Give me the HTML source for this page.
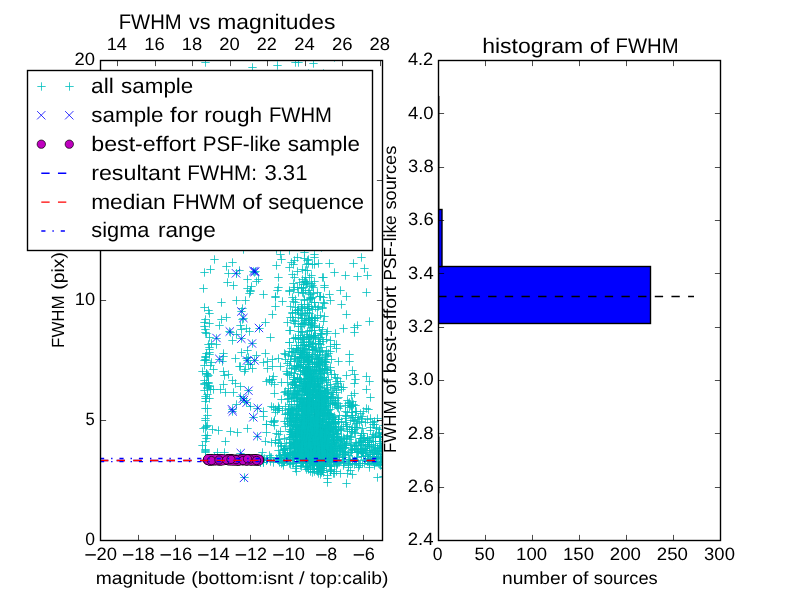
<!DOCTYPE html>
<html><head><meta charset="utf-8"><title>FWHM</title>
<style>
html,body{margin:0;padding:0;background:#fff;}
body{width:800px;height:600px;overflow:hidden;}
svg{display:block;will-change:transform;}
text{font-family:"Liberation Sans",sans-serif;fill:#000;font-kerning:none;text-rendering:geometricPrecision;}
</style></head><body>
<svg width="800" height="600" viewBox="0 0 800 600">
<rect width="800" height="600" fill="#fff"/>
<defs><clipPath id="c1"><rect x="100" y="60" width="282" height="480"/></clipPath><clipPath id="c2"><rect x="438" y="60" width="282" height="480"/></clipPath></defs>
<g clip-path="url(#c1)">
<path d="M327.3 444.5h8.4m-4.2-4.2v8.4M301.3 443.5h8.4m-4.2-4.2v8.4M307.3 382.5h8.4m-4.2-4.2v8.4M312.3 460.5h8.4m-4.2-4.2v8.4M298.3 323.5h8.4m-4.2-4.2v8.4M307.3 383.5h8.4m-4.2-4.2v8.4M307.3 286.5h8.4m-4.2-4.2v8.4M286.3 330.5h8.4m-4.2-4.2v8.4M319.3 406.5h8.4m-4.2-4.2v8.4M314.3 449.5h8.4m-4.2-4.2v8.4M300.3 357.5h8.4m-4.2-4.2v8.4M305.3 418.5h8.4m-4.2-4.2v8.4M313.3 432.5h8.4m-4.2-4.2v8.4M304.3 373.5h8.4m-4.2-4.2v8.4M304.3 430.5h8.4m-4.2-4.2v8.4M313.3 405.5h8.4m-4.2-4.2v8.4M308.3 349.5h8.4m-4.2-4.2v8.4M310.3 350.5h8.4m-4.2-4.2v8.4M289.3 397.5h8.4m-4.2-4.2v8.4M326.3 367.5h8.4m-4.2-4.2v8.4M309.3 423.5h8.4m-4.2-4.2v8.4M302.3 414.5h8.4m-4.2-4.2v8.4M330.3 272.5h8.4m-4.2-4.2v8.4M306.3 389.5h8.4m-4.2-4.2v8.4M290.3 385.5h8.4m-4.2-4.2v8.4M280.3 392.5h8.4m-4.2-4.2v8.4M319.3 463.5h8.4m-4.2-4.2v8.4M302.3 395.5h8.4m-4.2-4.2v8.4M298.3 402.5h8.4m-4.2-4.2v8.4M319.3 412.5h8.4m-4.2-4.2v8.4M313.3 394.5h8.4m-4.2-4.2v8.4M299.3 364.5h8.4m-4.2-4.2v8.4M324.3 437.5h8.4m-4.2-4.2v8.4M327.3 439.5h8.4m-4.2-4.2v8.4M303.3 421.5h8.4m-4.2-4.2v8.4M317.3 360.5h8.4m-4.2-4.2v8.4M305.3 349.5h8.4m-4.2-4.2v8.4M313.3 406.5h8.4m-4.2-4.2v8.4M298.3 425.5h8.4m-4.2-4.2v8.4M287.3 434.5h8.4m-4.2-4.2v8.4M286.3 458.5h8.4m-4.2-4.2v8.4M311.3 430.5h8.4m-4.2-4.2v8.4M333.3 440.5h8.4m-4.2-4.2v8.4M310.3 254.5h8.4m-4.2-4.2v8.4M301.3 413.5h8.4m-4.2-4.2v8.4M329.3 419.5h8.4m-4.2-4.2v8.4M310.3 422.5h8.4m-4.2-4.2v8.4M308.3 451.5h8.4m-4.2-4.2v8.4M310.3 447.5h8.4m-4.2-4.2v8.4M305.3 401.5h8.4m-4.2-4.2v8.4M303.3 373.5h8.4m-4.2-4.2v8.4M313.3 440.5h8.4m-4.2-4.2v8.4M306.3 391.5h8.4m-4.2-4.2v8.4M321.3 391.5h8.4m-4.2-4.2v8.4M303.3 378.5h8.4m-4.2-4.2v8.4M285.3 452.5h8.4m-4.2-4.2v8.4M306.3 342.5h8.4m-4.2-4.2v8.4M327.3 414.5h8.4m-4.2-4.2v8.4M302.3 399.5h8.4m-4.2-4.2v8.4M296.3 456.5h8.4m-4.2-4.2v8.4M293.3 257.5h8.4m-4.2-4.2v8.4M295.3 386.5h8.4m-4.2-4.2v8.4M303.3 444.5h8.4m-4.2-4.2v8.4M293.3 393.5h8.4m-4.2-4.2v8.4M324.3 456.5h8.4m-4.2-4.2v8.4M304.3 459.5h8.4m-4.2-4.2v8.4M308.3 390.5h8.4m-4.2-4.2v8.4M324.3 409.5h8.4m-4.2-4.2v8.4M324.3 413.5h8.4m-4.2-4.2v8.4M304.3 468.5h8.4m-4.2-4.2v8.4M311.3 458.5h8.4m-4.2-4.2v8.4M315.3 465.5h8.4m-4.2-4.2v8.4M305.3 443.5h8.4m-4.2-4.2v8.4M286.3 453.5h8.4m-4.2-4.2v8.4M314.3 413.5h8.4m-4.2-4.2v8.4M317.3 393.5h8.4m-4.2-4.2v8.4M312.3 426.5h8.4m-4.2-4.2v8.4M296.3 385.5h8.4m-4.2-4.2v8.4M305.3 438.5h8.4m-4.2-4.2v8.4M300.3 324.5h8.4m-4.2-4.2v8.4M303.3 394.5h8.4m-4.2-4.2v8.4M322.3 445.5h8.4m-4.2-4.2v8.4M325.3 434.5h8.4m-4.2-4.2v8.4M315.3 428.5h8.4m-4.2-4.2v8.4M313.3 363.5h8.4m-4.2-4.2v8.4M315.3 391.5h8.4m-4.2-4.2v8.4M307.3 452.5h8.4m-4.2-4.2v8.4M306.3 397.5h8.4m-4.2-4.2v8.4M299.3 462.5h8.4m-4.2-4.2v8.4M306.3 418.5h8.4m-4.2-4.2v8.4M333.3 407.5h8.4m-4.2-4.2v8.4M317.3 454.5h8.4m-4.2-4.2v8.4M303.3 394.5h8.4m-4.2-4.2v8.4M301.3 431.5h8.4m-4.2-4.2v8.4M297.3 451.5h8.4m-4.2-4.2v8.4M311.3 349.5h8.4m-4.2-4.2v8.4M311.3 396.5h8.4m-4.2-4.2v8.4M290.3 443.5h8.4m-4.2-4.2v8.4M313.3 446.5h8.4m-4.2-4.2v8.4M300.3 432.5h8.4m-4.2-4.2v8.4M323.3 389.5h8.4m-4.2-4.2v8.4M309.3 337.5h8.4m-4.2-4.2v8.4M327.3 423.5h8.4m-4.2-4.2v8.4M302.3 463.5h8.4m-4.2-4.2v8.4M303.3 461.5h8.4m-4.2-4.2v8.4M310.3 433.5h8.4m-4.2-4.2v8.4M319.3 395.5h8.4m-4.2-4.2v8.4M313.3 445.5h8.4m-4.2-4.2v8.4M292.3 398.5h8.4m-4.2-4.2v8.4M309.3 465.5h8.4m-4.2-4.2v8.4M307.3 441.5h8.4m-4.2-4.2v8.4M302.3 398.5h8.4m-4.2-4.2v8.4M299.3 389.5h8.4m-4.2-4.2v8.4M327.3 441.5h8.4m-4.2-4.2v8.4M302.3 446.5h8.4m-4.2-4.2v8.4M297.3 452.5h8.4m-4.2-4.2v8.4M314.3 431.5h8.4m-4.2-4.2v8.4M308.3 434.5h8.4m-4.2-4.2v8.4M306.3 369.5h8.4m-4.2-4.2v8.4M316.3 442.5h8.4m-4.2-4.2v8.4M313.3 454.5h8.4m-4.2-4.2v8.4M311.3 424.5h8.4m-4.2-4.2v8.4M318.3 395.5h8.4m-4.2-4.2v8.4M310.3 387.5h8.4m-4.2-4.2v8.4M300.3 455.5h8.4m-4.2-4.2v8.4M303.3 414.5h8.4m-4.2-4.2v8.4M301.3 389.5h8.4m-4.2-4.2v8.4M309.3 425.5h8.4m-4.2-4.2v8.4M294.3 326.5h8.4m-4.2-4.2v8.4M286.3 448.5h8.4m-4.2-4.2v8.4M308.3 432.5h8.4m-4.2-4.2v8.4M291.3 369.5h8.4m-4.2-4.2v8.4M311.3 457.5h8.4m-4.2-4.2v8.4M299.3 370.5h8.4m-4.2-4.2v8.4M313.3 438.5h8.4m-4.2-4.2v8.4M301.3 368.5h8.4m-4.2-4.2v8.4M294.3 408.5h8.4m-4.2-4.2v8.4M292.3 348.5h8.4m-4.2-4.2v8.4M301.3 449.5h8.4m-4.2-4.2v8.4M304.3 318.5h8.4m-4.2-4.2v8.4M297.3 425.5h8.4m-4.2-4.2v8.4M304.3 362.5h8.4m-4.2-4.2v8.4M289.3 439.5h8.4m-4.2-4.2v8.4M307.3 446.5h8.4m-4.2-4.2v8.4M286.3 431.5h8.4m-4.2-4.2v8.4M305.3 395.5h8.4m-4.2-4.2v8.4M315.3 364.5h8.4m-4.2-4.2v8.4M320.3 431.5h8.4m-4.2-4.2v8.4M327.3 464.5h8.4m-4.2-4.2v8.4M289.3 264.5h8.4m-4.2-4.2v8.4M316.3 404.5h8.4m-4.2-4.2v8.4M321.3 439.5h8.4m-4.2-4.2v8.4M318.3 415.5h8.4m-4.2-4.2v8.4M296.3 447.5h8.4m-4.2-4.2v8.4M312.3 426.5h8.4m-4.2-4.2v8.4M329.3 454.5h8.4m-4.2-4.2v8.4M289.3 441.5h8.4m-4.2-4.2v8.4M312.3 449.5h8.4m-4.2-4.2v8.4M320.3 438.5h8.4m-4.2-4.2v8.4M299.3 350.5h8.4m-4.2-4.2v8.4M314.3 393.5h8.4m-4.2-4.2v8.4M294.3 425.5h8.4m-4.2-4.2v8.4M297.3 318.5h8.4m-4.2-4.2v8.4M297.3 441.5h8.4m-4.2-4.2v8.4M309.3 397.5h8.4m-4.2-4.2v8.4M306.3 371.5h8.4m-4.2-4.2v8.4M318.3 458.5h8.4m-4.2-4.2v8.4M296.3 338.5h8.4m-4.2-4.2v8.4M305.3 376.5h8.4m-4.2-4.2v8.4M318.3 416.5h8.4m-4.2-4.2v8.4M313.3 422.5h8.4m-4.2-4.2v8.4M291.3 393.5h8.4m-4.2-4.2v8.4M315.3 426.5h8.4m-4.2-4.2v8.4M301.3 467.5h8.4m-4.2-4.2v8.4M311.3 450.5h8.4m-4.2-4.2v8.4M310.3 366.5h8.4m-4.2-4.2v8.4M321.3 432.5h8.4m-4.2-4.2v8.4M308.3 452.5h8.4m-4.2-4.2v8.4M285.3 291.5h8.4m-4.2-4.2v8.4M291.3 417.5h8.4m-4.2-4.2v8.4M315.3 439.5h8.4m-4.2-4.2v8.4M304.3 418.5h8.4m-4.2-4.2v8.4M320.3 462.5h8.4m-4.2-4.2v8.4M310.3 411.5h8.4m-4.2-4.2v8.4M298.3 388.5h8.4m-4.2-4.2v8.4M319.3 472.5h8.4m-4.2-4.2v8.4M297.3 420.5h8.4m-4.2-4.2v8.4M283.3 394.5h8.4m-4.2-4.2v8.4M331.3 448.5h8.4m-4.2-4.2v8.4M285.3 342.5h8.4m-4.2-4.2v8.4M314.3 395.5h8.4m-4.2-4.2v8.4M318.3 462.5h8.4m-4.2-4.2v8.4M309.3 409.5h8.4m-4.2-4.2v8.4M287.3 398.5h8.4m-4.2-4.2v8.4M319.3 439.5h8.4m-4.2-4.2v8.4M290.3 382.5h8.4m-4.2-4.2v8.4M291.3 422.5h8.4m-4.2-4.2v8.4M303.3 424.5h8.4m-4.2-4.2v8.4M316.3 457.5h8.4m-4.2-4.2v8.4M310.3 411.5h8.4m-4.2-4.2v8.4M316.3 462.5h8.4m-4.2-4.2v8.4M302.3 390.5h8.4m-4.2-4.2v8.4M305.3 452.5h8.4m-4.2-4.2v8.4M294.3 453.5h8.4m-4.2-4.2v8.4M303.3 352.5h8.4m-4.2-4.2v8.4M314.3 454.5h8.4m-4.2-4.2v8.4M303.3 411.5h8.4m-4.2-4.2v8.4M312.3 446.5h8.4m-4.2-4.2v8.4M307.3 441.5h8.4m-4.2-4.2v8.4M305.3 320.5h8.4m-4.2-4.2v8.4M314.3 343.5h8.4m-4.2-4.2v8.4M309.3 453.5h8.4m-4.2-4.2v8.4M327.3 448.5h8.4m-4.2-4.2v8.4M304.3 449.5h8.4m-4.2-4.2v8.4M304.3 446.5h8.4m-4.2-4.2v8.4M295.3 404.5h8.4m-4.2-4.2v8.4M307.3 436.5h8.4m-4.2-4.2v8.4M315.3 428.5h8.4m-4.2-4.2v8.4M298.3 444.5h8.4m-4.2-4.2v8.4M306.3 409.5h8.4m-4.2-4.2v8.4M315.3 327.5h8.4m-4.2-4.2v8.4M305.3 438.5h8.4m-4.2-4.2v8.4M301.3 388.5h8.4m-4.2-4.2v8.4M318.3 454.5h8.4m-4.2-4.2v8.4M308.3 390.5h8.4m-4.2-4.2v8.4M311.3 422.5h8.4m-4.2-4.2v8.4M320.3 361.5h8.4m-4.2-4.2v8.4M320.3 466.5h8.4m-4.2-4.2v8.4M303.3 401.5h8.4m-4.2-4.2v8.4M301.3 431.5h8.4m-4.2-4.2v8.4M310.3 442.5h8.4m-4.2-4.2v8.4M305.3 446.5h8.4m-4.2-4.2v8.4M285.3 290.5h8.4m-4.2-4.2v8.4M322.3 446.5h8.4m-4.2-4.2v8.4M307.3 406.5h8.4m-4.2-4.2v8.4M315.3 468.5h8.4m-4.2-4.2v8.4M322.3 396.5h8.4m-4.2-4.2v8.4M300.3 388.5h8.4m-4.2-4.2v8.4M306.3 419.5h8.4m-4.2-4.2v8.4M291.3 429.5h8.4m-4.2-4.2v8.4M305.3 421.5h8.4m-4.2-4.2v8.4M304.3 403.5h8.4m-4.2-4.2v8.4M305.3 424.5h8.4m-4.2-4.2v8.4M312.3 348.5h8.4m-4.2-4.2v8.4M308.3 441.5h8.4m-4.2-4.2v8.4M318.3 368.5h8.4m-4.2-4.2v8.4M301.3 433.5h8.4m-4.2-4.2v8.4M295.3 443.5h8.4m-4.2-4.2v8.4M307.3 446.5h8.4m-4.2-4.2v8.4M314.3 448.5h8.4m-4.2-4.2v8.4M321.3 359.5h8.4m-4.2-4.2v8.4M316.3 390.5h8.4m-4.2-4.2v8.4M286.3 361.5h8.4m-4.2-4.2v8.4M311.3 444.5h8.4m-4.2-4.2v8.4M324.3 459.5h8.4m-4.2-4.2v8.4M308.3 443.5h8.4m-4.2-4.2v8.4M301.3 388.5h8.4m-4.2-4.2v8.4M310.3 458.5h8.4m-4.2-4.2v8.4M301.3 430.5h8.4m-4.2-4.2v8.4M314.3 433.5h8.4m-4.2-4.2v8.4M307.3 380.5h8.4m-4.2-4.2v8.4M323.3 412.5h8.4m-4.2-4.2v8.4M313.3 445.5h8.4m-4.2-4.2v8.4M298.3 434.5h8.4m-4.2-4.2v8.4M314.3 378.5h8.4m-4.2-4.2v8.4M318.3 363.5h8.4m-4.2-4.2v8.4M300.3 420.5h8.4m-4.2-4.2v8.4M302.3 367.5h8.4m-4.2-4.2v8.4M280.3 448.5h8.4m-4.2-4.2v8.4M317.3 434.5h8.4m-4.2-4.2v8.4M300.3 391.5h8.4m-4.2-4.2v8.4M282.3 458.5h8.4m-4.2-4.2v8.4M286.3 409.5h8.4m-4.2-4.2v8.4M304.3 346.5h8.4m-4.2-4.2v8.4M316.3 450.5h8.4m-4.2-4.2v8.4M306.3 460.5h8.4m-4.2-4.2v8.4M312.3 412.5h8.4m-4.2-4.2v8.4M294.3 390.5h8.4m-4.2-4.2v8.4M291.3 444.5h8.4m-4.2-4.2v8.4M317.3 439.5h8.4m-4.2-4.2v8.4M313.3 427.5h8.4m-4.2-4.2v8.4M306.3 444.5h8.4m-4.2-4.2v8.4M322.3 406.5h8.4m-4.2-4.2v8.4M296.3 442.5h8.4m-4.2-4.2v8.4M302.3 372.5h8.4m-4.2-4.2v8.4M319.3 413.5h8.4m-4.2-4.2v8.4M328.3 452.5h8.4m-4.2-4.2v8.4M307.3 379.5h8.4m-4.2-4.2v8.4M326.3 466.5h8.4m-4.2-4.2v8.4M300.3 383.5h8.4m-4.2-4.2v8.4M311.3 457.5h8.4m-4.2-4.2v8.4M305.3 417.5h8.4m-4.2-4.2v8.4M288.3 409.5h8.4m-4.2-4.2v8.4M310.3 428.5h8.4m-4.2-4.2v8.4M318.3 399.5h8.4m-4.2-4.2v8.4M305.3 389.5h8.4m-4.2-4.2v8.4M306.3 450.5h8.4m-4.2-4.2v8.4M323.3 478.5h8.4m-4.2-4.2v8.4M289.3 425.5h8.4m-4.2-4.2v8.4M299.3 342.5h8.4m-4.2-4.2v8.4M293.3 394.5h8.4m-4.2-4.2v8.4M323.3 392.5h8.4m-4.2-4.2v8.4M310.3 462.5h8.4m-4.2-4.2v8.4M297.3 408.5h8.4m-4.2-4.2v8.4M300.3 360.5h8.4m-4.2-4.2v8.4M340.3 442.5h8.4m-4.2-4.2v8.4M300.3 383.5h8.4m-4.2-4.2v8.4M298.3 337.5h8.4m-4.2-4.2v8.4M310.3 384.5h8.4m-4.2-4.2v8.4M314.3 452.5h8.4m-4.2-4.2v8.4M309.3 337.5h8.4m-4.2-4.2v8.4M296.3 401.5h8.4m-4.2-4.2v8.4M293.3 441.5h8.4m-4.2-4.2v8.4M314.3 386.5h8.4m-4.2-4.2v8.4M306.3 451.5h8.4m-4.2-4.2v8.4M288.3 436.5h8.4m-4.2-4.2v8.4M320.3 439.5h8.4m-4.2-4.2v8.4M316.3 424.5h8.4m-4.2-4.2v8.4M304.3 443.5h8.4m-4.2-4.2v8.4M304.3 346.5h8.4m-4.2-4.2v8.4M310.3 381.5h8.4m-4.2-4.2v8.4M299.3 434.5h8.4m-4.2-4.2v8.4M311.3 447.5h8.4m-4.2-4.2v8.4M290.3 452.5h8.4m-4.2-4.2v8.4M311.3 389.5h8.4m-4.2-4.2v8.4M290.3 442.5h8.4m-4.2-4.2v8.4M306.3 441.5h8.4m-4.2-4.2v8.4M305.3 460.5h8.4m-4.2-4.2v8.4M328.3 418.5h8.4m-4.2-4.2v8.4M294.3 449.5h8.4m-4.2-4.2v8.4M290.3 392.5h8.4m-4.2-4.2v8.4M299.3 460.5h8.4m-4.2-4.2v8.4M294.3 415.5h8.4m-4.2-4.2v8.4M300.3 320.5h8.4m-4.2-4.2v8.4M312.3 414.5h8.4m-4.2-4.2v8.4M316.3 440.5h8.4m-4.2-4.2v8.4M326.3 471.5h8.4m-4.2-4.2v8.4M298.3 269.5h8.4m-4.2-4.2v8.4M338.3 451.5h8.4m-4.2-4.2v8.4M330.3 442.5h8.4m-4.2-4.2v8.4M304.3 434.5h8.4m-4.2-4.2v8.4M280.3 353.5h8.4m-4.2-4.2v8.4M306.3 423.5h8.4m-4.2-4.2v8.4M308.3 323.5h8.4m-4.2-4.2v8.4M308.3 394.5h8.4m-4.2-4.2v8.4M305.3 425.5h8.4m-4.2-4.2v8.4M298.3 404.5h8.4m-4.2-4.2v8.4M314.3 343.5h8.4m-4.2-4.2v8.4M319.3 402.5h8.4m-4.2-4.2v8.4M301.3 374.5h8.4m-4.2-4.2v8.4M310.3 326.5h8.4m-4.2-4.2v8.4M299.3 421.5h8.4m-4.2-4.2v8.4M298.3 342.5h8.4m-4.2-4.2v8.4M308.3 389.5h8.4m-4.2-4.2v8.4M313.3 428.5h8.4m-4.2-4.2v8.4M300.3 378.5h8.4m-4.2-4.2v8.4M281.3 454.5h8.4m-4.2-4.2v8.4M314.3 469.5h8.4m-4.2-4.2v8.4M288.3 312.5h8.4m-4.2-4.2v8.4M308.3 264.5h8.4m-4.2-4.2v8.4M328.3 437.5h8.4m-4.2-4.2v8.4M307.3 438.5h8.4m-4.2-4.2v8.4M293.3 441.5h8.4m-4.2-4.2v8.4M290.3 260.5h8.4m-4.2-4.2v8.4M320.3 444.5h8.4m-4.2-4.2v8.4M307.3 401.5h8.4m-4.2-4.2v8.4M313.3 378.5h8.4m-4.2-4.2v8.4M318.3 440.5h8.4m-4.2-4.2v8.4M306.3 298.5h8.4m-4.2-4.2v8.4M303.3 431.5h8.4m-4.2-4.2v8.4M296.3 366.5h8.4m-4.2-4.2v8.4M271.3 442.5h8.4m-4.2-4.2v8.4M289.3 413.5h8.4m-4.2-4.2v8.4M306.3 394.5h8.4m-4.2-4.2v8.4M305.3 444.5h8.4m-4.2-4.2v8.4M312.3 366.5h8.4m-4.2-4.2v8.4M305.3 308.5h8.4m-4.2-4.2v8.4M309.3 440.5h8.4m-4.2-4.2v8.4M316.3 420.5h8.4m-4.2-4.2v8.4M297.3 455.5h8.4m-4.2-4.2v8.4M304.3 423.5h8.4m-4.2-4.2v8.4M288.3 396.5h8.4m-4.2-4.2v8.4M318.3 453.5h8.4m-4.2-4.2v8.4M313.3 447.5h8.4m-4.2-4.2v8.4M325.3 430.5h8.4m-4.2-4.2v8.4M319.3 451.5h8.4m-4.2-4.2v8.4M306.3 446.5h8.4m-4.2-4.2v8.4M316.3 387.5h8.4m-4.2-4.2v8.4M290.3 421.5h8.4m-4.2-4.2v8.4M312.3 364.5h8.4m-4.2-4.2v8.4M308.3 359.5h8.4m-4.2-4.2v8.4M288.3 418.5h8.4m-4.2-4.2v8.4M322.3 445.5h8.4m-4.2-4.2v8.4M299.3 358.5h8.4m-4.2-4.2v8.4M315.3 341.5h8.4m-4.2-4.2v8.4M302.3 444.5h8.4m-4.2-4.2v8.4M318.3 452.5h8.4m-4.2-4.2v8.4M322.3 380.5h8.4m-4.2-4.2v8.4M297.3 398.5h8.4m-4.2-4.2v8.4M289.3 436.5h8.4m-4.2-4.2v8.4M305.3 436.5h8.4m-4.2-4.2v8.4M317.3 429.5h8.4m-4.2-4.2v8.4M303.3 308.5h8.4m-4.2-4.2v8.4M300.3 442.5h8.4m-4.2-4.2v8.4M313.3 386.5h8.4m-4.2-4.2v8.4M275.3 439.5h8.4m-4.2-4.2v8.4M299.3 398.5h8.4m-4.2-4.2v8.4M291.3 426.5h8.4m-4.2-4.2v8.4M310.3 414.5h8.4m-4.2-4.2v8.4M298.3 452.5h8.4m-4.2-4.2v8.4M294.3 310.5h8.4m-4.2-4.2v8.4M290.3 404.5h8.4m-4.2-4.2v8.4M307.3 433.5h8.4m-4.2-4.2v8.4M299.3 362.5h8.4m-4.2-4.2v8.4M302.3 452.5h8.4m-4.2-4.2v8.4M298.3 462.5h8.4m-4.2-4.2v8.4M317.3 409.5h8.4m-4.2-4.2v8.4M306.3 409.5h8.4m-4.2-4.2v8.4M313.3 423.5h8.4m-4.2-4.2v8.4M312.3 458.5h8.4m-4.2-4.2v8.4M297.3 324.5h8.4m-4.2-4.2v8.4M313.3 405.5h8.4m-4.2-4.2v8.4M311.3 450.5h8.4m-4.2-4.2v8.4M311.3 402.5h8.4m-4.2-4.2v8.4M302.3 454.5h8.4m-4.2-4.2v8.4M316.3 315.5h8.4m-4.2-4.2v8.4M332.3 348.5h8.4m-4.2-4.2v8.4M297.3 342.5h8.4m-4.2-4.2v8.4M313.3 430.5h8.4m-4.2-4.2v8.4M303.3 426.5h8.4m-4.2-4.2v8.4M316.3 434.5h8.4m-4.2-4.2v8.4M312.3 392.5h8.4m-4.2-4.2v8.4M319.3 464.5h8.4m-4.2-4.2v8.4M274.3 408.5h8.4m-4.2-4.2v8.4M300.3 406.5h8.4m-4.2-4.2v8.4M295.3 282.5h8.4m-4.2-4.2v8.4M306.3 325.5h8.4m-4.2-4.2v8.4M298.3 424.5h8.4m-4.2-4.2v8.4M299.3 403.5h8.4m-4.2-4.2v8.4M315.3 406.5h8.4m-4.2-4.2v8.4M329.3 439.5h8.4m-4.2-4.2v8.4M274.3 434.5h8.4m-4.2-4.2v8.4M303.3 449.5h8.4m-4.2-4.2v8.4M310.3 425.5h8.4m-4.2-4.2v8.4M307.3 412.5h8.4m-4.2-4.2v8.4M303.3 447.5h8.4m-4.2-4.2v8.4M291.3 435.5h8.4m-4.2-4.2v8.4M296.3 465.5h8.4m-4.2-4.2v8.4M315.3 409.5h8.4m-4.2-4.2v8.4M319.3 455.5h8.4m-4.2-4.2v8.4M308.3 452.5h8.4m-4.2-4.2v8.4M297.3 357.5h8.4m-4.2-4.2v8.4M308.3 453.5h8.4m-4.2-4.2v8.4M304.3 386.5h8.4m-4.2-4.2v8.4M313.3 414.5h8.4m-4.2-4.2v8.4M308.3 443.5h8.4m-4.2-4.2v8.4M300.3 402.5h8.4m-4.2-4.2v8.4M309.3 420.5h8.4m-4.2-4.2v8.4M293.3 287.5h8.4m-4.2-4.2v8.4M316.3 296.5h8.4m-4.2-4.2v8.4M321.3 428.5h8.4m-4.2-4.2v8.4M293.3 426.5h8.4m-4.2-4.2v8.4M312.3 430.5h8.4m-4.2-4.2v8.4M295.3 456.5h8.4m-4.2-4.2v8.4M319.3 434.5h8.4m-4.2-4.2v8.4M317.3 455.5h8.4m-4.2-4.2v8.4M304.3 439.5h8.4m-4.2-4.2v8.4M318.3 396.5h8.4m-4.2-4.2v8.4M302.3 372.5h8.4m-4.2-4.2v8.4M299.3 417.5h8.4m-4.2-4.2v8.4M300.3 252.5h8.4m-4.2-4.2v8.4M305.3 445.5h8.4m-4.2-4.2v8.4M303.3 449.5h8.4m-4.2-4.2v8.4M309.3 405.5h8.4m-4.2-4.2v8.4M300.3 412.5h8.4m-4.2-4.2v8.4M316.3 402.5h8.4m-4.2-4.2v8.4M319.3 460.5h8.4m-4.2-4.2v8.4M301.3 387.5h8.4m-4.2-4.2v8.4M290.3 448.5h8.4m-4.2-4.2v8.4M315.3 434.5h8.4m-4.2-4.2v8.4M320.3 449.5h8.4m-4.2-4.2v8.4M305.3 400.5h8.4m-4.2-4.2v8.4M292.3 471.5h8.4m-4.2-4.2v8.4M310.3 264.5h8.4m-4.2-4.2v8.4M325.3 419.5h8.4m-4.2-4.2v8.4M285.3 446.5h8.4m-4.2-4.2v8.4M312.3 445.5h8.4m-4.2-4.2v8.4M303.3 420.5h8.4m-4.2-4.2v8.4M297.3 441.5h8.4m-4.2-4.2v8.4M313.3 383.5h8.4m-4.2-4.2v8.4M292.3 366.5h8.4m-4.2-4.2v8.4M310.3 409.5h8.4m-4.2-4.2v8.4M322.3 370.5h8.4m-4.2-4.2v8.4M309.3 387.5h8.4m-4.2-4.2v8.4M297.3 447.5h8.4m-4.2-4.2v8.4M286.3 434.5h8.4m-4.2-4.2v8.4M292.3 419.5h8.4m-4.2-4.2v8.4M285.3 437.5h8.4m-4.2-4.2v8.4M325.3 448.5h8.4m-4.2-4.2v8.4M304.3 426.5h8.4m-4.2-4.2v8.4M295.3 358.5h8.4m-4.2-4.2v8.4M292.3 409.5h8.4m-4.2-4.2v8.4M294.3 337.5h8.4m-4.2-4.2v8.4M303.3 415.5h8.4m-4.2-4.2v8.4M292.3 456.5h8.4m-4.2-4.2v8.4M326.3 300.5h8.4m-4.2-4.2v8.4M298.3 457.5h8.4m-4.2-4.2v8.4M298.3 427.5h8.4m-4.2-4.2v8.4M310.3 471.5h8.4m-4.2-4.2v8.4M324.3 427.5h8.4m-4.2-4.2v8.4M322.3 418.5h8.4m-4.2-4.2v8.4M301.3 430.5h8.4m-4.2-4.2v8.4M310.3 320.5h8.4m-4.2-4.2v8.4M309.3 457.5h8.4m-4.2-4.2v8.4M313.3 309.5h8.4m-4.2-4.2v8.4M310.3 380.5h8.4m-4.2-4.2v8.4M296.3 446.5h8.4m-4.2-4.2v8.4M292.3 466.5h8.4m-4.2-4.2v8.4M309.3 460.5h8.4m-4.2-4.2v8.4M293.3 401.5h8.4m-4.2-4.2v8.4M323.3 437.5h8.4m-4.2-4.2v8.4M307.3 275.5h8.4m-4.2-4.2v8.4M295.3 450.5h8.4m-4.2-4.2v8.4M303.3 364.5h8.4m-4.2-4.2v8.4M301.3 440.5h8.4m-4.2-4.2v8.4M305.3 463.5h8.4m-4.2-4.2v8.4M318.3 397.5h8.4m-4.2-4.2v8.4M290.3 397.5h8.4m-4.2-4.2v8.4M285.3 442.5h8.4m-4.2-4.2v8.4M311.3 439.5h8.4m-4.2-4.2v8.4M305.3 451.5h8.4m-4.2-4.2v8.4M309.3 451.5h8.4m-4.2-4.2v8.4M312.3 419.5h8.4m-4.2-4.2v8.4M305.3 426.5h8.4m-4.2-4.2v8.4M316.3 452.5h8.4m-4.2-4.2v8.4M296.3 436.5h8.4m-4.2-4.2v8.4M297.3 437.5h8.4m-4.2-4.2v8.4M294.3 406.5h8.4m-4.2-4.2v8.4M314.3 457.5h8.4m-4.2-4.2v8.4M313.3 447.5h8.4m-4.2-4.2v8.4M284.3 398.5h8.4m-4.2-4.2v8.4M294.3 442.5h8.4m-4.2-4.2v8.4M310.3 408.5h8.4m-4.2-4.2v8.4M319.3 462.5h8.4m-4.2-4.2v8.4M299.3 434.5h8.4m-4.2-4.2v8.4M305.3 398.5h8.4m-4.2-4.2v8.4M290.3 379.5h8.4m-4.2-4.2v8.4M336.3 445.5h8.4m-4.2-4.2v8.4M312.3 403.5h8.4m-4.2-4.2v8.4M317.3 410.5h8.4m-4.2-4.2v8.4M315.3 386.5h8.4m-4.2-4.2v8.4M318.3 381.5h8.4m-4.2-4.2v8.4M314.3 364.5h8.4m-4.2-4.2v8.4M303.3 448.5h8.4m-4.2-4.2v8.4M316.3 452.5h8.4m-4.2-4.2v8.4M308.3 464.5h8.4m-4.2-4.2v8.4M322.3 431.5h8.4m-4.2-4.2v8.4M298.3 424.5h8.4m-4.2-4.2v8.4M301.3 431.5h8.4m-4.2-4.2v8.4M315.3 454.5h8.4m-4.2-4.2v8.4M322.3 441.5h8.4m-4.2-4.2v8.4M309.3 447.5h8.4m-4.2-4.2v8.4M299.3 458.5h8.4m-4.2-4.2v8.4M305.3 356.5h8.4m-4.2-4.2v8.4M301.3 415.5h8.4m-4.2-4.2v8.4M329.3 451.5h8.4m-4.2-4.2v8.4M317.3 436.5h8.4m-4.2-4.2v8.4M322.3 426.5h8.4m-4.2-4.2v8.4M310.3 460.5h8.4m-4.2-4.2v8.4M300.3 421.5h8.4m-4.2-4.2v8.4M321.3 410.5h8.4m-4.2-4.2v8.4M326.3 457.5h8.4m-4.2-4.2v8.4M314.3 418.5h8.4m-4.2-4.2v8.4M307.3 330.5h8.4m-4.2-4.2v8.4M319.3 415.5h8.4m-4.2-4.2v8.4M303.3 422.5h8.4m-4.2-4.2v8.4M316.3 467.5h8.4m-4.2-4.2v8.4M299.3 284.5h8.4m-4.2-4.2v8.4M313.3 379.5h8.4m-4.2-4.2v8.4M311.3 449.5h8.4m-4.2-4.2v8.4M329.3 427.5h8.4m-4.2-4.2v8.4M304.3 366.5h8.4m-4.2-4.2v8.4M307.3 426.5h8.4m-4.2-4.2v8.4M285.3 395.5h8.4m-4.2-4.2v8.4M286.3 457.5h8.4m-4.2-4.2v8.4M312.3 438.5h8.4m-4.2-4.2v8.4M320.3 287.5h8.4m-4.2-4.2v8.4M323.3 369.5h8.4m-4.2-4.2v8.4M304.3 442.5h8.4m-4.2-4.2v8.4M326.3 461.5h8.4m-4.2-4.2v8.4M309.3 417.5h8.4m-4.2-4.2v8.4M320.3 458.5h8.4m-4.2-4.2v8.4M304.3 338.5h8.4m-4.2-4.2v8.4M318.3 434.5h8.4m-4.2-4.2v8.4M296.3 367.5h8.4m-4.2-4.2v8.4M314.3 420.5h8.4m-4.2-4.2v8.4M302.3 439.5h8.4m-4.2-4.2v8.4M305.3 337.5h8.4m-4.2-4.2v8.4M314.3 425.5h8.4m-4.2-4.2v8.4M309.3 426.5h8.4m-4.2-4.2v8.4M306.3 430.5h8.4m-4.2-4.2v8.4M315.3 401.5h8.4m-4.2-4.2v8.4M316.3 395.5h8.4m-4.2-4.2v8.4M291.3 420.5h8.4m-4.2-4.2v8.4M313.3 448.5h8.4m-4.2-4.2v8.4M315.3 453.5h8.4m-4.2-4.2v8.4M298.3 461.5h8.4m-4.2-4.2v8.4M311.3 442.5h8.4m-4.2-4.2v8.4M291.3 468.5h8.4m-4.2-4.2v8.4M324.3 443.5h8.4m-4.2-4.2v8.4M304.3 263.5h8.4m-4.2-4.2v8.4M306.3 392.5h8.4m-4.2-4.2v8.4M321.3 443.5h8.4m-4.2-4.2v8.4M305.3 299.5h8.4m-4.2-4.2v8.4M295.3 365.5h8.4m-4.2-4.2v8.4M300.3 433.5h8.4m-4.2-4.2v8.4M291.3 307.5h8.4m-4.2-4.2v8.4M304.3 378.5h8.4m-4.2-4.2v8.4M319.3 412.5h8.4m-4.2-4.2v8.4M309.3 427.5h8.4m-4.2-4.2v8.4M317.3 456.5h8.4m-4.2-4.2v8.4M295.3 435.5h8.4m-4.2-4.2v8.4M297.3 404.5h8.4m-4.2-4.2v8.4M301.3 413.5h8.4m-4.2-4.2v8.4M314.3 430.5h8.4m-4.2-4.2v8.4M311.3 384.5h8.4m-4.2-4.2v8.4M307.3 445.5h8.4m-4.2-4.2v8.4M314.3 450.5h8.4m-4.2-4.2v8.4M305.3 451.5h8.4m-4.2-4.2v8.4M307.3 404.5h8.4m-4.2-4.2v8.4M322.3 450.5h8.4m-4.2-4.2v8.4M300.3 445.5h8.4m-4.2-4.2v8.4M309.3 449.5h8.4m-4.2-4.2v8.4M326.3 454.5h8.4m-4.2-4.2v8.4M308.3 309.5h8.4m-4.2-4.2v8.4M315.3 444.5h8.4m-4.2-4.2v8.4M300.3 307.5h8.4m-4.2-4.2v8.4M330.3 438.5h8.4m-4.2-4.2v8.4M294.3 452.5h8.4m-4.2-4.2v8.4M295.3 430.5h8.4m-4.2-4.2v8.4M326.3 453.5h8.4m-4.2-4.2v8.4M311.3 391.5h8.4m-4.2-4.2v8.4M304.3 454.5h8.4m-4.2-4.2v8.4M292.3 408.5h8.4m-4.2-4.2v8.4M311.3 455.5h8.4m-4.2-4.2v8.4M308.3 459.5h8.4m-4.2-4.2v8.4M299.3 323.5h8.4m-4.2-4.2v8.4M289.3 351.5h8.4m-4.2-4.2v8.4M294.3 350.5h8.4m-4.2-4.2v8.4M310.3 362.5h8.4m-4.2-4.2v8.4M308.3 472.5h8.4m-4.2-4.2v8.4M305.3 439.5h8.4m-4.2-4.2v8.4M286.3 417.5h8.4m-4.2-4.2v8.4M307.3 298.5h8.4m-4.2-4.2v8.4M295.3 459.5h8.4m-4.2-4.2v8.4M307.3 395.5h8.4m-4.2-4.2v8.4M312.3 455.5h8.4m-4.2-4.2v8.4M299.3 454.5h8.4m-4.2-4.2v8.4M295.3 449.5h8.4m-4.2-4.2v8.4M318.3 433.5h8.4m-4.2-4.2v8.4M311.3 335.5h8.4m-4.2-4.2v8.4M299.3 339.5h8.4m-4.2-4.2v8.4M272.3 433.5h8.4m-4.2-4.2v8.4M314.3 445.5h8.4m-4.2-4.2v8.4M320.3 455.5h8.4m-4.2-4.2v8.4M299.3 420.5h8.4m-4.2-4.2v8.4M299.3 436.5h8.4m-4.2-4.2v8.4M302.3 336.5h8.4m-4.2-4.2v8.4M317.3 450.5h8.4m-4.2-4.2v8.4M293.3 310.5h8.4m-4.2-4.2v8.4M306.3 448.5h8.4m-4.2-4.2v8.4M296.3 354.5h8.4m-4.2-4.2v8.4M310.3 461.5h8.4m-4.2-4.2v8.4M289.3 289.5h8.4m-4.2-4.2v8.4M311.3 373.5h8.4m-4.2-4.2v8.4M301.3 409.5h8.4m-4.2-4.2v8.4M304.3 360.5h8.4m-4.2-4.2v8.4M313.3 381.5h8.4m-4.2-4.2v8.4M320.3 377.5h8.4m-4.2-4.2v8.4M287.3 372.5h8.4m-4.2-4.2v8.4M319.3 302.5h8.4m-4.2-4.2v8.4M313.3 412.5h8.4m-4.2-4.2v8.4M303.3 393.5h8.4m-4.2-4.2v8.4M323.3 435.5h8.4m-4.2-4.2v8.4M322.3 466.5h8.4m-4.2-4.2v8.4M300.3 372.5h8.4m-4.2-4.2v8.4M297.3 431.5h8.4m-4.2-4.2v8.4M321.3 408.5h8.4m-4.2-4.2v8.4M332.3 450.5h8.4m-4.2-4.2v8.4M314.3 436.5h8.4m-4.2-4.2v8.4M317.3 402.5h8.4m-4.2-4.2v8.4M301.3 429.5h8.4m-4.2-4.2v8.4M291.3 382.5h8.4m-4.2-4.2v8.4M304.3 397.5h8.4m-4.2-4.2v8.4M324.3 440.5h8.4m-4.2-4.2v8.4M285.3 375.5h8.4m-4.2-4.2v8.4M301.3 450.5h8.4m-4.2-4.2v8.4M285.3 418.5h8.4m-4.2-4.2v8.4M308.3 421.5h8.4m-4.2-4.2v8.4M317.3 446.5h8.4m-4.2-4.2v8.4M292.3 442.5h8.4m-4.2-4.2v8.4M302.3 469.5h8.4m-4.2-4.2v8.4M322.3 428.5h8.4m-4.2-4.2v8.4M306.3 383.5h8.4m-4.2-4.2v8.4M292.3 443.5h8.4m-4.2-4.2v8.4M292.3 394.5h8.4m-4.2-4.2v8.4M283.3 453.5h8.4m-4.2-4.2v8.4M316.3 416.5h8.4m-4.2-4.2v8.4M298.3 437.5h8.4m-4.2-4.2v8.4M319.3 436.5h8.4m-4.2-4.2v8.4M317.3 408.5h8.4m-4.2-4.2v8.4M299.3 416.5h8.4m-4.2-4.2v8.4M301.3 435.5h8.4m-4.2-4.2v8.4M316.3 442.5h8.4m-4.2-4.2v8.4M309.3 370.5h8.4m-4.2-4.2v8.4M310.3 449.5h8.4m-4.2-4.2v8.4M288.3 384.5h8.4m-4.2-4.2v8.4M317.3 462.5h8.4m-4.2-4.2v8.4M297.3 306.5h8.4m-4.2-4.2v8.4M300.3 445.5h8.4m-4.2-4.2v8.4M312.3 427.5h8.4m-4.2-4.2v8.4M331.3 446.5h8.4m-4.2-4.2v8.4M303.3 424.5h8.4m-4.2-4.2v8.4M291.3 312.5h8.4m-4.2-4.2v8.4M332.3 440.5h8.4m-4.2-4.2v8.4M309.3 454.5h8.4m-4.2-4.2v8.4M304.3 259.5h8.4m-4.2-4.2v8.4M294.3 394.5h8.4m-4.2-4.2v8.4M295.3 459.5h8.4m-4.2-4.2v8.4M324.3 455.5h8.4m-4.2-4.2v8.4M304.3 457.5h8.4m-4.2-4.2v8.4M301.3 322.5h8.4m-4.2-4.2v8.4M301.3 434.5h8.4m-4.2-4.2v8.4M325.3 427.5h8.4m-4.2-4.2v8.4M300.3 349.5h8.4m-4.2-4.2v8.4M314.3 412.5h8.4m-4.2-4.2v8.4M310.3 469.5h8.4m-4.2-4.2v8.4M310.3 460.5h8.4m-4.2-4.2v8.4M297.3 445.5h8.4m-4.2-4.2v8.4M315.3 409.5h8.4m-4.2-4.2v8.4M326.3 432.5h8.4m-4.2-4.2v8.4M306.3 426.5h8.4m-4.2-4.2v8.4M296.3 442.5h8.4m-4.2-4.2v8.4M292.3 458.5h8.4m-4.2-4.2v8.4M309.3 449.5h8.4m-4.2-4.2v8.4M304.3 391.5h8.4m-4.2-4.2v8.4M306.3 371.5h8.4m-4.2-4.2v8.4M307.3 431.5h8.4m-4.2-4.2v8.4M290.3 381.5h8.4m-4.2-4.2v8.4M316.3 440.5h8.4m-4.2-4.2v8.4M310.3 458.5h8.4m-4.2-4.2v8.4M306.3 451.5h8.4m-4.2-4.2v8.4M310.3 370.5h8.4m-4.2-4.2v8.4M318.3 362.5h8.4m-4.2-4.2v8.4M297.3 432.5h8.4m-4.2-4.2v8.4M320.3 397.5h8.4m-4.2-4.2v8.4M302.3 374.5h8.4m-4.2-4.2v8.4M298.3 390.5h8.4m-4.2-4.2v8.4M289.3 338.5h8.4m-4.2-4.2v8.4M307.3 283.5h8.4m-4.2-4.2v8.4M295.3 437.5h8.4m-4.2-4.2v8.4M301.3 381.5h8.4m-4.2-4.2v8.4M312.3 431.5h8.4m-4.2-4.2v8.4M307.3 357.5h8.4m-4.2-4.2v8.4M319.3 341.5h8.4m-4.2-4.2v8.4M310.3 302.5h8.4m-4.2-4.2v8.4M302.3 375.5h8.4m-4.2-4.2v8.4M303.3 304.5h8.4m-4.2-4.2v8.4M301.3 459.5h8.4m-4.2-4.2v8.4M314.3 473.5h8.4m-4.2-4.2v8.4M307.3 434.5h8.4m-4.2-4.2v8.4M302.3 382.5h8.4m-4.2-4.2v8.4M317.3 398.5h8.4m-4.2-4.2v8.4M308.3 364.5h8.4m-4.2-4.2v8.4M301.3 451.5h8.4m-4.2-4.2v8.4M289.3 377.5h8.4m-4.2-4.2v8.4M312.3 418.5h8.4m-4.2-4.2v8.4M310.3 443.5h8.4m-4.2-4.2v8.4M307.3 427.5h8.4m-4.2-4.2v8.4M302.3 373.5h8.4m-4.2-4.2v8.4M297.3 446.5h8.4m-4.2-4.2v8.4M304.3 324.5h8.4m-4.2-4.2v8.4M310.3 454.5h8.4m-4.2-4.2v8.4M305.3 447.5h8.4m-4.2-4.2v8.4M305.3 430.5h8.4m-4.2-4.2v8.4M301.3 371.5h8.4m-4.2-4.2v8.4M311.3 385.5h8.4m-4.2-4.2v8.4M310.3 362.5h8.4m-4.2-4.2v8.4M298.3 444.5h8.4m-4.2-4.2v8.4M316.3 448.5h8.4m-4.2-4.2v8.4M316.3 433.5h8.4m-4.2-4.2v8.4M316.3 471.5h8.4m-4.2-4.2v8.4M305.3 437.5h8.4m-4.2-4.2v8.4M293.3 378.5h8.4m-4.2-4.2v8.4M316.3 444.5h8.4m-4.2-4.2v8.4M302.3 408.5h8.4m-4.2-4.2v8.4M303.3 461.5h8.4m-4.2-4.2v8.4M317.3 455.5h8.4m-4.2-4.2v8.4M307.3 410.5h8.4m-4.2-4.2v8.4M296.3 441.5h8.4m-4.2-4.2v8.4M290.3 444.5h8.4m-4.2-4.2v8.4M298.3 434.5h8.4m-4.2-4.2v8.4M308.3 409.5h8.4m-4.2-4.2v8.4M307.3 317.5h8.4m-4.2-4.2v8.4M305.3 460.5h8.4m-4.2-4.2v8.4M299.3 293.5h8.4m-4.2-4.2v8.4M304.3 427.5h8.4m-4.2-4.2v8.4M318.3 440.5h8.4m-4.2-4.2v8.4M294.3 432.5h8.4m-4.2-4.2v8.4M307.3 439.5h8.4m-4.2-4.2v8.4M326.3 429.5h8.4m-4.2-4.2v8.4M313.3 434.5h8.4m-4.2-4.2v8.4M302.3 345.5h8.4m-4.2-4.2v8.4M315.3 433.5h8.4m-4.2-4.2v8.4M298.3 451.5h8.4m-4.2-4.2v8.4M307.3 324.5h8.4m-4.2-4.2v8.4M325.3 413.5h8.4m-4.2-4.2v8.4M329.3 451.5h8.4m-4.2-4.2v8.4M287.3 401.5h8.4m-4.2-4.2v8.4M315.3 418.5h8.4m-4.2-4.2v8.4M330.3 465.5h8.4m-4.2-4.2v8.4M300.3 445.5h8.4m-4.2-4.2v8.4M310.3 448.5h8.4m-4.2-4.2v8.4M324.3 457.5h8.4m-4.2-4.2v8.4M301.3 414.5h8.4m-4.2-4.2v8.4M312.3 450.5h8.4m-4.2-4.2v8.4M306.3 424.5h8.4m-4.2-4.2v8.4M284.3 409.5h8.4m-4.2-4.2v8.4M311.3 417.5h8.4m-4.2-4.2v8.4M305.3 341.5h8.4m-4.2-4.2v8.4M318.3 455.5h8.4m-4.2-4.2v8.4M331.3 459.5h8.4m-4.2-4.2v8.4M315.3 407.5h8.4m-4.2-4.2v8.4M303.3 414.5h8.4m-4.2-4.2v8.4M312.3 460.5h8.4m-4.2-4.2v8.4M309.3 453.5h8.4m-4.2-4.2v8.4M319.3 455.5h8.4m-4.2-4.2v8.4M290.3 277.5h8.4m-4.2-4.2v8.4M293.3 426.5h8.4m-4.2-4.2v8.4M283.3 393.5h8.4m-4.2-4.2v8.4M314.3 421.5h8.4m-4.2-4.2v8.4M307.3 379.5h8.4m-4.2-4.2v8.4M299.3 421.5h8.4m-4.2-4.2v8.4M298.3 435.5h8.4m-4.2-4.2v8.4M300.3 383.5h8.4m-4.2-4.2v8.4M296.3 435.5h8.4m-4.2-4.2v8.4M303.3 450.5h8.4m-4.2-4.2v8.4M323.3 356.5h8.4m-4.2-4.2v8.4M311.3 421.5h8.4m-4.2-4.2v8.4M297.3 381.5h8.4m-4.2-4.2v8.4M300.3 345.5h8.4m-4.2-4.2v8.4M321.3 453.5h8.4m-4.2-4.2v8.4M312.3 454.5h8.4m-4.2-4.2v8.4M310.3 450.5h8.4m-4.2-4.2v8.4M315.3 365.5h8.4m-4.2-4.2v8.4M325.3 294.5h8.4m-4.2-4.2v8.4M293.3 414.5h8.4m-4.2-4.2v8.4M287.3 411.5h8.4m-4.2-4.2v8.4M313.3 442.5h8.4m-4.2-4.2v8.4M302.3 436.5h8.4m-4.2-4.2v8.4M299.3 403.5h8.4m-4.2-4.2v8.4M298.3 426.5h8.4m-4.2-4.2v8.4M315.3 357.5h8.4m-4.2-4.2v8.4M305.3 290.5h8.4m-4.2-4.2v8.4M301.3 384.5h8.4m-4.2-4.2v8.4M321.3 426.5h8.4m-4.2-4.2v8.4M295.3 434.5h8.4m-4.2-4.2v8.4M337.3 428.5h8.4m-4.2-4.2v8.4M303.3 403.5h8.4m-4.2-4.2v8.4M301.3 462.5h8.4m-4.2-4.2v8.4M305.3 437.5h8.4m-4.2-4.2v8.4M316.3 426.5h8.4m-4.2-4.2v8.4M316.3 442.5h8.4m-4.2-4.2v8.4M313.3 292.5h8.4m-4.2-4.2v8.4M304.3 339.5h8.4m-4.2-4.2v8.4M289.3 425.5h8.4m-4.2-4.2v8.4M310.3 385.5h8.4m-4.2-4.2v8.4M319.3 377.5h8.4m-4.2-4.2v8.4M305.3 448.5h8.4m-4.2-4.2v8.4M316.3 454.5h8.4m-4.2-4.2v8.4M302.3 432.5h8.4m-4.2-4.2v8.4M306.3 426.5h8.4m-4.2-4.2v8.4M292.3 442.5h8.4m-4.2-4.2v8.4M303.3 447.5h8.4m-4.2-4.2v8.4M308.3 452.5h8.4m-4.2-4.2v8.4M305.3 277.5h8.4m-4.2-4.2v8.4M316.3 377.5h8.4m-4.2-4.2v8.4M329.3 460.5h8.4m-4.2-4.2v8.4M322.3 438.5h8.4m-4.2-4.2v8.4M303.3 357.5h8.4m-4.2-4.2v8.4M298.3 431.5h8.4m-4.2-4.2v8.4M299.3 411.5h8.4m-4.2-4.2v8.4M295.3 432.5h8.4m-4.2-4.2v8.4M307.3 318.5h8.4m-4.2-4.2v8.4M312.3 431.5h8.4m-4.2-4.2v8.4M309.3 442.5h8.4m-4.2-4.2v8.4M309.3 381.5h8.4m-4.2-4.2v8.4M309.3 435.5h8.4m-4.2-4.2v8.4M305.3 439.5h8.4m-4.2-4.2v8.4M298.3 292.5h8.4m-4.2-4.2v8.4M327.3 374.5h8.4m-4.2-4.2v8.4M319.3 443.5h8.4m-4.2-4.2v8.4M296.3 458.5h8.4m-4.2-4.2v8.4M296.3 314.5h8.4m-4.2-4.2v8.4M300.3 429.5h8.4m-4.2-4.2v8.4M307.3 379.5h8.4m-4.2-4.2v8.4M322.3 436.5h8.4m-4.2-4.2v8.4M319.3 455.5h8.4m-4.2-4.2v8.4M319.3 454.5h8.4m-4.2-4.2v8.4M320.3 422.5h8.4m-4.2-4.2v8.4M320.3 405.5h8.4m-4.2-4.2v8.4M315.3 350.5h8.4m-4.2-4.2v8.4M312.3 449.5h8.4m-4.2-4.2v8.4M305.3 428.5h8.4m-4.2-4.2v8.4M287.3 368.5h8.4m-4.2-4.2v8.4M305.3 395.5h8.4m-4.2-4.2v8.4M328.3 423.5h8.4m-4.2-4.2v8.4M301.3 373.5h8.4m-4.2-4.2v8.4M300.3 410.5h8.4m-4.2-4.2v8.4M319.3 406.5h8.4m-4.2-4.2v8.4M308.3 430.5h8.4m-4.2-4.2v8.4M301.3 368.5h8.4m-4.2-4.2v8.4M325.3 444.5h8.4m-4.2-4.2v8.4M314.3 453.5h8.4m-4.2-4.2v8.4M316.3 383.5h8.4m-4.2-4.2v8.4M300.3 456.5h8.4m-4.2-4.2v8.4M313.3 442.5h8.4m-4.2-4.2v8.4M311.3 400.5h8.4m-4.2-4.2v8.4M316.3 403.5h8.4m-4.2-4.2v8.4M320.3 415.5h8.4m-4.2-4.2v8.4M320.3 303.5h8.4m-4.2-4.2v8.4M309.3 451.5h8.4m-4.2-4.2v8.4M315.3 416.5h8.4m-4.2-4.2v8.4M294.3 361.5h8.4m-4.2-4.2v8.4M314.3 263.5h8.4m-4.2-4.2v8.4M315.3 433.5h8.4m-4.2-4.2v8.4M302.3 456.5h8.4m-4.2-4.2v8.4M298.3 352.5h8.4m-4.2-4.2v8.4M306.3 408.5h8.4m-4.2-4.2v8.4M293.3 417.5h8.4m-4.2-4.2v8.4M311.3 343.5h8.4m-4.2-4.2v8.4M310.3 257.5h8.4m-4.2-4.2v8.4M296.3 430.5h8.4m-4.2-4.2v8.4M307.3 420.5h8.4m-4.2-4.2v8.4M319.3 428.5h8.4m-4.2-4.2v8.4M319.3 435.5h8.4m-4.2-4.2v8.4M319.3 441.5h8.4m-4.2-4.2v8.4M305.3 440.5h8.4m-4.2-4.2v8.4M303.3 359.5h8.4m-4.2-4.2v8.4M302.3 417.5h8.4m-4.2-4.2v8.4M314.3 343.5h8.4m-4.2-4.2v8.4M334.3 422.5h8.4m-4.2-4.2v8.4M323.3 446.5h8.4m-4.2-4.2v8.4M325.3 449.5h8.4m-4.2-4.2v8.4M323.3 460.5h8.4m-4.2-4.2v8.4M288.3 430.5h8.4m-4.2-4.2v8.4M305.3 370.5h8.4m-4.2-4.2v8.4M302.3 413.5h8.4m-4.2-4.2v8.4M321.3 399.5h8.4m-4.2-4.2v8.4M327.3 454.5h8.4m-4.2-4.2v8.4M299.3 362.5h8.4m-4.2-4.2v8.4M313.3 471.5h8.4m-4.2-4.2v8.4M301.3 443.5h8.4m-4.2-4.2v8.4M300.3 337.5h8.4m-4.2-4.2v8.4M299.3 438.5h8.4m-4.2-4.2v8.4M317.3 448.5h8.4m-4.2-4.2v8.4M296.3 335.5h8.4m-4.2-4.2v8.4M320.3 369.5h8.4m-4.2-4.2v8.4M316.3 449.5h8.4m-4.2-4.2v8.4M325.3 432.5h8.4m-4.2-4.2v8.4M299.3 459.5h8.4m-4.2-4.2v8.4M297.3 415.5h8.4m-4.2-4.2v8.4M312.3 369.5h8.4m-4.2-4.2v8.4M295.3 430.5h8.4m-4.2-4.2v8.4M298.3 425.5h8.4m-4.2-4.2v8.4M306.3 404.5h8.4m-4.2-4.2v8.4M309.3 453.5h8.4m-4.2-4.2v8.4M292.3 429.5h8.4m-4.2-4.2v8.4M302.3 428.5h8.4m-4.2-4.2v8.4M314.3 359.5h8.4m-4.2-4.2v8.4M322.3 430.5h8.4m-4.2-4.2v8.4M284.3 388.5h8.4m-4.2-4.2v8.4M322.3 449.5h8.4m-4.2-4.2v8.4M317.3 373.5h8.4m-4.2-4.2v8.4M294.3 433.5h8.4m-4.2-4.2v8.4M290.3 359.5h8.4m-4.2-4.2v8.4M312.3 435.5h8.4m-4.2-4.2v8.4M302.3 282.5h8.4m-4.2-4.2v8.4M308.3 461.5h8.4m-4.2-4.2v8.4M317.3 472.5h8.4m-4.2-4.2v8.4M303.3 334.5h8.4m-4.2-4.2v8.4M309.3 440.5h8.4m-4.2-4.2v8.4M312.3 416.5h8.4m-4.2-4.2v8.4M317.3 434.5h8.4m-4.2-4.2v8.4M327.3 423.5h8.4m-4.2-4.2v8.4M327.3 426.5h8.4m-4.2-4.2v8.4M310.3 421.5h8.4m-4.2-4.2v8.4M304.3 419.5h8.4m-4.2-4.2v8.4M334.3 419.5h8.4m-4.2-4.2v8.4M314.3 453.5h8.4m-4.2-4.2v8.4M312.3 406.5h8.4m-4.2-4.2v8.4M294.3 457.5h8.4m-4.2-4.2v8.4M316.3 390.5h8.4m-4.2-4.2v8.4M298.3 421.5h8.4m-4.2-4.2v8.4M302.3 392.5h8.4m-4.2-4.2v8.4M291.3 452.5h8.4m-4.2-4.2v8.4M301.3 270.5h8.4m-4.2-4.2v8.4M308.3 317.5h8.4m-4.2-4.2v8.4M289.3 301.5h8.4m-4.2-4.2v8.4M296.3 347.5h8.4m-4.2-4.2v8.4M306.3 397.5h8.4m-4.2-4.2v8.4M292.3 455.5h8.4m-4.2-4.2v8.4M292.3 418.5h8.4m-4.2-4.2v8.4M297.3 441.5h8.4m-4.2-4.2v8.4M291.3 453.5h8.4m-4.2-4.2v8.4M314.3 398.5h8.4m-4.2-4.2v8.4M316.3 296.5h8.4m-4.2-4.2v8.4M318.3 429.5h8.4m-4.2-4.2v8.4M293.3 443.5h8.4m-4.2-4.2v8.4M307.3 402.5h8.4m-4.2-4.2v8.4M301.3 455.5h8.4m-4.2-4.2v8.4M294.3 339.5h8.4m-4.2-4.2v8.4M303.3 331.5h8.4m-4.2-4.2v8.4M304.3 400.5h8.4m-4.2-4.2v8.4M315.3 365.5h8.4m-4.2-4.2v8.4M319.3 457.5h8.4m-4.2-4.2v8.4M294.3 309.5h8.4m-4.2-4.2v8.4M302.3 435.5h8.4m-4.2-4.2v8.4M313.3 426.5h8.4m-4.2-4.2v8.4M321.3 361.5h8.4m-4.2-4.2v8.4M278.3 410.5h8.4m-4.2-4.2v8.4M322.3 390.5h8.4m-4.2-4.2v8.4M305.3 442.5h8.4m-4.2-4.2v8.4M325.3 465.5h8.4m-4.2-4.2v8.4M302.3 284.5h8.4m-4.2-4.2v8.4M297.3 304.5h8.4m-4.2-4.2v8.4M307.3 377.5h8.4m-4.2-4.2v8.4M320.3 439.5h8.4m-4.2-4.2v8.4M307.3 441.5h8.4m-4.2-4.2v8.4M279.3 458.5h8.4m-4.2-4.2v8.4M315.3 351.5h8.4m-4.2-4.2v8.4M288.3 297.5h8.4m-4.2-4.2v8.4M295.3 440.5h8.4m-4.2-4.2v8.4M293.3 395.5h8.4m-4.2-4.2v8.4M285.3 414.5h8.4m-4.2-4.2v8.4M292.3 407.5h8.4m-4.2-4.2v8.4M295.3 419.5h8.4m-4.2-4.2v8.4M300.3 409.5h8.4m-4.2-4.2v8.4M306.3 461.5h8.4m-4.2-4.2v8.4M303.3 442.5h8.4m-4.2-4.2v8.4M290.3 444.5h8.4m-4.2-4.2v8.4M305.3 428.5h8.4m-4.2-4.2v8.4M318.3 433.5h8.4m-4.2-4.2v8.4M318.3 277.5h8.4m-4.2-4.2v8.4M308.3 327.5h8.4m-4.2-4.2v8.4M314.3 413.5h8.4m-4.2-4.2v8.4M317.3 435.5h8.4m-4.2-4.2v8.4M323.3 425.5h8.4m-4.2-4.2v8.4M327.3 429.5h8.4m-4.2-4.2v8.4M303.3 441.5h8.4m-4.2-4.2v8.4M304.3 344.5h8.4m-4.2-4.2v8.4M324.3 403.5h8.4m-4.2-4.2v8.4M325.3 422.5h8.4m-4.2-4.2v8.4M325.3 447.5h8.4m-4.2-4.2v8.4M280.3 421.5h8.4m-4.2-4.2v8.4M304.3 434.5h8.4m-4.2-4.2v8.4M269.3 376.5h8.4m-4.2-4.2v8.4M315.3 398.5h8.4m-4.2-4.2v8.4M307.3 374.5h8.4m-4.2-4.2v8.4M307.3 407.5h8.4m-4.2-4.2v8.4M305.3 440.5h8.4m-4.2-4.2v8.4M322.3 407.5h8.4m-4.2-4.2v8.4M303.3 412.5h8.4m-4.2-4.2v8.4M319.3 321.5h8.4m-4.2-4.2v8.4M313.3 441.5h8.4m-4.2-4.2v8.4M311.3 446.5h8.4m-4.2-4.2v8.4M312.3 390.5h8.4m-4.2-4.2v8.4M308.3 455.5h8.4m-4.2-4.2v8.4M294.3 443.5h8.4m-4.2-4.2v8.4M315.3 420.5h8.4m-4.2-4.2v8.4M315.3 395.5h8.4m-4.2-4.2v8.4M305.3 448.5h8.4m-4.2-4.2v8.4M315.3 460.5h8.4m-4.2-4.2v8.4M317.3 428.5h8.4m-4.2-4.2v8.4M292.3 345.5h8.4m-4.2-4.2v8.4M302.3 431.5h8.4m-4.2-4.2v8.4M296.3 441.5h8.4m-4.2-4.2v8.4M311.3 397.5h8.4m-4.2-4.2v8.4M297.3 364.5h8.4m-4.2-4.2v8.4M302.3 439.5h8.4m-4.2-4.2v8.4M310.3 450.5h8.4m-4.2-4.2v8.4M311.3 436.5h8.4m-4.2-4.2v8.4M311.3 447.5h8.4m-4.2-4.2v8.4M333.3 434.5h8.4m-4.2-4.2v8.4M301.3 448.5h8.4m-4.2-4.2v8.4M310.3 464.5h8.4m-4.2-4.2v8.4M312.3 411.5h8.4m-4.2-4.2v8.4M320.3 447.5h8.4m-4.2-4.2v8.4M321.3 400.5h8.4m-4.2-4.2v8.4M299.3 455.5h8.4m-4.2-4.2v8.4M304.3 435.5h8.4m-4.2-4.2v8.4M322.3 421.5h8.4m-4.2-4.2v8.4M306.3 381.5h8.4m-4.2-4.2v8.4M318.3 308.5h8.4m-4.2-4.2v8.4M296.3 441.5h8.4m-4.2-4.2v8.4M323.3 451.5h8.4m-4.2-4.2v8.4M319.3 459.5h8.4m-4.2-4.2v8.4M312.3 442.5h8.4m-4.2-4.2v8.4M298.3 450.5h8.4m-4.2-4.2v8.4M305.3 423.5h8.4m-4.2-4.2v8.4M309.3 428.5h8.4m-4.2-4.2v8.4M310.3 302.5h8.4m-4.2-4.2v8.4M306.3 294.5h8.4m-4.2-4.2v8.4M304.3 443.5h8.4m-4.2-4.2v8.4M309.3 442.5h8.4m-4.2-4.2v8.4M323.3 372.5h8.4m-4.2-4.2v8.4M283.3 373.5h8.4m-4.2-4.2v8.4M291.3 299.5h8.4m-4.2-4.2v8.4M289.3 416.5h8.4m-4.2-4.2v8.4M299.3 462.5h8.4m-4.2-4.2v8.4M287.3 432.5h8.4m-4.2-4.2v8.4M313.3 463.5h8.4m-4.2-4.2v8.4M308.3 404.5h8.4m-4.2-4.2v8.4M304.3 422.5h8.4m-4.2-4.2v8.4M299.3 450.5h8.4m-4.2-4.2v8.4M309.3 391.5h8.4m-4.2-4.2v8.4M309.3 397.5h8.4m-4.2-4.2v8.4M311.3 421.5h8.4m-4.2-4.2v8.4M298.3 424.5h8.4m-4.2-4.2v8.4M314.3 425.5h8.4m-4.2-4.2v8.4M290.3 373.5h8.4m-4.2-4.2v8.4M321.3 457.5h8.4m-4.2-4.2v8.4M271.3 297.5h8.4m-4.2-4.2v8.4M300.3 398.5h8.4m-4.2-4.2v8.4M293.3 433.5h8.4m-4.2-4.2v8.4M316.3 395.5h8.4m-4.2-4.2v8.4M290.3 387.5h8.4m-4.2-4.2v8.4M328.3 434.5h8.4m-4.2-4.2v8.4M289.3 379.5h8.4m-4.2-4.2v8.4M330.3 388.5h8.4m-4.2-4.2v8.4M312.3 425.5h8.4m-4.2-4.2v8.4M307.3 411.5h8.4m-4.2-4.2v8.4M312.3 458.5h8.4m-4.2-4.2v8.4M332.3 441.5h8.4m-4.2-4.2v8.4M317.3 463.5h8.4m-4.2-4.2v8.4M321.3 459.5h8.4m-4.2-4.2v8.4M310.3 431.5h8.4m-4.2-4.2v8.4M288.3 383.5h8.4m-4.2-4.2v8.4M316.3 362.5h8.4m-4.2-4.2v8.4M309.3 404.5h8.4m-4.2-4.2v8.4M310.3 455.5h8.4m-4.2-4.2v8.4M299.3 407.5h8.4m-4.2-4.2v8.4M314.3 339.5h8.4m-4.2-4.2v8.4M295.3 435.5h8.4m-4.2-4.2v8.4M309.3 469.5h8.4m-4.2-4.2v8.4M300.3 300.5h8.4m-4.2-4.2v8.4M305.3 330.5h8.4m-4.2-4.2v8.4M329.3 431.5h8.4m-4.2-4.2v8.4M308.3 450.5h8.4m-4.2-4.2v8.4M294.3 366.5h8.4m-4.2-4.2v8.4M305.3 456.5h8.4m-4.2-4.2v8.4M298.3 450.5h8.4m-4.2-4.2v8.4M307.3 453.5h8.4m-4.2-4.2v8.4M309.3 436.5h8.4m-4.2-4.2v8.4M308.3 344.5h8.4m-4.2-4.2v8.4M308.3 385.5h8.4m-4.2-4.2v8.4M301.3 383.5h8.4m-4.2-4.2v8.4M312.3 410.5h8.4m-4.2-4.2v8.4M319.3 455.5h8.4m-4.2-4.2v8.4M300.3 456.5h8.4m-4.2-4.2v8.4M306.3 444.5h8.4m-4.2-4.2v8.4M308.3 354.5h8.4m-4.2-4.2v8.4M321.3 419.5h8.4m-4.2-4.2v8.4M319.3 466.5h8.4m-4.2-4.2v8.4M298.3 436.5h8.4m-4.2-4.2v8.4M308.3 429.5h8.4m-4.2-4.2v8.4M289.3 454.5h8.4m-4.2-4.2v8.4M296.3 449.5h8.4m-4.2-4.2v8.4M307.3 422.5h8.4m-4.2-4.2v8.4M314.3 371.5h8.4m-4.2-4.2v8.4M318.3 464.5h8.4m-4.2-4.2v8.4M303.3 421.5h8.4m-4.2-4.2v8.4M291.3 338.5h8.4m-4.2-4.2v8.4M311.3 417.5h8.4m-4.2-4.2v8.4M305.3 405.5h8.4m-4.2-4.2v8.4M312.3 392.5h8.4m-4.2-4.2v8.4M309.3 376.5h8.4m-4.2-4.2v8.4M315.3 462.5h8.4m-4.2-4.2v8.4M314.3 412.5h8.4m-4.2-4.2v8.4M317.3 466.5h8.4m-4.2-4.2v8.4M302.3 443.5h8.4m-4.2-4.2v8.4M318.3 455.5h8.4m-4.2-4.2v8.4M301.3 440.5h8.4m-4.2-4.2v8.4M308.3 362.5h8.4m-4.2-4.2v8.4M329.3 440.5h8.4m-4.2-4.2v8.4M311.3 460.5h8.4m-4.2-4.2v8.4M293.3 436.5h8.4m-4.2-4.2v8.4M324.3 410.5h8.4m-4.2-4.2v8.4M318.3 436.5h8.4m-4.2-4.2v8.4M320.3 416.5h8.4m-4.2-4.2v8.4M309.3 400.5h8.4m-4.2-4.2v8.4M311.3 437.5h8.4m-4.2-4.2v8.4M304.3 366.5h8.4m-4.2-4.2v8.4M299.3 413.5h8.4m-4.2-4.2v8.4M325.3 461.5h8.4m-4.2-4.2v8.4M303.3 444.5h8.4m-4.2-4.2v8.4M302.3 354.5h8.4m-4.2-4.2v8.4M329.3 417.5h8.4m-4.2-4.2v8.4M317.3 435.5h8.4m-4.2-4.2v8.4M303.3 414.5h8.4m-4.2-4.2v8.4M306.3 454.5h8.4m-4.2-4.2v8.4M313.3 451.5h8.4m-4.2-4.2v8.4M317.3 401.5h8.4m-4.2-4.2v8.4M288.3 384.5h8.4m-4.2-4.2v8.4M317.3 347.5h8.4m-4.2-4.2v8.4M304.3 404.5h8.4m-4.2-4.2v8.4M299.3 366.5h8.4m-4.2-4.2v8.4M302.3 408.5h8.4m-4.2-4.2v8.4M316.3 440.5h8.4m-4.2-4.2v8.4M327.3 445.5h8.4m-4.2-4.2v8.4M309.3 287.5h8.4m-4.2-4.2v8.4M313.3 355.5h8.4m-4.2-4.2v8.4M297.3 313.5h8.4m-4.2-4.2v8.4M313.3 413.5h8.4m-4.2-4.2v8.4M316.3 455.5h8.4m-4.2-4.2v8.4M290.3 451.5h8.4m-4.2-4.2v8.4M301.3 313.5h8.4m-4.2-4.2v8.4M316.3 466.5h8.4m-4.2-4.2v8.4M286.3 429.5h8.4m-4.2-4.2v8.4M302.3 356.5h8.4m-4.2-4.2v8.4M314.3 448.5h8.4m-4.2-4.2v8.4M287.3 348.5h8.4m-4.2-4.2v8.4M302.3 440.5h8.4m-4.2-4.2v8.4M307.3 372.5h8.4m-4.2-4.2v8.4M317.3 393.5h8.4m-4.2-4.2v8.4M292.3 435.5h8.4m-4.2-4.2v8.4M320.3 429.5h8.4m-4.2-4.2v8.4M310.3 442.5h8.4m-4.2-4.2v8.4M321.3 428.5h8.4m-4.2-4.2v8.4M320.3 373.5h8.4m-4.2-4.2v8.4M311.3 420.5h8.4m-4.2-4.2v8.4M313.3 433.5h8.4m-4.2-4.2v8.4M287.3 425.5h8.4m-4.2-4.2v8.4M291.3 452.5h8.4m-4.2-4.2v8.4M295.3 379.5h8.4m-4.2-4.2v8.4M303.3 430.5h8.4m-4.2-4.2v8.4M318.3 368.5h8.4m-4.2-4.2v8.4M286.3 418.5h8.4m-4.2-4.2v8.4M303.3 270.5h8.4m-4.2-4.2v8.4M291.3 415.5h8.4m-4.2-4.2v8.4M289.3 409.5h8.4m-4.2-4.2v8.4M324.3 449.5h8.4m-4.2-4.2v8.4M308.3 386.5h8.4m-4.2-4.2v8.4M326.3 470.5h8.4m-4.2-4.2v8.4M321.3 461.5h8.4m-4.2-4.2v8.4M296.3 433.5h8.4m-4.2-4.2v8.4M285.3 330.5h8.4m-4.2-4.2v8.4M331.3 426.5h8.4m-4.2-4.2v8.4M302.3 445.5h8.4m-4.2-4.2v8.4M294.3 292.5h8.4m-4.2-4.2v8.4M315.3 373.5h8.4m-4.2-4.2v8.4M308.3 457.5h8.4m-4.2-4.2v8.4M299.3 440.5h8.4m-4.2-4.2v8.4M303.3 394.5h8.4m-4.2-4.2v8.4M309.3 350.5h8.4m-4.2-4.2v8.4M308.3 398.5h8.4m-4.2-4.2v8.4M316.3 370.5h8.4m-4.2-4.2v8.4M303.3 450.5h8.4m-4.2-4.2v8.4M303.3 466.5h8.4m-4.2-4.2v8.4M314.3 442.5h8.4m-4.2-4.2v8.4M310.3 464.5h8.4m-4.2-4.2v8.4M320.3 398.5h8.4m-4.2-4.2v8.4M304.3 320.5h8.4m-4.2-4.2v8.4M306.3 428.5h8.4m-4.2-4.2v8.4M293.3 400.5h8.4m-4.2-4.2v8.4M324.3 417.5h8.4m-4.2-4.2v8.4M291.3 448.5h8.4m-4.2-4.2v8.4M309.3 446.5h8.4m-4.2-4.2v8.4M296.3 371.5h8.4m-4.2-4.2v8.4M311.3 338.5h8.4m-4.2-4.2v8.4M316.3 439.5h8.4m-4.2-4.2v8.4M288.3 455.5h8.4m-4.2-4.2v8.4M304.3 355.5h8.4m-4.2-4.2v8.4M286.3 431.5h8.4m-4.2-4.2v8.4M323.3 396.5h8.4m-4.2-4.2v8.4M302.3 384.5h8.4m-4.2-4.2v8.4M288.3 431.5h8.4m-4.2-4.2v8.4M299.3 409.5h8.4m-4.2-4.2v8.4M322.3 445.5h8.4m-4.2-4.2v8.4M324.3 456.5h8.4m-4.2-4.2v8.4M322.3 445.5h8.4m-4.2-4.2v8.4M298.3 399.5h8.4m-4.2-4.2v8.4M305.3 381.5h8.4m-4.2-4.2v8.4M326.3 471.5h8.4m-4.2-4.2v8.4M298.3 446.5h8.4m-4.2-4.2v8.4M303.3 460.5h8.4m-4.2-4.2v8.4M293.3 444.5h8.4m-4.2-4.2v8.4M321.3 445.5h8.4m-4.2-4.2v8.4M314.3 442.5h8.4m-4.2-4.2v8.4M312.3 421.5h8.4m-4.2-4.2v8.4M314.3 412.5h8.4m-4.2-4.2v8.4M319.3 443.5h8.4m-4.2-4.2v8.4M324.3 401.5h8.4m-4.2-4.2v8.4M307.3 434.5h8.4m-4.2-4.2v8.4M303.3 312.5h8.4m-4.2-4.2v8.4M295.3 357.5h8.4m-4.2-4.2v8.4M319.3 455.5h8.4m-4.2-4.2v8.4M301.3 434.5h8.4m-4.2-4.2v8.4M289.3 462.5h8.4m-4.2-4.2v8.4M304.3 367.5h8.4m-4.2-4.2v8.4M307.3 346.5h8.4m-4.2-4.2v8.4M317.3 434.5h8.4m-4.2-4.2v8.4M319.3 446.5h8.4m-4.2-4.2v8.4M298.3 354.5h8.4m-4.2-4.2v8.4M298.3 424.5h8.4m-4.2-4.2v8.4M303.3 459.5h8.4m-4.2-4.2v8.4M293.3 378.5h8.4m-4.2-4.2v8.4M306.3 433.5h8.4m-4.2-4.2v8.4M307.3 419.5h8.4m-4.2-4.2v8.4M288.3 454.5h8.4m-4.2-4.2v8.4M293.3 350.5h8.4m-4.2-4.2v8.4M322.3 333.5h8.4m-4.2-4.2v8.4M295.3 456.5h8.4m-4.2-4.2v8.4M315.3 448.5h8.4m-4.2-4.2v8.4M314.3 416.5h8.4m-4.2-4.2v8.4M303.3 386.5h8.4m-4.2-4.2v8.4M295.3 379.5h8.4m-4.2-4.2v8.4M309.3 408.5h8.4m-4.2-4.2v8.4M297.3 331.5h8.4m-4.2-4.2v8.4M305.3 387.5h8.4m-4.2-4.2v8.4M308.3 462.5h8.4m-4.2-4.2v8.4M304.3 360.5h8.4m-4.2-4.2v8.4M303.3 392.5h8.4m-4.2-4.2v8.4M292.3 349.5h8.4m-4.2-4.2v8.4M305.3 362.5h8.4m-4.2-4.2v8.4M299.3 451.5h8.4m-4.2-4.2v8.4M286.3 390.5h8.4m-4.2-4.2v8.4M303.3 444.5h8.4m-4.2-4.2v8.4M304.3 437.5h8.4m-4.2-4.2v8.4M300.3 352.5h8.4m-4.2-4.2v8.4M283.3 399.5h8.4m-4.2-4.2v8.4M316.3 451.5h8.4m-4.2-4.2v8.4M315.3 448.5h8.4m-4.2-4.2v8.4M314.3 431.5h8.4m-4.2-4.2v8.4M311.3 460.5h8.4m-4.2-4.2v8.4M292.3 427.5h8.4m-4.2-4.2v8.4M308.3 354.5h8.4m-4.2-4.2v8.4M296.3 427.5h8.4m-4.2-4.2v8.4M332.3 429.5h8.4m-4.2-4.2v8.4M301.3 281.5h8.4m-4.2-4.2v8.4M315.3 440.5h8.4m-4.2-4.2v8.4M289.3 437.5h8.4m-4.2-4.2v8.4M293.3 425.5h8.4m-4.2-4.2v8.4M301.3 430.5h8.4m-4.2-4.2v8.4M315.3 327.5h8.4m-4.2-4.2v8.4M313.3 469.5h8.4m-4.2-4.2v8.4M310.3 456.5h8.4m-4.2-4.2v8.4M285.3 351.5h8.4m-4.2-4.2v8.4M320.3 454.5h8.4m-4.2-4.2v8.4M296.3 424.5h8.4m-4.2-4.2v8.4M326.3 398.5h8.4m-4.2-4.2v8.4M329.3 473.5h8.4m-4.2-4.2v8.4M316.3 427.5h8.4m-4.2-4.2v8.4M318.3 454.5h8.4m-4.2-4.2v8.4M292.3 414.5h8.4m-4.2-4.2v8.4M337.3 438.5h8.4m-4.2-4.2v8.4M309.3 390.5h8.4m-4.2-4.2v8.4M318.3 459.5h8.4m-4.2-4.2v8.4M297.3 444.5h8.4m-4.2-4.2v8.4M306.3 378.5h8.4m-4.2-4.2v8.4M293.3 310.5h8.4m-4.2-4.2v8.4M304.3 445.5h8.4m-4.2-4.2v8.4M307.3 449.5h8.4m-4.2-4.2v8.4M310.3 451.5h8.4m-4.2-4.2v8.4M323.3 398.5h8.4m-4.2-4.2v8.4M312.3 447.5h8.4m-4.2-4.2v8.4M310.3 449.5h8.4m-4.2-4.2v8.4M307.3 439.5h8.4m-4.2-4.2v8.4M330.3 454.5h8.4m-4.2-4.2v8.4M300.3 390.5h8.4m-4.2-4.2v8.4M321.3 459.5h8.4m-4.2-4.2v8.4M284.3 412.5h8.4m-4.2-4.2v8.4M297.3 287.5h8.4m-4.2-4.2v8.4M312.3 414.5h8.4m-4.2-4.2v8.4M305.3 420.5h8.4m-4.2-4.2v8.4M342.3 416.5h8.4m-4.2-4.2v8.4M337.3 446.5h8.4m-4.2-4.2v8.4M289.3 424.5h8.4m-4.2-4.2v8.4M294.3 331.5h8.4m-4.2-4.2v8.4M305.3 442.5h8.4m-4.2-4.2v8.4M327.3 450.5h8.4m-4.2-4.2v8.4M320.3 285.5h8.4m-4.2-4.2v8.4M311.3 432.5h8.4m-4.2-4.2v8.4M290.3 457.5h8.4m-4.2-4.2v8.4M297.3 445.5h8.4m-4.2-4.2v8.4M276.3 254.5h8.4m-4.2-4.2v8.4M289.3 448.5h8.4m-4.2-4.2v8.4M312.3 420.5h8.4m-4.2-4.2v8.4M316.3 422.5h8.4m-4.2-4.2v8.4M292.3 463.5h8.4m-4.2-4.2v8.4M308.3 446.5h8.4m-4.2-4.2v8.4M326.3 414.5h8.4m-4.2-4.2v8.4M309.3 455.5h8.4m-4.2-4.2v8.4M303.3 428.5h8.4m-4.2-4.2v8.4M314.3 423.5h8.4m-4.2-4.2v8.4M313.3 383.5h8.4m-4.2-4.2v8.4M308.3 454.5h8.4m-4.2-4.2v8.4M301.3 450.5h8.4m-4.2-4.2v8.4M302.3 455.5h8.4m-4.2-4.2v8.4M308.3 438.5h8.4m-4.2-4.2v8.4M301.3 389.5h8.4m-4.2-4.2v8.4M322.3 362.5h8.4m-4.2-4.2v8.4M317.3 432.5h8.4m-4.2-4.2v8.4M320.3 453.5h8.4m-4.2-4.2v8.4M331.3 421.5h8.4m-4.2-4.2v8.4M325.3 459.5h8.4m-4.2-4.2v8.4M323.3 458.5h8.4m-4.2-4.2v8.4M311.3 450.5h8.4m-4.2-4.2v8.4M305.3 313.5h8.4m-4.2-4.2v8.4M334.3 427.5h8.4m-4.2-4.2v8.4M299.3 460.5h8.4m-4.2-4.2v8.4M300.3 299.5h8.4m-4.2-4.2v8.4M297.3 420.5h8.4m-4.2-4.2v8.4M309.3 447.5h8.4m-4.2-4.2v8.4M312.3 411.5h8.4m-4.2-4.2v8.4M319.3 438.5h8.4m-4.2-4.2v8.4M304.3 407.5h8.4m-4.2-4.2v8.4M287.3 421.5h8.4m-4.2-4.2v8.4M311.3 456.5h8.4m-4.2-4.2v8.4M318.3 459.5h8.4m-4.2-4.2v8.4M307.3 404.5h8.4m-4.2-4.2v8.4M305.3 430.5h8.4m-4.2-4.2v8.4M313.3 422.5h8.4m-4.2-4.2v8.4M324.3 426.5h8.4m-4.2-4.2v8.4M306.3 420.5h8.4m-4.2-4.2v8.4M290.3 287.5h8.4m-4.2-4.2v8.4M300.3 386.5h8.4m-4.2-4.2v8.4M305.3 318.5h8.4m-4.2-4.2v8.4M286.3 439.5h8.4m-4.2-4.2v8.4M316.3 410.5h8.4m-4.2-4.2v8.4M298.3 308.5h8.4m-4.2-4.2v8.4M313.3 392.5h8.4m-4.2-4.2v8.4M309.3 433.5h8.4m-4.2-4.2v8.4M303.3 387.5h8.4m-4.2-4.2v8.4M326.3 430.5h8.4m-4.2-4.2v8.4M300.3 434.5h8.4m-4.2-4.2v8.4M299.3 381.5h8.4m-4.2-4.2v8.4M310.3 451.5h8.4m-4.2-4.2v8.4M317.3 457.5h8.4m-4.2-4.2v8.4M307.3 448.5h8.4m-4.2-4.2v8.4M295.3 450.5h8.4m-4.2-4.2v8.4M315.3 358.5h8.4m-4.2-4.2v8.4M314.3 442.5h8.4m-4.2-4.2v8.4M331.3 333.5h8.4m-4.2-4.2v8.4M304.3 469.5h8.4m-4.2-4.2v8.4M309.3 456.5h8.4m-4.2-4.2v8.4M300.3 420.5h8.4m-4.2-4.2v8.4M290.3 394.5h8.4m-4.2-4.2v8.4M308.3 418.5h8.4m-4.2-4.2v8.4M317.3 458.5h8.4m-4.2-4.2v8.4M295.3 405.5h8.4m-4.2-4.2v8.4M299.3 455.5h8.4m-4.2-4.2v8.4M293.3 440.5h8.4m-4.2-4.2v8.4M322.3 453.5h8.4m-4.2-4.2v8.4M299.3 441.5h8.4m-4.2-4.2v8.4M314.3 361.5h8.4m-4.2-4.2v8.4M297.3 354.5h8.4m-4.2-4.2v8.4M308.3 456.5h8.4m-4.2-4.2v8.4M300.3 387.5h8.4m-4.2-4.2v8.4M280.3 438.5h8.4m-4.2-4.2v8.4M308.3 456.5h8.4m-4.2-4.2v8.4M313.3 453.5h8.4m-4.2-4.2v8.4M283.3 363.5h8.4m-4.2-4.2v8.4M305.3 400.5h8.4m-4.2-4.2v8.4M302.3 423.5h8.4m-4.2-4.2v8.4M294.3 447.5h8.4m-4.2-4.2v8.4M304.3 361.5h8.4m-4.2-4.2v8.4M284.3 408.5h8.4m-4.2-4.2v8.4M310.3 411.5h8.4m-4.2-4.2v8.4M321.3 393.5h8.4m-4.2-4.2v8.4M292.3 436.5h8.4m-4.2-4.2v8.4M306.3 432.5h8.4m-4.2-4.2v8.4M323.3 461.5h8.4m-4.2-4.2v8.4M308.3 432.5h8.4m-4.2-4.2v8.4M301.3 348.5h8.4m-4.2-4.2v8.4M296.3 401.5h8.4m-4.2-4.2v8.4M309.3 451.5h8.4m-4.2-4.2v8.4M305.3 432.5h8.4m-4.2-4.2v8.4M314.3 403.5h8.4m-4.2-4.2v8.4M289.3 320.5h8.4m-4.2-4.2v8.4M319.3 424.5h8.4m-4.2-4.2v8.4M302.3 463.5h8.4m-4.2-4.2v8.4M314.3 306.5h8.4m-4.2-4.2v8.4M298.3 315.5h8.4m-4.2-4.2v8.4M292.3 385.5h8.4m-4.2-4.2v8.4M300.3 456.5h8.4m-4.2-4.2v8.4M296.3 422.5h8.4m-4.2-4.2v8.4M302.3 445.5h8.4m-4.2-4.2v8.4M314.3 468.5h8.4m-4.2-4.2v8.4M319.3 446.5h8.4m-4.2-4.2v8.4M309.3 429.5h8.4m-4.2-4.2v8.4M301.3 416.5h8.4m-4.2-4.2v8.4M302.3 445.5h8.4m-4.2-4.2v8.4M314.3 461.5h8.4m-4.2-4.2v8.4M320.3 388.5h8.4m-4.2-4.2v8.4M303.3 466.5h8.4m-4.2-4.2v8.4M305.3 421.5h8.4m-4.2-4.2v8.4M298.3 404.5h8.4m-4.2-4.2v8.4M309.3 462.5h8.4m-4.2-4.2v8.4M318.3 470.5h8.4m-4.2-4.2v8.4M273.3 410.5h8.4m-4.2-4.2v8.4M310.3 411.5h8.4m-4.2-4.2v8.4M300.3 451.5h8.4m-4.2-4.2v8.4M280.3 461.5h8.4m-4.2-4.2v8.4M311.3 421.5h8.4m-4.2-4.2v8.4M306.3 471.5h8.4m-4.2-4.2v8.4M311.3 445.5h8.4m-4.2-4.2v8.4M291.3 352.5h8.4m-4.2-4.2v8.4M332.3 390.5h8.4m-4.2-4.2v8.4M308.3 410.5h8.4m-4.2-4.2v8.4M303.3 405.5h8.4m-4.2-4.2v8.4M325.3 451.5h8.4m-4.2-4.2v8.4M314.3 442.5h8.4m-4.2-4.2v8.4M317.3 458.5h8.4m-4.2-4.2v8.4M320.3 391.5h8.4m-4.2-4.2v8.4M283.3 423.5h8.4m-4.2-4.2v8.4M326.3 422.5h8.4m-4.2-4.2v8.4M303.3 376.5h8.4m-4.2-4.2v8.4M310.3 439.5h8.4m-4.2-4.2v8.4M318.3 339.5h8.4m-4.2-4.2v8.4M299.3 410.5h8.4m-4.2-4.2v8.4M311.3 440.5h8.4m-4.2-4.2v8.4M316.3 372.5h8.4m-4.2-4.2v8.4M306.3 386.5h8.4m-4.2-4.2v8.4M313.3 469.5h8.4m-4.2-4.2v8.4M288.3 436.5h8.4m-4.2-4.2v8.4M293.3 365.5h8.4m-4.2-4.2v8.4M293.3 390.5h8.4m-4.2-4.2v8.4M311.3 423.5h8.4m-4.2-4.2v8.4M350.3 393.5h8.4m-4.2-4.2v8.4M310.3 445.5h8.4m-4.2-4.2v8.4M305.3 392.5h8.4m-4.2-4.2v8.4M306.3 420.5h8.4m-4.2-4.2v8.4M318.3 452.5h8.4m-4.2-4.2v8.4M315.3 452.5h8.4m-4.2-4.2v8.4M293.3 448.5h8.4m-4.2-4.2v8.4M319.3 460.5h8.4m-4.2-4.2v8.4M307.3 434.5h8.4m-4.2-4.2v8.4M316.3 455.5h8.4m-4.2-4.2v8.4M289.3 444.5h8.4m-4.2-4.2v8.4M314.3 434.5h8.4m-4.2-4.2v8.4M286.3 447.5h8.4m-4.2-4.2v8.4M311.3 443.5h8.4m-4.2-4.2v8.4M311.3 460.5h8.4m-4.2-4.2v8.4M309.3 438.5h8.4m-4.2-4.2v8.4M311.3 448.5h8.4m-4.2-4.2v8.4M310.3 428.5h8.4m-4.2-4.2v8.4M312.3 450.5h8.4m-4.2-4.2v8.4M302.3 415.5h8.4m-4.2-4.2v8.4M307.3 452.5h8.4m-4.2-4.2v8.4M341.3 405.5h8.4m-4.2-4.2v8.4M320.3 445.5h8.4m-4.2-4.2v8.4M314.3 382.5h8.4m-4.2-4.2v8.4M311.3 370.5h8.4m-4.2-4.2v8.4M298.3 438.5h8.4m-4.2-4.2v8.4M309.3 377.5h8.4m-4.2-4.2v8.4M304.3 412.5h8.4m-4.2-4.2v8.4M318.3 378.5h8.4m-4.2-4.2v8.4M296.3 352.5h8.4m-4.2-4.2v8.4M279.3 449.5h8.4m-4.2-4.2v8.4M300.3 401.5h8.4m-4.2-4.2v8.4M315.3 438.5h8.4m-4.2-4.2v8.4M335.3 462.5h8.4m-4.2-4.2v8.4M319.3 446.5h8.4m-4.2-4.2v8.4M295.3 444.5h8.4m-4.2-4.2v8.4M304.3 418.5h8.4m-4.2-4.2v8.4M296.3 431.5h8.4m-4.2-4.2v8.4M305.3 445.5h8.4m-4.2-4.2v8.4M296.3 357.5h8.4m-4.2-4.2v8.4M288.3 448.5h8.4m-4.2-4.2v8.4M312.3 395.5h8.4m-4.2-4.2v8.4M309.3 398.5h8.4m-4.2-4.2v8.4M305.3 448.5h8.4m-4.2-4.2v8.4M311.3 396.5h8.4m-4.2-4.2v8.4M331.3 423.5h8.4m-4.2-4.2v8.4M308.3 402.5h8.4m-4.2-4.2v8.4M302.3 264.5h8.4m-4.2-4.2v8.4M317.3 334.5h8.4m-4.2-4.2v8.4M288.3 413.5h8.4m-4.2-4.2v8.4M316.3 454.5h8.4m-4.2-4.2v8.4M298.3 448.5h8.4m-4.2-4.2v8.4M297.3 437.5h8.4m-4.2-4.2v8.4M308.3 400.5h8.4m-4.2-4.2v8.4M326.3 384.5h8.4m-4.2-4.2v8.4M298.3 441.5h8.4m-4.2-4.2v8.4M318.3 432.5h8.4m-4.2-4.2v8.4M311.3 444.5h8.4m-4.2-4.2v8.4M291.3 321.5h8.4m-4.2-4.2v8.4M318.3 351.5h8.4m-4.2-4.2v8.4M297.3 466.5h8.4m-4.2-4.2v8.4M290.3 457.5h8.4m-4.2-4.2v8.4M298.3 348.5h8.4m-4.2-4.2v8.4M298.3 431.5h8.4m-4.2-4.2v8.4M314.3 439.5h8.4m-4.2-4.2v8.4M324.3 379.5h8.4m-4.2-4.2v8.4M309.3 452.5h8.4m-4.2-4.2v8.4M298.3 444.5h8.4m-4.2-4.2v8.4M297.3 288.5h8.4m-4.2-4.2v8.4M310.3 325.5h8.4m-4.2-4.2v8.4M283.3 421.5h8.4m-4.2-4.2v8.4M281.3 426.5h8.4m-4.2-4.2v8.4M297.3 356.5h8.4m-4.2-4.2v8.4M314.3 452.5h8.4m-4.2-4.2v8.4M309.3 437.5h8.4m-4.2-4.2v8.4M307.3 461.5h8.4m-4.2-4.2v8.4M304.3 443.5h8.4m-4.2-4.2v8.4M281.3 448.5h8.4m-4.2-4.2v8.4M303.3 423.5h8.4m-4.2-4.2v8.4M286.3 361.5h8.4m-4.2-4.2v8.4M317.3 333.5h8.4m-4.2-4.2v8.4M307.3 438.5h8.4m-4.2-4.2v8.4M306.3 451.5h8.4m-4.2-4.2v8.4M311.3 421.5h8.4m-4.2-4.2v8.4M311.3 408.5h8.4m-4.2-4.2v8.4M310.3 385.5h8.4m-4.2-4.2v8.4M311.3 415.5h8.4m-4.2-4.2v8.4M300.3 318.5h8.4m-4.2-4.2v8.4M291.3 452.5h8.4m-4.2-4.2v8.4M311.3 411.5h8.4m-4.2-4.2v8.4M324.3 462.5h8.4m-4.2-4.2v8.4M319.3 277.5h8.4m-4.2-4.2v8.4M314.3 408.5h8.4m-4.2-4.2v8.4M302.3 357.5h8.4m-4.2-4.2v8.4M311.3 412.5h8.4m-4.2-4.2v8.4M300.3 258.5h8.4m-4.2-4.2v8.4M308.3 370.5h8.4m-4.2-4.2v8.4M330.3 442.5h8.4m-4.2-4.2v8.4M316.3 442.5h8.4m-4.2-4.2v8.4M324.3 429.5h8.4m-4.2-4.2v8.4M298.3 461.5h8.4m-4.2-4.2v8.4M299.3 423.5h8.4m-4.2-4.2v8.4M306.3 467.5h8.4m-4.2-4.2v8.4M313.3 448.5h8.4m-4.2-4.2v8.4M304.3 319.5h8.4m-4.2-4.2v8.4M319.3 432.5h8.4m-4.2-4.2v8.4M300.3 379.5h8.4m-4.2-4.2v8.4M323.3 482.5h8.4m-4.2-4.2v8.4M318.3 470.5h8.4m-4.2-4.2v8.4M294.3 451.5h8.4m-4.2-4.2v8.4M314.3 384.5h8.4m-4.2-4.2v8.4M304.3 447.5h8.4m-4.2-4.2v8.4M319.3 450.5h8.4m-4.2-4.2v8.4M301.3 372.5h8.4m-4.2-4.2v8.4M310.3 392.5h8.4m-4.2-4.2v8.4M313.3 456.5h8.4m-4.2-4.2v8.4M275.3 408.5h8.4m-4.2-4.2v8.4M285.3 439.5h8.4m-4.2-4.2v8.4M308.3 436.5h8.4m-4.2-4.2v8.4M305.3 425.5h8.4m-4.2-4.2v8.4M319.3 297.5h8.4m-4.2-4.2v8.4M309.3 429.5h8.4m-4.2-4.2v8.4M292.3 446.5h8.4m-4.2-4.2v8.4M311.3 410.5h8.4m-4.2-4.2v8.4M298.3 351.5h8.4m-4.2-4.2v8.4M304.3 368.5h8.4m-4.2-4.2v8.4M301.3 436.5h8.4m-4.2-4.2v8.4M311.3 335.5h8.4m-4.2-4.2v8.4M290.3 454.5h8.4m-4.2-4.2v8.4M294.3 449.5h8.4m-4.2-4.2v8.4M281.3 354.5h8.4m-4.2-4.2v8.4M332.3 405.5h8.4m-4.2-4.2v8.4M295.3 415.5h8.4m-4.2-4.2v8.4M297.3 382.5h8.4m-4.2-4.2v8.4M293.3 437.5h8.4m-4.2-4.2v8.4M299.3 287.5h8.4m-4.2-4.2v8.4M302.3 419.5h8.4m-4.2-4.2v8.4M314.3 404.5h8.4m-4.2-4.2v8.4M309.3 343.5h8.4m-4.2-4.2v8.4M311.3 417.5h8.4m-4.2-4.2v8.4M300.3 458.5h8.4m-4.2-4.2v8.4M306.3 373.5h8.4m-4.2-4.2v8.4M321.3 354.5h8.4m-4.2-4.2v8.4M307.3 446.5h8.4m-4.2-4.2v8.4M310.3 246.5h8.4m-4.2-4.2v8.4M283.3 455.5h8.4m-4.2-4.2v8.4M313.3 407.5h8.4m-4.2-4.2v8.4M310.3 335.5h8.4m-4.2-4.2v8.4M322.3 339.5h8.4m-4.2-4.2v8.4M275.3 455.5h8.4m-4.2-4.2v8.4M307.3 322.5h8.4m-4.2-4.2v8.4M305.3 385.5h8.4m-4.2-4.2v8.4M308.3 358.5h8.4m-4.2-4.2v8.4M299.3 406.5h8.4m-4.2-4.2v8.4M309.3 435.5h8.4m-4.2-4.2v8.4M315.3 399.5h8.4m-4.2-4.2v8.4M307.3 387.5h8.4m-4.2-4.2v8.4M303.3 443.5h8.4m-4.2-4.2v8.4M304.3 420.5h8.4m-4.2-4.2v8.4M302.3 372.5h8.4m-4.2-4.2v8.4M307.3 378.5h8.4m-4.2-4.2v8.4M298.3 429.5h8.4m-4.2-4.2v8.4M283.3 374.5h8.4m-4.2-4.2v8.4M322.3 382.5h8.4m-4.2-4.2v8.4M286.3 317.5h8.4m-4.2-4.2v8.4M305.3 451.5h8.4m-4.2-4.2v8.4M291.3 433.5h8.4m-4.2-4.2v8.4M303.3 433.5h8.4m-4.2-4.2v8.4M295.3 417.5h8.4m-4.2-4.2v8.4M306.3 436.5h8.4m-4.2-4.2v8.4M297.3 449.5h8.4m-4.2-4.2v8.4M291.3 358.5h8.4m-4.2-4.2v8.4M310.3 435.5h8.4m-4.2-4.2v8.4M322.3 440.5h8.4m-4.2-4.2v8.4M311.3 456.5h8.4m-4.2-4.2v8.4M308.3 435.5h8.4m-4.2-4.2v8.4M294.3 345.5h8.4m-4.2-4.2v8.4M305.3 411.5h8.4m-4.2-4.2v8.4M312.3 358.5h8.4m-4.2-4.2v8.4M299.3 353.5h8.4m-4.2-4.2v8.4M317.3 247.5h8.4m-4.2-4.2v8.4M306.3 453.5h8.4m-4.2-4.2v8.4M311.3 395.5h8.4m-4.2-4.2v8.4M301.3 449.5h8.4m-4.2-4.2v8.4M301.3 433.5h8.4m-4.2-4.2v8.4M309.3 450.5h8.4m-4.2-4.2v8.4M311.3 384.5h8.4m-4.2-4.2v8.4M310.3 454.5h8.4m-4.2-4.2v8.4M295.3 399.5h8.4m-4.2-4.2v8.4M298.3 443.5h8.4m-4.2-4.2v8.4M306.3 378.5h8.4m-4.2-4.2v8.4M285.3 431.5h8.4m-4.2-4.2v8.4M318.3 456.5h8.4m-4.2-4.2v8.4M310.3 330.5h8.4m-4.2-4.2v8.4M307.3 447.5h8.4m-4.2-4.2v8.4M298.3 419.5h8.4m-4.2-4.2v8.4M316.3 438.5h8.4m-4.2-4.2v8.4M303.3 445.5h8.4m-4.2-4.2v8.4M328.3 446.5h8.4m-4.2-4.2v8.4M311.3 450.5h8.4m-4.2-4.2v8.4M289.3 463.5h8.4m-4.2-4.2v8.4M315.3 426.5h8.4m-4.2-4.2v8.4M300.3 439.5h8.4m-4.2-4.2v8.4M300.3 281.5h8.4m-4.2-4.2v8.4M303.3 260.5h8.4m-4.2-4.2v8.4M305.3 459.5h8.4m-4.2-4.2v8.4M309.3 431.5h8.4m-4.2-4.2v8.4M315.3 453.5h8.4m-4.2-4.2v8.4M312.3 469.5h8.4m-4.2-4.2v8.4M298.3 370.5h8.4m-4.2-4.2v8.4M290.3 426.5h8.4m-4.2-4.2v8.4M297.3 443.5h8.4m-4.2-4.2v8.4M310.3 423.5h8.4m-4.2-4.2v8.4M316.3 439.5h8.4m-4.2-4.2v8.4M327.3 428.5h8.4m-4.2-4.2v8.4M291.3 431.5h8.4m-4.2-4.2v8.4M307.3 306.5h8.4m-4.2-4.2v8.4M304.3 399.5h8.4m-4.2-4.2v8.4M301.3 359.5h8.4m-4.2-4.2v8.4M308.3 297.5h8.4m-4.2-4.2v8.4M303.3 460.5h8.4m-4.2-4.2v8.4M303.3 360.5h8.4m-4.2-4.2v8.4M299.3 427.5h8.4m-4.2-4.2v8.4M311.3 418.5h8.4m-4.2-4.2v8.4M318.3 412.5h8.4m-4.2-4.2v8.4M325.3 435.5h8.4m-4.2-4.2v8.4M300.3 344.5h8.4m-4.2-4.2v8.4M294.3 444.5h8.4m-4.2-4.2v8.4M303.3 412.5h8.4m-4.2-4.2v8.4M296.3 380.5h8.4m-4.2-4.2v8.4M318.3 438.5h8.4m-4.2-4.2v8.4M297.3 460.5h8.4m-4.2-4.2v8.4M307.3 335.5h8.4m-4.2-4.2v8.4M291.3 455.5h8.4m-4.2-4.2v8.4M302.3 405.5h8.4m-4.2-4.2v8.4M308.3 417.5h8.4m-4.2-4.2v8.4M324.3 434.5h8.4m-4.2-4.2v8.4M298.3 279.5h8.4m-4.2-4.2v8.4M310.3 281.5h8.4m-4.2-4.2v8.4M282.3 443.5h8.4m-4.2-4.2v8.4M292.3 366.5h8.4m-4.2-4.2v8.4M297.3 354.5h8.4m-4.2-4.2v8.4M300.3 420.5h8.4m-4.2-4.2v8.4M311.3 387.5h8.4m-4.2-4.2v8.4M313.3 454.5h8.4m-4.2-4.2v8.4M287.3 415.5h8.4m-4.2-4.2v8.4M312.3 424.5h8.4m-4.2-4.2v8.4M293.3 360.5h8.4m-4.2-4.2v8.4M328.3 458.5h8.4m-4.2-4.2v8.4M310.3 318.5h8.4m-4.2-4.2v8.4M308.3 408.5h8.4m-4.2-4.2v8.4M304.3 387.5h8.4m-4.2-4.2v8.4M306.3 297.5h8.4m-4.2-4.2v8.4M306.3 425.5h8.4m-4.2-4.2v8.4M298.3 411.5h8.4m-4.2-4.2v8.4M315.3 466.5h8.4m-4.2-4.2v8.4M309.3 439.5h8.4m-4.2-4.2v8.4M315.3 387.5h8.4m-4.2-4.2v8.4M305.3 403.5h8.4m-4.2-4.2v8.4M314.3 405.5h8.4m-4.2-4.2v8.4M297.3 419.5h8.4m-4.2-4.2v8.4M348.3 449.5h8.4m-4.2-4.2v8.4M298.3 455.5h8.4m-4.2-4.2v8.4M301.3 290.5h8.4m-4.2-4.2v8.4M317.3 402.5h8.4m-4.2-4.2v8.4M320.3 450.5h8.4m-4.2-4.2v8.4M297.3 440.5h8.4m-4.2-4.2v8.4M287.3 448.5h8.4m-4.2-4.2v8.4M290.3 437.5h8.4m-4.2-4.2v8.4M295.3 391.5h8.4m-4.2-4.2v8.4M297.3 425.5h8.4m-4.2-4.2v8.4M304.3 361.5h8.4m-4.2-4.2v8.4M318.3 443.5h8.4m-4.2-4.2v8.4M319.3 459.5h8.4m-4.2-4.2v8.4M299.3 362.5h8.4m-4.2-4.2v8.4M312.3 376.5h8.4m-4.2-4.2v8.4M316.3 404.5h8.4m-4.2-4.2v8.4M322.3 448.5h8.4m-4.2-4.2v8.4M304.3 413.5h8.4m-4.2-4.2v8.4M297.3 456.5h8.4m-4.2-4.2v8.4M315.3 421.5h8.4m-4.2-4.2v8.4M324.3 436.5h8.4m-4.2-4.2v8.4M300.3 449.5h8.4m-4.2-4.2v8.4M329.3 400.5h8.4m-4.2-4.2v8.4M326.3 340.5h8.4m-4.2-4.2v8.4M303.3 456.5h8.4m-4.2-4.2v8.4M288.3 313.5h8.4m-4.2-4.2v8.4M299.3 457.5h8.4m-4.2-4.2v8.4M302.3 385.5h8.4m-4.2-4.2v8.4M312.3 370.5h8.4m-4.2-4.2v8.4M287.3 410.5h8.4m-4.2-4.2v8.4M334.3 397.5h8.4m-4.2-4.2v8.4M333.3 383.5h8.4m-4.2-4.2v8.4M298.3 408.5h8.4m-4.2-4.2v8.4M284.3 393.5h8.4m-4.2-4.2v8.4M304.3 306.5h8.4m-4.2-4.2v8.4M311.3 443.5h8.4m-4.2-4.2v8.4M322.3 405.5h8.4m-4.2-4.2v8.4M314.3 401.5h8.4m-4.2-4.2v8.4M304.3 393.5h8.4m-4.2-4.2v8.4M283.3 382.5h8.4m-4.2-4.2v8.4M312.3 441.5h8.4m-4.2-4.2v8.4M316.3 344.5h8.4m-4.2-4.2v8.4M302.3 390.5h8.4m-4.2-4.2v8.4M309.3 442.5h8.4m-4.2-4.2v8.4M308.3 443.5h8.4m-4.2-4.2v8.4M303.3 382.5h8.4m-4.2-4.2v8.4M293.3 457.5h8.4m-4.2-4.2v8.4M310.3 424.5h8.4m-4.2-4.2v8.4M290.3 443.5h8.4m-4.2-4.2v8.4M322.3 355.5h8.4m-4.2-4.2v8.4M296.3 374.5h8.4m-4.2-4.2v8.4M312.3 434.5h8.4m-4.2-4.2v8.4M298.3 392.5h8.4m-4.2-4.2v8.4M310.3 425.5h8.4m-4.2-4.2v8.4M304.3 457.5h8.4m-4.2-4.2v8.4M312.3 433.5h8.4m-4.2-4.2v8.4M297.3 397.5h8.4m-4.2-4.2v8.4M287.3 412.5h8.4m-4.2-4.2v8.4M303.3 283.5h8.4m-4.2-4.2v8.4M302.3 434.5h8.4m-4.2-4.2v8.4M288.3 410.5h8.4m-4.2-4.2v8.4M298.3 424.5h8.4m-4.2-4.2v8.4M286.3 306.5h8.4m-4.2-4.2v8.4M307.3 336.5h8.4m-4.2-4.2v8.4M302.3 422.5h8.4m-4.2-4.2v8.4M306.3 453.5h8.4m-4.2-4.2v8.4M336.3 440.5h8.4m-4.2-4.2v8.4M308.3 380.5h8.4m-4.2-4.2v8.4M310.3 440.5h8.4m-4.2-4.2v8.4M313.3 354.5h8.4m-4.2-4.2v8.4M304.3 375.5h8.4m-4.2-4.2v8.4M299.3 451.5h8.4m-4.2-4.2v8.4M316.3 430.5h8.4m-4.2-4.2v8.4M318.3 357.5h8.4m-4.2-4.2v8.4M272.3 265.5h8.4m-4.2-4.2v8.4M304.3 452.5h8.4m-4.2-4.2v8.4M302.3 461.5h8.4m-4.2-4.2v8.4M299.3 409.5h8.4m-4.2-4.2v8.4M320.3 429.5h8.4m-4.2-4.2v8.4M300.3 450.5h8.4m-4.2-4.2v8.4M316.3 352.5h8.4m-4.2-4.2v8.4M300.3 447.5h8.4m-4.2-4.2v8.4M301.3 374.5h8.4m-4.2-4.2v8.4M314.3 385.5h8.4m-4.2-4.2v8.4M297.3 462.5h8.4m-4.2-4.2v8.4M304.3 453.5h8.4m-4.2-4.2v8.4M293.3 391.5h8.4m-4.2-4.2v8.4M296.3 454.5h8.4m-4.2-4.2v8.4M314.3 454.5h8.4m-4.2-4.2v8.4M313.3 367.5h8.4m-4.2-4.2v8.4M293.3 420.5h8.4m-4.2-4.2v8.4M292.3 424.5h8.4m-4.2-4.2v8.4M336.3 381.5h8.4m-4.2-4.2v8.4M298.3 423.5h8.4m-4.2-4.2v8.4M296.3 446.5h8.4m-4.2-4.2v8.4M312.3 437.5h8.4m-4.2-4.2v8.4M297.3 406.5h8.4m-4.2-4.2v8.4M302.3 356.5h8.4m-4.2-4.2v8.4M316.3 374.5h8.4m-4.2-4.2v8.4M318.3 427.5h8.4m-4.2-4.2v8.4M304.3 427.5h8.4m-4.2-4.2v8.4M322.3 350.5h8.4m-4.2-4.2v8.4M304.3 458.5h8.4m-4.2-4.2v8.4M303.3 456.5h8.4m-4.2-4.2v8.4M306.3 426.5h8.4m-4.2-4.2v8.4M302.3 318.5h8.4m-4.2-4.2v8.4M312.3 457.5h8.4m-4.2-4.2v8.4M309.3 419.5h8.4m-4.2-4.2v8.4M297.3 444.5h8.4m-4.2-4.2v8.4M308.3 440.5h8.4m-4.2-4.2v8.4M300.3 443.5h8.4m-4.2-4.2v8.4M299.3 416.5h8.4m-4.2-4.2v8.4M304.3 395.5h8.4m-4.2-4.2v8.4M318.3 425.5h8.4m-4.2-4.2v8.4M309.3 376.5h8.4m-4.2-4.2v8.4M321.3 362.5h8.4m-4.2-4.2v8.4M324.3 445.5h8.4m-4.2-4.2v8.4M306.3 391.5h8.4m-4.2-4.2v8.4M299.3 438.5h8.4m-4.2-4.2v8.4M297.3 429.5h8.4m-4.2-4.2v8.4M309.3 447.5h8.4m-4.2-4.2v8.4M316.3 413.5h8.4m-4.2-4.2v8.4M324.3 393.5h8.4m-4.2-4.2v8.4M291.3 436.5h8.4m-4.2-4.2v8.4M317.3 412.5h8.4m-4.2-4.2v8.4M318.3 380.5h8.4m-4.2-4.2v8.4M334.3 436.5h8.4m-4.2-4.2v8.4M308.3 440.5h8.4m-4.2-4.2v8.4M306.3 454.5h8.4m-4.2-4.2v8.4M288.3 274.5h8.4m-4.2-4.2v8.4M297.3 433.5h8.4m-4.2-4.2v8.4M293.3 377.5h8.4m-4.2-4.2v8.4M294.3 411.5h8.4m-4.2-4.2v8.4M296.3 326.5h8.4m-4.2-4.2v8.4M288.3 425.5h8.4m-4.2-4.2v8.4M305.3 356.5h8.4m-4.2-4.2v8.4M311.3 318.5h8.4m-4.2-4.2v8.4M315.3 362.5h8.4m-4.2-4.2v8.4M305.3 436.5h8.4m-4.2-4.2v8.4M318.3 441.5h8.4m-4.2-4.2v8.4M318.3 431.5h8.4m-4.2-4.2v8.4M288.3 352.5h8.4m-4.2-4.2v8.4M303.3 402.5h8.4m-4.2-4.2v8.4M292.3 439.5h8.4m-4.2-4.2v8.4M295.3 418.5h8.4m-4.2-4.2v8.4M308.3 465.5h8.4m-4.2-4.2v8.4M305.3 361.5h8.4m-4.2-4.2v8.4M323.3 397.5h8.4m-4.2-4.2v8.4M330.3 442.5h8.4m-4.2-4.2v8.4M311.3 307.5h8.4m-4.2-4.2v8.4M304.3 423.5h8.4m-4.2-4.2v8.4M304.3 426.5h8.4m-4.2-4.2v8.4M306.3 463.5h8.4m-4.2-4.2v8.4M313.3 448.5h8.4m-4.2-4.2v8.4M298.3 332.5h8.4m-4.2-4.2v8.4M313.3 397.5h8.4m-4.2-4.2v8.4M303.3 310.5h8.4m-4.2-4.2v8.4M318.3 465.5h8.4m-4.2-4.2v8.4M322.3 403.5h8.4m-4.2-4.2v8.4M326.3 428.5h8.4m-4.2-4.2v8.4M304.3 292.5h8.4m-4.2-4.2v8.4M290.3 356.5h8.4m-4.2-4.2v8.4M287.3 408.5h8.4m-4.2-4.2v8.4M303.3 403.5h8.4m-4.2-4.2v8.4M287.3 445.5h8.4m-4.2-4.2v8.4M302.3 437.5h8.4m-4.2-4.2v8.4M295.3 428.5h8.4m-4.2-4.2v8.4M314.3 437.5h8.4m-4.2-4.2v8.4M329.3 432.5h8.4m-4.2-4.2v8.4M304.3 407.5h8.4m-4.2-4.2v8.4M310.3 404.5h8.4m-4.2-4.2v8.4M288.3 463.5h8.4m-4.2-4.2v8.4M308.3 363.5h8.4m-4.2-4.2v8.4M298.3 444.5h8.4m-4.2-4.2v8.4M293.3 458.5h8.4m-4.2-4.2v8.4M285.3 342.5h8.4m-4.2-4.2v8.4M325.3 454.5h8.4m-4.2-4.2v8.4M287.3 437.5h8.4m-4.2-4.2v8.4M292.3 435.5h8.4m-4.2-4.2v8.4M306.3 447.5h8.4m-4.2-4.2v8.4M310.3 403.5h8.4m-4.2-4.2v8.4M310.3 448.5h8.4m-4.2-4.2v8.4M308.3 347.5h8.4m-4.2-4.2v8.4M296.3 399.5h8.4m-4.2-4.2v8.4M315.3 387.5h8.4m-4.2-4.2v8.4M309.3 336.5h8.4m-4.2-4.2v8.4M289.3 283.5h8.4m-4.2-4.2v8.4M325.3 415.5h8.4m-4.2-4.2v8.4M302.3 390.5h8.4m-4.2-4.2v8.4M317.3 452.5h8.4m-4.2-4.2v8.4M289.3 439.5h8.4m-4.2-4.2v8.4M293.3 404.5h8.4m-4.2-4.2v8.4M300.3 433.5h8.4m-4.2-4.2v8.4M298.3 410.5h8.4m-4.2-4.2v8.4M318.3 447.5h8.4m-4.2-4.2v8.4M287.3 422.5h8.4m-4.2-4.2v8.4M308.3 430.5h8.4m-4.2-4.2v8.4M295.3 448.5h8.4m-4.2-4.2v8.4M312.3 398.5h8.4m-4.2-4.2v8.4M309.3 452.5h8.4m-4.2-4.2v8.4M300.3 444.5h8.4m-4.2-4.2v8.4M332.3 455.5h8.4m-4.2-4.2v8.4M306.3 418.5h8.4m-4.2-4.2v8.4M319.3 455.5h8.4m-4.2-4.2v8.4M291.3 384.5h8.4m-4.2-4.2v8.4M305.3 442.5h8.4m-4.2-4.2v8.4M307.3 433.5h8.4m-4.2-4.2v8.4M308.3 403.5h8.4m-4.2-4.2v8.4M302.3 369.5h8.4m-4.2-4.2v8.4M297.3 448.5h8.4m-4.2-4.2v8.4M270.3 384.5h8.4m-4.2-4.2v8.4M300.3 456.5h8.4m-4.2-4.2v8.4M304.3 440.5h8.4m-4.2-4.2v8.4M316.3 447.5h8.4m-4.2-4.2v8.4M332.3 462.5h8.4m-4.2-4.2v8.4M313.3 449.5h8.4m-4.2-4.2v8.4M318.3 398.5h8.4m-4.2-4.2v8.4M315.3 460.5h8.4m-4.2-4.2v8.4M313.3 462.5h8.4m-4.2-4.2v8.4M304.3 443.5h8.4m-4.2-4.2v8.4M303.3 430.5h8.4m-4.2-4.2v8.4M310.3 444.5h8.4m-4.2-4.2v8.4M328.3 450.5h8.4m-4.2-4.2v8.4M316.3 426.5h8.4m-4.2-4.2v8.4M325.3 450.5h8.4m-4.2-4.2v8.4M292.3 432.5h8.4m-4.2-4.2v8.4M310.3 433.5h8.4m-4.2-4.2v8.4M311.3 437.5h8.4m-4.2-4.2v8.4M313.3 440.5h8.4m-4.2-4.2v8.4M291.3 447.5h8.4m-4.2-4.2v8.4M285.3 404.5h8.4m-4.2-4.2v8.4M282.3 371.5h8.4m-4.2-4.2v8.4M334.3 419.5h8.4m-4.2-4.2v8.4M309.3 293.5h8.4m-4.2-4.2v8.4M293.3 414.5h8.4m-4.2-4.2v8.4M311.3 356.5h8.4m-4.2-4.2v8.4M303.3 382.5h8.4m-4.2-4.2v8.4M309.3 439.5h8.4m-4.2-4.2v8.4M301.3 451.5h8.4m-4.2-4.2v8.4M292.3 437.5h8.4m-4.2-4.2v8.4M301.3 455.5h8.4m-4.2-4.2v8.4M315.3 444.5h8.4m-4.2-4.2v8.4M310.3 375.5h8.4m-4.2-4.2v8.4M321.3 426.5h8.4m-4.2-4.2v8.4M294.3 410.5h8.4m-4.2-4.2v8.4M319.3 395.5h8.4m-4.2-4.2v8.4M308.3 378.5h8.4m-4.2-4.2v8.4M309.3 376.5h8.4m-4.2-4.2v8.4M318.3 390.5h8.4m-4.2-4.2v8.4M367.3 450.5h8.4m-4.2-4.2v8.4M340.3 447.5h8.4m-4.2-4.2v8.4M370.3 463.5h8.4m-4.2-4.2v8.4M358.3 440.5h8.4m-4.2-4.2v8.4M376.3 437.5h8.4m-4.2-4.2v8.4M355.3 442.5h8.4m-4.2-4.2v8.4M364.3 409.5h8.4m-4.2-4.2v8.4M317.3 404.5h8.4m-4.2-4.2v8.4M366.3 430.5h8.4m-4.2-4.2v8.4M361.3 460.5h8.4m-4.2-4.2v8.4M380.3 443.5h8.4m-4.2-4.2v8.4M363.3 438.5h8.4m-4.2-4.2v8.4M352.3 445.5h8.4m-4.2-4.2v8.4M365.3 464.5h8.4m-4.2-4.2v8.4M350.3 383.5h8.4m-4.2-4.2v8.4M341.3 452.5h8.4m-4.2-4.2v8.4M342.3 443.5h8.4m-4.2-4.2v8.4M318.3 307.5h8.4m-4.2-4.2v8.4M316.3 463.5h8.4m-4.2-4.2v8.4M333.3 398.5h8.4m-4.2-4.2v8.4M339.3 387.5h8.4m-4.2-4.2v8.4M347.3 415.5h8.4m-4.2-4.2v8.4M317.3 456.5h8.4m-4.2-4.2v8.4M346.3 444.5h8.4m-4.2-4.2v8.4M381.3 460.5h8.4m-4.2-4.2v8.4M363.3 444.5h8.4m-4.2-4.2v8.4M359.3 456.5h8.4m-4.2-4.2v8.4M344.3 463.5h8.4m-4.2-4.2v8.4M374.3 454.5h8.4m-4.2-4.2v8.4M318.3 329.5h8.4m-4.2-4.2v8.4M365.3 442.5h8.4m-4.2-4.2v8.4M359.3 453.5h8.4m-4.2-4.2v8.4M334.3 462.5h8.4m-4.2-4.2v8.4M342.3 375.5h8.4m-4.2-4.2v8.4M321.3 366.5h8.4m-4.2-4.2v8.4M315.3 457.5h8.4m-4.2-4.2v8.4M331.3 386.5h8.4m-4.2-4.2v8.4M331.3 422.5h8.4m-4.2-4.2v8.4M344.3 464.5h8.4m-4.2-4.2v8.4M332.3 433.5h8.4m-4.2-4.2v8.4M375.3 464.5h8.4m-4.2-4.2v8.4M320.3 434.5h8.4m-4.2-4.2v8.4M369.3 441.5h8.4m-4.2-4.2v8.4M346.3 420.5h8.4m-4.2-4.2v8.4M324.3 440.5h8.4m-4.2-4.2v8.4M373.3 462.5h8.4m-4.2-4.2v8.4M347.3 406.5h8.4m-4.2-4.2v8.4M318.3 459.5h8.4m-4.2-4.2v8.4M373.3 477.5h8.4m-4.2-4.2v8.4M327.3 396.5h8.4m-4.2-4.2v8.4M348.3 427.5h8.4m-4.2-4.2v8.4M357.3 433.5h8.4m-4.2-4.2v8.4M362.3 376.5h8.4m-4.2-4.2v8.4M360.3 463.5h8.4m-4.2-4.2v8.4M369.3 434.5h8.4m-4.2-4.2v8.4M364.3 459.5h8.4m-4.2-4.2v8.4M323.3 441.5h8.4m-4.2-4.2v8.4M347.3 445.5h8.4m-4.2-4.2v8.4M342.3 445.5h8.4m-4.2-4.2v8.4M320.3 404.5h8.4m-4.2-4.2v8.4M338.3 457.5h8.4m-4.2-4.2v8.4M365.3 446.5h8.4m-4.2-4.2v8.4M339.3 447.5h8.4m-4.2-4.2v8.4M335.3 448.5h8.4m-4.2-4.2v8.4M341.3 454.5h8.4m-4.2-4.2v8.4M347.3 406.5h8.4m-4.2-4.2v8.4M364.3 456.5h8.4m-4.2-4.2v8.4M371.3 445.5h8.4m-4.2-4.2v8.4M328.3 451.5h8.4m-4.2-4.2v8.4M327.3 428.5h8.4m-4.2-4.2v8.4M330.3 473.5h8.4m-4.2-4.2v8.4M372.3 457.5h8.4m-4.2-4.2v8.4M376.3 464.5h8.4m-4.2-4.2v8.4M332.3 440.5h8.4m-4.2-4.2v8.4M370.3 465.5h8.4m-4.2-4.2v8.4M346.3 436.5h8.4m-4.2-4.2v8.4M381.3 456.5h8.4m-4.2-4.2v8.4M348.3 463.5h8.4m-4.2-4.2v8.4M376.3 441.5h8.4m-4.2-4.2v8.4M347.3 429.5h8.4m-4.2-4.2v8.4M332.3 443.5h8.4m-4.2-4.2v8.4M371.3 437.5h8.4m-4.2-4.2v8.4M331.3 431.5h8.4m-4.2-4.2v8.4M366.3 460.5h8.4m-4.2-4.2v8.4M345.3 460.5h8.4m-4.2-4.2v8.4M330.3 444.5h8.4m-4.2-4.2v8.4M341.3 411.5h8.4m-4.2-4.2v8.4M376.3 459.5h8.4m-4.2-4.2v8.4M329.3 448.5h8.4m-4.2-4.2v8.4M318.3 380.5h8.4m-4.2-4.2v8.4M376.3 447.5h8.4m-4.2-4.2v8.4M319.3 442.5h8.4m-4.2-4.2v8.4M325.3 460.5h8.4m-4.2-4.2v8.4M341.3 415.5h8.4m-4.2-4.2v8.4M365.3 446.5h8.4m-4.2-4.2v8.4M323.3 415.5h8.4m-4.2-4.2v8.4M325.3 447.5h8.4m-4.2-4.2v8.4M347.3 452.5h8.4m-4.2-4.2v8.4M372.3 457.5h8.4m-4.2-4.2v8.4M333.3 378.5h8.4m-4.2-4.2v8.4M328.3 404.5h8.4m-4.2-4.2v8.4M373.3 448.5h8.4m-4.2-4.2v8.4M324.3 353.5h8.4m-4.2-4.2v8.4M327.3 434.5h8.4m-4.2-4.2v8.4M333.3 450.5h8.4m-4.2-4.2v8.4M331.3 400.5h8.4m-4.2-4.2v8.4M321.3 393.5h8.4m-4.2-4.2v8.4M328.3 453.5h8.4m-4.2-4.2v8.4M322.3 448.5h8.4m-4.2-4.2v8.4M345.3 407.5h8.4m-4.2-4.2v8.4M358.3 452.5h8.4m-4.2-4.2v8.4M344.3 465.5h8.4m-4.2-4.2v8.4M317.3 437.5h8.4m-4.2-4.2v8.4M349.3 420.5h8.4m-4.2-4.2v8.4M359.3 449.5h8.4m-4.2-4.2v8.4M322.3 453.5h8.4m-4.2-4.2v8.4M341.3 445.5h8.4m-4.2-4.2v8.4M369.3 447.5h8.4m-4.2-4.2v8.4M339.3 463.5h8.4m-4.2-4.2v8.4M327.3 443.5h8.4m-4.2-4.2v8.4M321.3 397.5h8.4m-4.2-4.2v8.4M316.3 425.5h8.4m-4.2-4.2v8.4M325.3 444.5h8.4m-4.2-4.2v8.4M342.3 426.5h8.4m-4.2-4.2v8.4M342.3 424.5h8.4m-4.2-4.2v8.4M322.3 405.5h8.4m-4.2-4.2v8.4M339.3 426.5h8.4m-4.2-4.2v8.4M338.3 454.5h8.4m-4.2-4.2v8.4M368.3 436.5h8.4m-4.2-4.2v8.4M378.3 461.5h8.4m-4.2-4.2v8.4M381.3 456.5h8.4m-4.2-4.2v8.4M342.3 483.5h8.4m-4.2-4.2v8.4M371.3 441.5h8.4m-4.2-4.2v8.4M352.3 423.5h8.4m-4.2-4.2v8.4M318.3 422.5h8.4m-4.2-4.2v8.4M317.3 419.5h8.4m-4.2-4.2v8.4M351.3 379.5h8.4m-4.2-4.2v8.4M357.3 418.5h8.4m-4.2-4.2v8.4M354.3 442.5h8.4m-4.2-4.2v8.4M341.3 422.5h8.4m-4.2-4.2v8.4M350.3 429.5h8.4m-4.2-4.2v8.4M355.3 422.5h8.4m-4.2-4.2v8.4M359.3 433.5h8.4m-4.2-4.2v8.4M320.3 316.5h8.4m-4.2-4.2v8.4M341.3 418.5h8.4m-4.2-4.2v8.4M331.3 377.5h8.4m-4.2-4.2v8.4M341.3 448.5h8.4m-4.2-4.2v8.4M335.3 415.5h8.4m-4.2-4.2v8.4M317.3 466.5h8.4m-4.2-4.2v8.4M366.3 427.5h8.4m-4.2-4.2v8.4M344.3 467.5h8.4m-4.2-4.2v8.4M373.3 448.5h8.4m-4.2-4.2v8.4M316.3 419.5h8.4m-4.2-4.2v8.4M318.3 425.5h8.4m-4.2-4.2v8.4M320.3 412.5h8.4m-4.2-4.2v8.4M373.3 454.5h8.4m-4.2-4.2v8.4M343.3 412.5h8.4m-4.2-4.2v8.4M362.3 450.5h8.4m-4.2-4.2v8.4M317.3 407.5h8.4m-4.2-4.2v8.4M362.3 389.5h8.4m-4.2-4.2v8.4M318.3 459.5h8.4m-4.2-4.2v8.4M377.3 448.5h8.4m-4.2-4.2v8.4M343.3 400.5h8.4m-4.2-4.2v8.4M381.3 452.5h8.4m-4.2-4.2v8.4M353.3 449.5h8.4m-4.2-4.2v8.4M350.3 446.5h8.4m-4.2-4.2v8.4M321.3 455.5h8.4m-4.2-4.2v8.4M353.3 452.5h8.4m-4.2-4.2v8.4M363.3 458.5h8.4m-4.2-4.2v8.4M351.3 417.5h8.4m-4.2-4.2v8.4M357.3 435.5h8.4m-4.2-4.2v8.4M374.3 463.5h8.4m-4.2-4.2v8.4M358.3 416.5h8.4m-4.2-4.2v8.4M354.3 451.5h8.4m-4.2-4.2v8.4M345.3 459.5h8.4m-4.2-4.2v8.4M339.3 457.5h8.4m-4.2-4.2v8.4M359.3 411.5h8.4m-4.2-4.2v8.4M369.3 456.5h8.4m-4.2-4.2v8.4M361.3 448.5h8.4m-4.2-4.2v8.4M318.3 468.5h8.4m-4.2-4.2v8.4M326.3 351.5h8.4m-4.2-4.2v8.4M351.3 461.5h8.4m-4.2-4.2v8.4M348.3 417.5h8.4m-4.2-4.2v8.4M377.3 458.5h8.4m-4.2-4.2v8.4M375.3 451.5h8.4m-4.2-4.2v8.4M351.3 427.5h8.4m-4.2-4.2v8.4M360.3 438.5h8.4m-4.2-4.2v8.4M371.3 450.5h8.4m-4.2-4.2v8.4M320.3 429.5h8.4m-4.2-4.2v8.4M330.3 437.5h8.4m-4.2-4.2v8.4M316.3 463.5h8.4m-4.2-4.2v8.4M352.3 463.5h8.4m-4.2-4.2v8.4M377.3 446.5h8.4m-4.2-4.2v8.4M315.3 359.5h8.4m-4.2-4.2v8.4M320.3 369.5h8.4m-4.2-4.2v8.4M323.3 409.5h8.4m-4.2-4.2v8.4M365.3 381.5h8.4m-4.2-4.2v8.4M333.3 436.5h8.4m-4.2-4.2v8.4M323.3 425.5h8.4m-4.2-4.2v8.4M334.3 386.5h8.4m-4.2-4.2v8.4M326.3 415.5h8.4m-4.2-4.2v8.4M326.3 458.5h8.4m-4.2-4.2v8.4M348.3 401.5h8.4m-4.2-4.2v8.4M356.3 448.5h8.4m-4.2-4.2v8.4M326.3 409.5h8.4m-4.2-4.2v8.4M346.3 452.5h8.4m-4.2-4.2v8.4M316.3 337.5h8.4m-4.2-4.2v8.4M319.3 420.5h8.4m-4.2-4.2v8.4M347.3 450.5h8.4m-4.2-4.2v8.4M330.3 448.5h8.4m-4.2-4.2v8.4M328.3 397.5h8.4m-4.2-4.2v8.4M361.3 422.5h8.4m-4.2-4.2v8.4M340.3 459.5h8.4m-4.2-4.2v8.4M327.3 469.5h8.4m-4.2-4.2v8.4M348.3 474.5h8.4m-4.2-4.2v8.4M369.3 461.5h8.4m-4.2-4.2v8.4M356.3 450.5h8.4m-4.2-4.2v8.4M325.3 454.5h8.4m-4.2-4.2v8.4M356.3 413.5h8.4m-4.2-4.2v8.4M378.3 451.5h8.4m-4.2-4.2v8.4M323.3 454.5h8.4m-4.2-4.2v8.4M354.3 467.5h8.4m-4.2-4.2v8.4M343.3 426.5h8.4m-4.2-4.2v8.4M355.3 465.5h8.4m-4.2-4.2v8.4M320.3 430.5h8.4m-4.2-4.2v8.4M325.3 439.5h8.4m-4.2-4.2v8.4M332.3 463.5h8.4m-4.2-4.2v8.4M370.3 450.5h8.4m-4.2-4.2v8.4M334.3 403.5h8.4m-4.2-4.2v8.4M331.3 421.5h8.4m-4.2-4.2v8.4M362.3 408.5h8.4m-4.2-4.2v8.4M320.3 460.5h8.4m-4.2-4.2v8.4M330.3 442.5h8.4m-4.2-4.2v8.4M346.3 461.5h8.4m-4.2-4.2v8.4M332.3 392.5h8.4m-4.2-4.2v8.4M350.3 421.5h8.4m-4.2-4.2v8.4M350.3 448.5h8.4m-4.2-4.2v8.4M320.3 433.5h8.4m-4.2-4.2v8.4M320.3 444.5h8.4m-4.2-4.2v8.4M365.3 467.5h8.4m-4.2-4.2v8.4M337.3 421.5h8.4m-4.2-4.2v8.4M321.3 440.5h8.4m-4.2-4.2v8.4M317.3 399.5h8.4m-4.2-4.2v8.4M337.3 430.5h8.4m-4.2-4.2v8.4M370.3 424.5h8.4m-4.2-4.2v8.4M323.3 331.5h8.4m-4.2-4.2v8.4M316.3 434.5h8.4m-4.2-4.2v8.4M350.3 374.5h8.4m-4.2-4.2v8.4M358.3 463.5h8.4m-4.2-4.2v8.4M345.3 439.5h8.4m-4.2-4.2v8.4M327.3 466.5h8.4m-4.2-4.2v8.4M330.3 374.5h8.4m-4.2-4.2v8.4M347.3 431.5h8.4m-4.2-4.2v8.4M375.3 436.5h8.4m-4.2-4.2v8.4M337.3 439.5h8.4m-4.2-4.2v8.4M332.3 453.5h8.4m-4.2-4.2v8.4M336.3 450.5h8.4m-4.2-4.2v8.4M327.3 394.5h8.4m-4.2-4.2v8.4M322.3 427.5h8.4m-4.2-4.2v8.4M375.3 429.5h8.4m-4.2-4.2v8.4M320.3 393.5h8.4m-4.2-4.2v8.4M370.3 421.5h8.4m-4.2-4.2v8.4M352.3 427.5h8.4m-4.2-4.2v8.4M381.3 448.5h8.4m-4.2-4.2v8.4M330.3 456.5h8.4m-4.2-4.2v8.4M372.3 453.5h8.4m-4.2-4.2v8.4M318.3 450.5h8.4m-4.2-4.2v8.4M365.3 454.5h8.4m-4.2-4.2v8.4M331.3 446.5h8.4m-4.2-4.2v8.4M340.3 462.5h8.4m-4.2-4.2v8.4M366.3 454.5h8.4m-4.2-4.2v8.4M353.3 419.5h8.4m-4.2-4.2v8.4M340.3 454.5h8.4m-4.2-4.2v8.4M329.3 392.5h8.4m-4.2-4.2v8.4M363.3 419.5h8.4m-4.2-4.2v8.4M340.3 438.5h8.4m-4.2-4.2v8.4M326.3 403.5h8.4m-4.2-4.2v8.4M335.3 456.5h8.4m-4.2-4.2v8.4M366.3 418.5h8.4m-4.2-4.2v8.4M317.3 447.5h8.4m-4.2-4.2v8.4M330.3 454.5h8.4m-4.2-4.2v8.4M361.3 442.5h8.4m-4.2-4.2v8.4M351.3 405.5h8.4m-4.2-4.2v8.4M338.3 452.5h8.4m-4.2-4.2v8.4M321.3 432.5h8.4m-4.2-4.2v8.4M316.3 371.5h8.4m-4.2-4.2v8.4M336.3 449.5h8.4m-4.2-4.2v8.4M357.3 453.5h8.4m-4.2-4.2v8.4M327.3 359.5h8.4m-4.2-4.2v8.4M376.3 437.5h8.4m-4.2-4.2v8.4M352.3 460.5h8.4m-4.2-4.2v8.4M339.3 454.5h8.4m-4.2-4.2v8.4M363.3 445.5h8.4m-4.2-4.2v8.4M329.3 426.5h8.4m-4.2-4.2v8.4M375.3 432.5h8.4m-4.2-4.2v8.4M333.3 464.5h8.4m-4.2-4.2v8.4M315.3 432.5h8.4m-4.2-4.2v8.4M342.3 296.5h8.4m-4.2-4.2v8.4M376.3 445.5h8.4m-4.2-4.2v8.4M319.3 422.5h8.4m-4.2-4.2v8.4M323.3 450.5h8.4m-4.2-4.2v8.4M341.3 453.5h8.4m-4.2-4.2v8.4M375.3 436.5h8.4m-4.2-4.2v8.4M318.3 450.5h8.4m-4.2-4.2v8.4M345.3 354.5h8.4m-4.2-4.2v8.4M363.3 440.5h8.4m-4.2-4.2v8.4M335.3 448.5h8.4m-4.2-4.2v8.4M339.3 461.5h8.4m-4.2-4.2v8.4M379.3 476.5h8.4m-4.2-4.2v8.4M345.3 402.5h8.4m-4.2-4.2v8.4M357.3 456.5h8.4m-4.2-4.2v8.4M356.3 438.5h8.4m-4.2-4.2v8.4M375.3 450.5h8.4m-4.2-4.2v8.4M332.3 344.5h8.4m-4.2-4.2v8.4M346.3 470.5h8.4m-4.2-4.2v8.4M324.3 424.5h8.4m-4.2-4.2v8.4M331.3 419.5h8.4m-4.2-4.2v8.4M369.3 424.5h8.4m-4.2-4.2v8.4M381.3 467.5h8.4m-4.2-4.2v8.4M331.3 446.5h8.4m-4.2-4.2v8.4M363.3 439.5h8.4m-4.2-4.2v8.4M358.3 451.5h8.4m-4.2-4.2v8.4M333.3 433.5h8.4m-4.2-4.2v8.4M332.3 430.5h8.4m-4.2-4.2v8.4M324.3 421.5h8.4m-4.2-4.2v8.4M343.3 436.5h8.4m-4.2-4.2v8.4M317.3 379.5h8.4m-4.2-4.2v8.4M372.3 456.5h8.4m-4.2-4.2v8.4M326.3 402.5h8.4m-4.2-4.2v8.4M353.3 457.5h8.4m-4.2-4.2v8.4M343.3 473.5h8.4m-4.2-4.2v8.4M332.3 437.5h8.4m-4.2-4.2v8.4M380.3 445.5h8.4m-4.2-4.2v8.4M371.3 462.5h8.4m-4.2-4.2v8.4M361.3 455.5h8.4m-4.2-4.2v8.4M319.3 401.5h8.4m-4.2-4.2v8.4M340.3 441.5h8.4m-4.2-4.2v8.4M354.3 417.5h8.4m-4.2-4.2v8.4M318.3 448.5h8.4m-4.2-4.2v8.4M358.3 449.5h8.4m-4.2-4.2v8.4M368.3 459.5h8.4m-4.2-4.2v8.4M380.3 468.5h8.4m-4.2-4.2v8.4M343.3 431.5h8.4m-4.2-4.2v8.4M316.3 426.5h8.4m-4.2-4.2v8.4M324.3 415.5h8.4m-4.2-4.2v8.4M367.3 460.5h8.4m-4.2-4.2v8.4M321.3 368.5h8.4m-4.2-4.2v8.4M352.3 443.5h8.4m-4.2-4.2v8.4M354.3 451.5h8.4m-4.2-4.2v8.4M339.3 465.5h8.4m-4.2-4.2v8.4M365.3 463.5h8.4m-4.2-4.2v8.4M319.3 448.5h8.4m-4.2-4.2v8.4M352.3 411.5h8.4m-4.2-4.2v8.4M334.3 445.5h8.4m-4.2-4.2v8.4M372.3 428.5h8.4m-4.2-4.2v8.4M335.3 439.5h8.4m-4.2-4.2v8.4M323.3 443.5h8.4m-4.2-4.2v8.4M332.3 462.5h8.4m-4.2-4.2v8.4M344.3 455.5h8.4m-4.2-4.2v8.4M318.3 451.5h8.4m-4.2-4.2v8.4M372.3 458.5h8.4m-4.2-4.2v8.4M354.3 463.5h8.4m-4.2-4.2v8.4M330.3 344.5h8.4m-4.2-4.2v8.4M351.3 448.5h8.4m-4.2-4.2v8.4M350.3 432.5h8.4m-4.2-4.2v8.4M336.3 406.5h8.4m-4.2-4.2v8.4M357.3 441.5h8.4m-4.2-4.2v8.4M363.3 438.5h8.4m-4.2-4.2v8.4M357.3 421.5h8.4m-4.2-4.2v8.4M324.3 414.5h8.4m-4.2-4.2v8.4M316.3 333.5h8.4m-4.2-4.2v8.4M330.3 436.5h8.4m-4.2-4.2v8.4M338.3 445.5h8.4m-4.2-4.2v8.4M369.3 461.5h8.4m-4.2-4.2v8.4M318.3 450.5h8.4m-4.2-4.2v8.4M371.3 435.5h8.4m-4.2-4.2v8.4M317.3 396.5h8.4m-4.2-4.2v8.4M330.3 403.5h8.4m-4.2-4.2v8.4M336.3 473.5h8.4m-4.2-4.2v8.4M378.3 447.5h8.4m-4.2-4.2v8.4M380.3 468.5h8.4m-4.2-4.2v8.4M316.3 431.5h8.4m-4.2-4.2v8.4M323.3 453.5h8.4m-4.2-4.2v8.4M339.3 437.5h8.4m-4.2-4.2v8.4M327.3 427.5h8.4m-4.2-4.2v8.4M380.3 425.5h8.4m-4.2-4.2v8.4M351.3 411.5h8.4m-4.2-4.2v8.4M331.3 402.5h8.4m-4.2-4.2v8.4M350.3 460.5h8.4m-4.2-4.2v8.4M356.3 438.5h8.4m-4.2-4.2v8.4M372.3 462.5h8.4m-4.2-4.2v8.4M374.3 453.5h8.4m-4.2-4.2v8.4M337.3 389.5h8.4m-4.2-4.2v8.4M363.3 450.5h8.4m-4.2-4.2v8.4M345.3 429.5h8.4m-4.2-4.2v8.4M361.3 450.5h8.4m-4.2-4.2v8.4M342.3 443.5h8.4m-4.2-4.2v8.4M334.3 429.5h8.4m-4.2-4.2v8.4M323.3 453.5h8.4m-4.2-4.2v8.4M318.3 441.5h8.4m-4.2-4.2v8.4M331.3 423.5h8.4m-4.2-4.2v8.4M332.3 429.5h8.4m-4.2-4.2v8.4M348.3 431.5h8.4m-4.2-4.2v8.4M356.3 463.5h8.4m-4.2-4.2v8.4M359.3 442.5h8.4m-4.2-4.2v8.4M364.3 444.5h8.4m-4.2-4.2v8.4M348.3 370.5h8.4m-4.2-4.2v8.4M343.3 435.5h8.4m-4.2-4.2v8.4M351.3 442.5h8.4m-4.2-4.2v8.4M358.3 452.5h8.4m-4.2-4.2v8.4M371.3 449.5h8.4m-4.2-4.2v8.4M326.3 370.5h8.4m-4.2-4.2v8.4M372.3 427.5h8.4m-4.2-4.2v8.4M323.3 446.5h8.4m-4.2-4.2v8.4M316.3 443.5h8.4m-4.2-4.2v8.4M366.3 452.5h8.4m-4.2-4.2v8.4M325.3 426.5h8.4m-4.2-4.2v8.4M370.3 452.5h8.4m-4.2-4.2v8.4M333.3 455.5h8.4m-4.2-4.2v8.4M332.3 381.5h8.4m-4.2-4.2v8.4M373.3 418.5h8.4m-4.2-4.2v8.4M363.3 442.5h8.4m-4.2-4.2v8.4M317.3 451.5h8.4m-4.2-4.2v8.4M380.3 457.5h8.4m-4.2-4.2v8.4M324.3 437.5h8.4m-4.2-4.2v8.4M356.3 442.5h8.4m-4.2-4.2v8.4M379.3 436.5h8.4m-4.2-4.2v8.4M370.3 450.5h8.4m-4.2-4.2v8.4M342.3 438.5h8.4m-4.2-4.2v8.4M380.3 434.5h8.4m-4.2-4.2v8.4M357.3 444.5h8.4m-4.2-4.2v8.4M326.3 447.5h8.4m-4.2-4.2v8.4M381.3 439.5h8.4m-4.2-4.2v8.4M348.3 412.5h8.4m-4.2-4.2v8.4M330.3 454.5h8.4m-4.2-4.2v8.4M338.3 444.5h8.4m-4.2-4.2v8.4M323.3 385.5h8.4m-4.2-4.2v8.4M348.3 459.5h8.4m-4.2-4.2v8.4M348.3 405.5h8.4m-4.2-4.2v8.4M321.3 411.5h8.4m-4.2-4.2v8.4M336.3 447.5h8.4m-4.2-4.2v8.4M327.3 449.5h8.4m-4.2-4.2v8.4M375.3 443.5h8.4m-4.2-4.2v8.4M323.3 475.5h8.4m-4.2-4.2v8.4M351.3 433.5h8.4m-4.2-4.2v8.4M353.3 427.5h8.4m-4.2-4.2v8.4M350.3 464.5h8.4m-4.2-4.2v8.4M334.3 408.5h8.4m-4.2-4.2v8.4M326.3 449.5h8.4m-4.2-4.2v8.4M315.3 296.5h8.4m-4.2-4.2v8.4M323.3 445.5h8.4m-4.2-4.2v8.4M368.3 454.5h8.4m-4.2-4.2v8.4M328.3 392.5h8.4m-4.2-4.2v8.4M345.3 361.5h8.4m-4.2-4.2v8.4M329.3 459.5h8.4m-4.2-4.2v8.4M317.3 448.5h8.4m-4.2-4.2v8.4M337.3 387.5h8.4m-4.2-4.2v8.4M336.3 429.5h8.4m-4.2-4.2v8.4M331.3 404.5h8.4m-4.2-4.2v8.4M348.3 415.5h8.4m-4.2-4.2v8.4M333.3 451.5h8.4m-4.2-4.2v8.4M325.3 263.5h8.4m-4.2-4.2v8.4M334.3 361.5h8.4m-4.2-4.2v8.4M376.3 454.5h8.4m-4.2-4.2v8.4M320.3 364.5h8.4m-4.2-4.2v8.4M320.3 436.5h8.4m-4.2-4.2v8.4M363.3 461.5h8.4m-4.2-4.2v8.4M323.3 454.5h8.4m-4.2-4.2v8.4M320.3 446.5h8.4m-4.2-4.2v8.4M326.3 387.5h8.4m-4.2-4.2v8.4M374.3 433.5h8.4m-4.2-4.2v8.4M379.3 445.5h8.4m-4.2-4.2v8.4M379.3 462.5h8.4m-4.2-4.2v8.4M330.3 456.5h8.4m-4.2-4.2v8.4M376.3 458.5h8.4m-4.2-4.2v8.4M317.3 445.5h8.4m-4.2-4.2v8.4M341.3 451.5h8.4m-4.2-4.2v8.4M346.3 405.5h8.4m-4.2-4.2v8.4M339.3 328.5h8.4m-4.2-4.2v8.4M363.3 461.5h8.4m-4.2-4.2v8.4M341.3 447.5h8.4m-4.2-4.2v8.4M361.3 448.5h8.4m-4.2-4.2v8.4M364.3 461.5h8.4m-4.2-4.2v8.4M319.3 414.5h8.4m-4.2-4.2v8.4M330.3 423.5h8.4m-4.2-4.2v8.4M331.3 457.5h8.4m-4.2-4.2v8.4M380.3 468.5h8.4m-4.2-4.2v8.4M371.3 437.5h8.4m-4.2-4.2v8.4M329.3 450.5h8.4m-4.2-4.2v8.4M317.3 401.5h8.4m-4.2-4.2v8.4M331.3 424.5h8.4m-4.2-4.2v8.4M323.3 441.5h8.4m-4.2-4.2v8.4M344.3 403.5h8.4m-4.2-4.2v8.4M376.3 465.5h8.4m-4.2-4.2v8.4M366.3 397.5h8.4m-4.2-4.2v8.4M316.3 422.5h8.4m-4.2-4.2v8.4M326.3 456.5h8.4m-4.2-4.2v8.4M365.3 440.5h8.4m-4.2-4.2v8.4M328.3 417.5h8.4m-4.2-4.2v8.4M368.3 422.5h8.4m-4.2-4.2v8.4M352.3 452.5h8.4m-4.2-4.2v8.4M358.3 428.5h8.4m-4.2-4.2v8.4M359.3 437.5h8.4m-4.2-4.2v8.4M348.3 449.5h8.4m-4.2-4.2v8.4M322.3 445.5h8.4m-4.2-4.2v8.4M368.3 451.5h8.4m-4.2-4.2v8.4M347.3 437.5h8.4m-4.2-4.2v8.4M360.3 448.5h8.4m-4.2-4.2v8.4M316.3 474.5h8.4m-4.2-4.2v8.4M322.3 432.5h8.4m-4.2-4.2v8.4M347.3 395.5h8.4m-4.2-4.2v8.4M367.3 444.5h8.4m-4.2-4.2v8.4M333.3 463.5h8.4m-4.2-4.2v8.4M363.3 437.5h8.4m-4.2-4.2v8.4M315.3 387.5h8.4m-4.2-4.2v8.4M316.3 370.5h8.4m-4.2-4.2v8.4M357.3 445.5h8.4m-4.2-4.2v8.4M330.3 416.5h8.4m-4.2-4.2v8.4M331.3 460.5h8.4m-4.2-4.2v8.4M332.3 471.5h8.4m-4.2-4.2v8.4M349.3 404.5h8.4m-4.2-4.2v8.4M263.3 368.5h8.4m-4.2-4.2v8.4M290.3 367.5h8.4m-4.2-4.2v8.4M281.3 406.5h8.4m-4.2-4.2v8.4M284.3 355.5h8.4m-4.2-4.2v8.4M270.3 393.5h8.4m-4.2-4.2v8.4M262.3 432.5h8.4m-4.2-4.2v8.4M268.3 366.5h8.4m-4.2-4.2v8.4M268.3 314.5h8.4m-4.2-4.2v8.4M261.3 322.5h8.4m-4.2-4.2v8.4M281.3 391.5h8.4m-4.2-4.2v8.4M270.3 425.5h8.4m-4.2-4.2v8.4M280.3 450.5h8.4m-4.2-4.2v8.4M271.3 409.5h8.4m-4.2-4.2v8.4M261.3 353.5h8.4m-4.2-4.2v8.4M290.3 443.5h8.4m-4.2-4.2v8.4M280.3 449.5h8.4m-4.2-4.2v8.4M273.3 290.5h8.4m-4.2-4.2v8.4M285.3 365.5h8.4m-4.2-4.2v8.4M287.3 356.5h8.4m-4.2-4.2v8.4M274.3 450.5h8.4m-4.2-4.2v8.4M276.3 431.5h8.4m-4.2-4.2v8.4M277.3 399.5h8.4m-4.2-4.2v8.4M277.3 445.5h8.4m-4.2-4.2v8.4M274.3 358.5h8.4m-4.2-4.2v8.4M281.3 455.5h8.4m-4.2-4.2v8.4M289.3 455.5h8.4m-4.2-4.2v8.4M289.3 391.5h8.4m-4.2-4.2v8.4M283.3 322.5h8.4m-4.2-4.2v8.4M283.3 414.5h8.4m-4.2-4.2v8.4M274.3 443.5h8.4m-4.2-4.2v8.4M285.3 419.5h8.4m-4.2-4.2v8.4M291.3 302.5h8.4m-4.2-4.2v8.4M272.3 249.5h8.4m-4.2-4.2v8.4M291.3 385.5h8.4m-4.2-4.2v8.4M259.3 362.5h8.4m-4.2-4.2v8.4M276.3 443.5h8.4m-4.2-4.2v8.4M283.3 413.5h8.4m-4.2-4.2v8.4M287.3 262.5h8.4m-4.2-4.2v8.4M263.3 361.5h8.4m-4.2-4.2v8.4M262.3 381.5h8.4m-4.2-4.2v8.4M281.3 414.5h8.4m-4.2-4.2v8.4M262.3 424.5h8.4m-4.2-4.2v8.4M266.3 457.5h8.4m-4.2-4.2v8.4M265.3 379.5h8.4m-4.2-4.2v8.4M277.3 446.5h8.4m-4.2-4.2v8.4M285.3 424.5h8.4m-4.2-4.2v8.4M276.3 366.5h8.4m-4.2-4.2v8.4M267.3 421.5h8.4m-4.2-4.2v8.4M291.3 337.5h8.4m-4.2-4.2v8.4M267.3 406.5h8.4m-4.2-4.2v8.4M268.3 379.5h8.4m-4.2-4.2v8.4M290.3 368.5h8.4m-4.2-4.2v8.4M291.3 445.5h8.4m-4.2-4.2v8.4M271.3 440.5h8.4m-4.2-4.2v8.4M271.3 306.5h8.4m-4.2-4.2v8.4M259.3 411.5h8.4m-4.2-4.2v8.4M261.3 441.5h8.4m-4.2-4.2v8.4M262.3 424.5h8.4m-4.2-4.2v8.4M276.3 457.5h8.4m-4.2-4.2v8.4M265.3 380.5h8.4m-4.2-4.2v8.4M281.3 359.5h8.4m-4.2-4.2v8.4M270.3 420.5h8.4m-4.2-4.2v8.4M277.3 259.5h8.4m-4.2-4.2v8.4M286.3 420.5h8.4m-4.2-4.2v8.4M279.3 450.5h8.4m-4.2-4.2v8.4M267.3 382.5h8.4m-4.2-4.2v8.4M285.3 250.5h8.4m-4.2-4.2v8.4M269.3 422.5h8.4m-4.2-4.2v8.4M270.3 421.5h8.4m-4.2-4.2v8.4M271.3 296.5h8.4m-4.2-4.2v8.4M274.3 406.5h8.4m-4.2-4.2v8.4M267.3 442.5h8.4m-4.2-4.2v8.4M288.3 317.5h8.4m-4.2-4.2v8.4M269.3 407.5h8.4m-4.2-4.2v8.4M252.3 355.5h8.4m-4.2-4.2v8.4M247.3 286.5h8.4m-4.2-4.2v8.4M294.3 317.5h8.4m-4.2-4.2v8.4M254.3 279.5h8.4m-4.2-4.2v8.4M240.3 371.5h8.4m-4.2-4.2v8.4M243.3 279.5h8.4m-4.2-4.2v8.4M278.3 301.5h8.4m-4.2-4.2v8.4M271.3 412.5h8.4m-4.2-4.2v8.4M224.3 374.5h8.4m-4.2-4.2v8.4M259.3 416.5h8.4m-4.2-4.2v8.4M350.3 327.5h8.4m-4.2-4.2v8.4M210.3 456.5h8.4m-4.2-4.2v8.4M290.3 323.5h8.4m-4.2-4.2v8.4M274.3 287.5h8.4m-4.2-4.2v8.4M274.3 277.5h8.4m-4.2-4.2v8.4M259.3 294.5h8.4m-4.2-4.2v8.4M266.3 337.5h8.4m-4.2-4.2v8.4M326.3 346.5h8.4m-4.2-4.2v8.4M293.3 271.5h8.4m-4.2-4.2v8.4M228.3 380.5h8.4m-4.2-4.2v8.4M246.3 290.5h8.4m-4.2-4.2v8.4M213.3 452.5h8.4m-4.2-4.2v8.4M350.3 332.5h8.4m-4.2-4.2v8.4M268.3 359.5h8.4m-4.2-4.2v8.4M313.3 317.5h8.4m-4.2-4.2v8.4M357.3 257.5h8.4m-4.2-4.2v8.4M285.3 267.5h8.4m-4.2-4.2v8.4M232.3 300.5h8.4m-4.2-4.2v8.4M277.3 382.5h8.4m-4.2-4.2v8.4M303.3 409.5h8.4m-4.2-4.2v8.4M308.3 285.5h8.4m-4.2-4.2v8.4M236.3 386.5h8.4m-4.2-4.2v8.4M252.3 281.5h8.4m-4.2-4.2v8.4M237.3 352.5h8.4m-4.2-4.2v8.4M236.3 396.5h8.4m-4.2-4.2v8.4M220.3 452.5h8.4m-4.2-4.2v8.4M200.3 272.5h8.4m-4.2-4.2v8.4M281.3 452.5h8.4m-4.2-4.2v8.4M301.3 277.5h8.4m-4.2-4.2v8.4M349.3 263.5h8.4m-4.2-4.2v8.4M336.3 290.5h8.4m-4.2-4.2v8.4M353.3 325.5h8.4m-4.2-4.2v8.4M362.3 292.5h8.4m-4.2-4.2v8.4M365.3 321.5h8.4m-4.2-4.2v8.4M337.3 304.5h8.4m-4.2-4.2v8.4M341.3 275.5h8.4m-4.2-4.2v8.4M353.3 276.5h8.4m-4.2-4.2v8.4M342.3 314.5h8.4m-4.2-4.2v8.4M360.3 268.5h8.4m-4.2-4.2v8.4M363.3 275.5h8.4m-4.2-4.2v8.4M220.3 375.5h8.4m-4.2-4.2v8.4M216.3 389.5h8.4m-4.2-4.2v8.4M219.3 371.5h8.4m-4.2-4.2v8.4M231.3 358.5h8.4m-4.2-4.2v8.4M246.3 364.5h8.4m-4.2-4.2v8.4M245.3 331.5h8.4m-4.2-4.2v8.4M241.3 300.5h8.4m-4.2-4.2v8.4M226.3 332.5h8.4m-4.2-4.2v8.4M201.3 332.5h8.4m-4.2-4.2v8.4M204.3 385.5h8.4m-4.2-4.2v8.4M237.3 329.5h8.4m-4.2-4.2v8.4M224.3 273.5h8.4m-4.2-4.2v8.4M219.3 353.5h8.4m-4.2-4.2v8.4M232.3 273.5h8.4m-4.2-4.2v8.4M212.3 344.5h8.4m-4.2-4.2v8.4M215.3 325.5h8.4m-4.2-4.2v8.4M232.3 404.5h8.4m-4.2-4.2v8.4M238.3 308.5h8.4m-4.2-4.2v8.4M246.3 291.5h8.4m-4.2-4.2v8.4M245.3 293.5h8.4m-4.2-4.2v8.4M235.3 270.5h8.4m-4.2-4.2v8.4M243.3 350.5h8.4m-4.2-4.2v8.4M244.3 364.5h8.4m-4.2-4.2v8.4M199.3 288.5h8.4m-4.2-4.2v8.4M236.3 325.5h8.4m-4.2-4.2v8.4M228.3 340.5h8.4m-4.2-4.2v8.4M232.3 334.5h8.4m-4.2-4.2v8.4M236.3 366.5h8.4m-4.2-4.2v8.4M205.3 354.5h8.4m-4.2-4.2v8.4M217.3 302.5h8.4m-4.2-4.2v8.4M238.3 319.5h8.4m-4.2-4.2v8.4M222.3 317.5h8.4m-4.2-4.2v8.4M219.3 384.5h8.4m-4.2-4.2v8.4M201.3 396.5h8.4m-4.2-4.2v8.4M246.3 406.5h8.4m-4.2-4.2v8.4M210.3 259.5h8.4m-4.2-4.2v8.4M206.3 269.5h8.4m-4.2-4.2v8.4M228.3 262.5h8.4m-4.2-4.2v8.4M209.3 389.5h8.4m-4.2-4.2v8.4M243.3 288.5h8.4m-4.2-4.2v8.4M242.3 358.5h8.4m-4.2-4.2v8.4M231.3 383.5h8.4m-4.2-4.2v8.4M219.3 356.5h8.4m-4.2-4.2v8.4M206.3 389.5h8.4m-4.2-4.2v8.4M209.3 369.5h8.4m-4.2-4.2v8.4M204.3 383.5h8.4m-4.2-4.2v8.4M205.3 349.5h8.4m-4.2-4.2v8.4M235.3 366.5h8.4m-4.2-4.2v8.4M207.3 343.5h8.4m-4.2-4.2v8.4M205.3 386.5h8.4m-4.2-4.2v8.4M229.3 285.5h8.4m-4.2-4.2v8.4M223.3 282.5h8.4m-4.2-4.2v8.4M221.3 392.5h8.4m-4.2-4.2v8.4M222.3 266.5h8.4m-4.2-4.2v8.4M203.3 394.5h8.4m-4.2-4.2v8.4M229.3 392.5h8.4m-4.2-4.2v8.4M205.3 352.5h8.4m-4.2-4.2v8.4M207.3 362.5h8.4m-4.2-4.2v8.4M242.3 328.5h8.4m-4.2-4.2v8.4M218.3 361.5h8.4m-4.2-4.2v8.4M239.3 249.5h8.4m-4.2-4.2v8.4M200.3 360.5h8.4m-4.2-4.2v8.4M244.3 357.5h8.4m-4.2-4.2v8.4M217.3 319.5h8.4m-4.2-4.2v8.4M248.3 368.5h8.4m-4.2-4.2v8.4M241.3 369.5h8.4m-4.2-4.2v8.4M208.3 429.5h8.4m-4.2-4.2v8.4M226.3 431.5h8.4m-4.2-4.2v8.4M233.3 432.5h8.4m-4.2-4.2v8.4M221.3 441.5h8.4m-4.2-4.2v8.4M243.3 428.5h8.4m-4.2-4.2v8.4M214.3 430.5h8.4m-4.2-4.2v8.4M201.3 420.5h8.4m-4.2-4.2v8.4M201.3 357.5h8.4m-4.2-4.2v8.4M202.3 333.5h8.4m-4.2-4.2v8.4M202.3 398.5h8.4m-4.2-4.2v8.4M201.3 319.5h8.4m-4.2-4.2v8.4M201.3 401.5h8.4m-4.2-4.2v8.4M201.3 408.5h8.4m-4.2-4.2v8.4M201.3 356.5h8.4m-4.2-4.2v8.4M202.3 382.5h8.4m-4.2-4.2v8.4M201.3 329.5h8.4m-4.2-4.2v8.4M200.3 380.5h8.4m-4.2-4.2v8.4M201.3 418.5h8.4m-4.2-4.2v8.4M201.3 435.5h8.4m-4.2-4.2v8.4M203.3 435.5h8.4m-4.2-4.2v8.4M201.3 359.5h8.4m-4.2-4.2v8.4M198.3 445.5h8.4m-4.2-4.2v8.4M205.3 337.5h8.4m-4.2-4.2v8.4M204.3 375.5h8.4m-4.2-4.2v8.4M203.3 387.5h8.4m-4.2-4.2v8.4M202.3 373.5h8.4m-4.2-4.2v8.4M202.3 360.5h8.4m-4.2-4.2v8.4M205.3 398.5h8.4m-4.2-4.2v8.4M200.3 322.5h8.4m-4.2-4.2v8.4M203.3 408.5h8.4m-4.2-4.2v8.4M203.3 415.5h8.4m-4.2-4.2v8.4M206.3 365.5h8.4m-4.2-4.2v8.4M202.3 353.5h8.4m-4.2-4.2v8.4M204.3 382.5h8.4m-4.2-4.2v8.4M202.3 373.5h8.4m-4.2-4.2v8.4M200.3 383.5h8.4m-4.2-4.2v8.4M200.3 390.5h8.4m-4.2-4.2v8.4M204.3 344.5h8.4m-4.2-4.2v8.4M200.3 326.5h8.4m-4.2-4.2v8.4M201.3 398.5h8.4m-4.2-4.2v8.4M205.3 313.5h8.4m-4.2-4.2v8.4M200.3 365.5h8.4m-4.2-4.2v8.4M203.3 388.5h8.4m-4.2-4.2v8.4M205.3 347.5h8.4m-4.2-4.2v8.4M204.3 310.5h8.4m-4.2-4.2v8.4M203.3 374.5h8.4m-4.2-4.2v8.4M200.3 307.5h8.4m-4.2-4.2v8.4M205.3 323.5h8.4m-4.2-4.2v8.4M203.3 376.5h8.4m-4.2-4.2v8.4M202.3 438.5h8.4m-4.2-4.2v8.4M200.3 384.5h8.4m-4.2-4.2v8.4M198.3 371.5h8.4m-4.2-4.2v8.4M202.3 426.5h8.4m-4.2-4.2v8.4M201.3 427.5h8.4m-4.2-4.2v8.4M199.3 428.5h8.4m-4.2-4.2v8.4M203.3 425.5h8.4m-4.2-4.2v8.4M286.3 459.5h8.4m-4.2-4.2v8.4M285.3 463.5h8.4m-4.2-4.2v8.4M259.3 462.5h8.4m-4.2-4.2v8.4M279.3 462.5h8.4m-4.2-4.2v8.4M269.3 462.5h8.4m-4.2-4.2v8.4M260.3 458.5h8.4m-4.2-4.2v8.4M283.3 460.5h8.4m-4.2-4.2v8.4M277.3 458.5h8.4m-4.2-4.2v8.4M280.3 460.5h8.4m-4.2-4.2v8.4M262.3 460.5h8.4m-4.2-4.2v8.4M272.3 458.5h8.4m-4.2-4.2v8.4M280.3 461.5h8.4m-4.2-4.2v8.4M278.3 462.5h8.4m-4.2-4.2v8.4M282.3 458.5h8.4m-4.2-4.2v8.4M277.3 458.5h8.4m-4.2-4.2v8.4M256.3 462.5h8.4m-4.2-4.2v8.4M262.3 460.5h8.4m-4.2-4.2v8.4M278.3 454.5h8.4m-4.2-4.2v8.4M275.3 462.5h8.4m-4.2-4.2v8.4M280.3 454.5h8.4m-4.2-4.2v8.4M273.3 459.5h8.4m-4.2-4.2v8.4M276.3 455.5h8.4m-4.2-4.2v8.4M285.3 454.5h8.4m-4.2-4.2v8.4M258.3 460.5h8.4m-4.2-4.2v8.4M257.3 457.5h8.4m-4.2-4.2v8.4M286.3 460.5h8.4m-4.2-4.2v8.4M279.3 465.5h8.4m-4.2-4.2v8.4M266.3 461.5h8.4m-4.2-4.2v8.4M275.3 455.5h8.4m-4.2-4.2v8.4M277.3 463.5h8.4m-4.2-4.2v8.4M256.3 462.5h8.4m-4.2-4.2v8.4M283.3 457.5h8.4m-4.2-4.2v8.4M258.3 452.5h8.4m-4.2-4.2v8.4M284.3 456.5h8.4m-4.2-4.2v8.4M259.3 462.5h8.4m-4.2-4.2v8.4M263.3 459.5h8.4m-4.2-4.2v8.4M267.3 457.5h8.4m-4.2-4.2v8.4M279.3 461.5h8.4m-4.2-4.2v8.4M274.3 460.5h8.4m-4.2-4.2v8.4M284.3 460.5h8.4m-4.2-4.2v8.4M265.3 455.5h8.4m-4.2-4.2v8.4M259.3 459.5h8.4m-4.2-4.2v8.4M280.3 457.5h8.4m-4.2-4.2v8.4M286.3 464.5h8.4m-4.2-4.2v8.4M282.3 458.5h8.4m-4.2-4.2v8.4M232.3 273.5h8.4m-4.2-4.2v8.4M249.3 271.5h8.4m-4.2-4.2v8.4M250.3 272.5h8.4m-4.2-4.2v8.4M251.3 271.5h8.4m-4.2-4.2v8.4M237.3 311.5h8.4m-4.2-4.2v8.4M239.3 318.5h8.4m-4.2-4.2v8.4M255.3 328.5h8.4m-4.2-4.2v8.4M225.3 331.5h8.4m-4.2-4.2v8.4M212.3 338.5h8.4m-4.2-4.2v8.4M237.3 338.5h8.4m-4.2-4.2v8.4M248.3 343.5h8.4m-4.2-4.2v8.4M215.3 359.5h8.4m-4.2-4.2v8.4M243.3 360.5h8.4m-4.2-4.2v8.4M250.3 360.5h8.4m-4.2-4.2v8.4M244.3 390.5h8.4m-4.2-4.2v8.4M240.3 400.5h8.4m-4.2-4.2v8.4M242.3 402.5h8.4m-4.2-4.2v8.4M239.3 398.5h8.4m-4.2-4.2v8.4M253.3 408.5h8.4m-4.2-4.2v8.4M228.3 409.5h8.4m-4.2-4.2v8.4M228.3 411.5h8.4m-4.2-4.2v8.4M249.3 417.5h8.4m-4.2-4.2v8.4M253.3 436.5h8.4m-4.2-4.2v8.4M236.3 453.5h8.4m-4.2-4.2v8.4M240.3 477.5h8.4m-4.2-4.2v8.4M201.3 441.5h8.4m-4.2-4.2v8.4M201.3 449.5h8.4m-4.2-4.2v8.4M201.3 450.5h8.4m-4.2-4.2v8.4M201.3 451.5h8.4m-4.2-4.2v8.4M201.3 452.5h8.4m-4.2-4.2v8.4M201.3 62.5h8.4m-4.2-4.2v8.4M248.3 67.5h8.4m-4.2-4.2v8.4M273.3 65.5h8.4m-4.2-4.2v8.4M291.3 62.5h8.4m-4.2-4.2v8.4M294.3 62.5h8.4m-4.2-4.2v8.4M309.3 63.5h8.4m-4.2-4.2v8.4M304.3 73.5h8.4m-4.2-4.2v8.4M310.3 74.5h8.4m-4.2-4.2v8.4M319.3 73.5h8.4m-4.2-4.2v8.4M330.3 57.5h8.4m-4.2-4.2v8.4" stroke="#00bfbf" stroke-width="0.8" fill="none"/>
<path d="M231.8 269.1l8.34 8.34M231.8 277.5l8.34 -8.34M249.3 266.8l8.34 8.34M249.3 275.2l8.34 -8.34M250.4 267.8l8.34 8.34M250.4 276.2l8.34 -8.34M251.0 267.1l8.34 8.34M251.0 275.5l8.34 -8.34M237.1 307.3l8.34 8.34M237.1 315.7l8.34 -8.34M239.2 313.8l8.34 8.34M239.2 322.2l8.34 -8.34M254.8 323.8l8.34 8.34M254.8 332.2l8.34 -8.34M225.6 327.3l8.34 8.34M225.6 335.7l8.34 -8.34M212.3 333.8l8.34 8.34M212.3 342.2l8.34 -8.34M237.1 334.5l8.34 8.34M237.1 342.9l8.34 -8.34M247.8 339.3l8.34 8.34M247.8 347.7l8.34 -8.34M215.2 354.8l8.34 8.34M215.2 363.2l8.34 -8.34M242.8 356.3l8.34 8.34M242.8 364.7l8.34 -8.34M250.4 356.3l8.34 8.34M250.4 364.7l8.34 -8.34M244.3 386.5l8.34 8.34M244.3 394.9l8.34 -8.34M239.8 395.8l8.34 8.34M239.8 404.2l8.34 -8.34M242.4 398.5l8.34 8.34M242.4 406.9l8.34 -8.34M238.8 394.3l8.34 8.34M238.8 402.7l8.34 -8.34M253.6 403.8l8.34 8.34M253.6 412.2l8.34 -8.34M227.8 405.1l8.34 8.34M227.8 413.5l8.34 -8.34M228.6 407.3l8.34 8.34M228.6 415.7l8.34 -8.34M249.1 413.1l8.34 8.34M249.1 421.5l8.34 -8.34M253.1 431.8l8.34 8.34M253.1 440.2l8.34 -8.34M236.6 448.8l8.34 8.34M236.6 457.2l8.34 -8.34M239.8 473.7l8.34 8.34M239.8 482.1l8.34 -8.34" stroke="#0000ff" stroke-width="0.8" fill="none"/>
<circle cx="207.3" cy="460.3" r="4.17" fill="#bf00bf" stroke="#000" stroke-width="0.7"/><circle cx="259.8" cy="459.7" r="4.17" fill="#bf00bf" stroke="#000" stroke-width="0.7"/><circle cx="208.5" cy="460.5" r="4.17" fill="#bf00bf" stroke="#000" stroke-width="0.7"/><circle cx="258.7" cy="459.2" r="4.17" fill="#bf00bf" stroke="#000" stroke-width="0.7"/><circle cx="212.0" cy="460.5" r="4.17" fill="#bf00bf" stroke="#000" stroke-width="0.7"/><circle cx="255.0" cy="459.1" r="4.17" fill="#bf00bf" stroke="#000" stroke-width="0.7"/><circle cx="238.0" cy="459.1" r="4.17" fill="#bf00bf" stroke="#000" stroke-width="0.7"/><circle cx="220.6" cy="460.8" r="4.17" fill="#bf00bf" stroke="#000" stroke-width="0.7"/><circle cx="236.0" cy="460.8" r="4.17" fill="#bf00bf" stroke="#000" stroke-width="0.7"/><circle cx="257.9" cy="460.1" r="4.17" fill="#bf00bf" stroke="#000" stroke-width="0.7"/><circle cx="246.5" cy="461.2" r="4.17" fill="#bf00bf" stroke="#000" stroke-width="0.7"/><circle cx="250.6" cy="461.1" r="4.17" fill="#bf00bf" stroke="#000" stroke-width="0.7"/><circle cx="230.3" cy="460.4" r="4.17" fill="#bf00bf" stroke="#000" stroke-width="0.7"/><circle cx="227.9" cy="460.5" r="4.17" fill="#bf00bf" stroke="#000" stroke-width="0.7"/><circle cx="256.8" cy="460.5" r="4.17" fill="#bf00bf" stroke="#000" stroke-width="0.7"/><circle cx="259.2" cy="460.4" r="4.17" fill="#bf00bf" stroke="#000" stroke-width="0.7"/><circle cx="218.4" cy="458.7" r="4.17" fill="#bf00bf" stroke="#000" stroke-width="0.7"/><circle cx="234.8" cy="460.8" r="4.17" fill="#bf00bf" stroke="#000" stroke-width="0.7"/><circle cx="254.4" cy="460.5" r="4.17" fill="#bf00bf" stroke="#000" stroke-width="0.7"/><circle cx="246.7" cy="459.3" r="4.17" fill="#bf00bf" stroke="#000" stroke-width="0.7"/><circle cx="242.9" cy="460.9" r="4.17" fill="#bf00bf" stroke="#000" stroke-width="0.7"/><circle cx="242.2" cy="460.3" r="4.17" fill="#bf00bf" stroke="#000" stroke-width="0.7"/><circle cx="228.2" cy="458.7" r="4.17" fill="#bf00bf" stroke="#000" stroke-width="0.7"/><circle cx="243.0" cy="459.1" r="4.17" fill="#bf00bf" stroke="#000" stroke-width="0.7"/><circle cx="209.5" cy="460.3" r="4.17" fill="#bf00bf" stroke="#000" stroke-width="0.7"/><circle cx="211.1" cy="459.5" r="4.17" fill="#bf00bf" stroke="#000" stroke-width="0.7"/><circle cx="208.2" cy="459.0" r="4.17" fill="#bf00bf" stroke="#000" stroke-width="0.7"/><circle cx="212.0" cy="458.7" r="4.17" fill="#bf00bf" stroke="#000" stroke-width="0.7"/><circle cx="246.8" cy="460.1" r="4.17" fill="#bf00bf" stroke="#000" stroke-width="0.7"/><circle cx="251.0" cy="460.7" r="4.17" fill="#bf00bf" stroke="#000" stroke-width="0.7"/><circle cx="218.5" cy="461.1" r="4.17" fill="#bf00bf" stroke="#000" stroke-width="0.7"/><circle cx="246.9" cy="458.9" r="4.17" fill="#bf00bf" stroke="#000" stroke-width="0.7"/><circle cx="215.6" cy="459.4" r="4.17" fill="#bf00bf" stroke="#000" stroke-width="0.7"/><circle cx="220.4" cy="459.4" r="4.17" fill="#bf00bf" stroke="#000" stroke-width="0.7"/><circle cx="249.8" cy="460.0" r="4.17" fill="#bf00bf" stroke="#000" stroke-width="0.7"/><circle cx="253.2" cy="458.9" r="4.17" fill="#bf00bf" stroke="#000" stroke-width="0.7"/><circle cx="220.5" cy="461.1" r="4.17" fill="#bf00bf" stroke="#000" stroke-width="0.7"/><circle cx="209.4" cy="458.7" r="4.17" fill="#bf00bf" stroke="#000" stroke-width="0.7"/><circle cx="253.6" cy="459.9" r="4.17" fill="#bf00bf" stroke="#000" stroke-width="0.7"/><circle cx="257.1" cy="461.2" r="4.17" fill="#bf00bf" stroke="#000" stroke-width="0.7"/><circle cx="231.8" cy="460.2" r="4.17" fill="#bf00bf" stroke="#000" stroke-width="0.7"/><circle cx="208.9" cy="459.9" r="4.17" fill="#bf00bf" stroke="#000" stroke-width="0.7"/><circle cx="228.2" cy="459.8" r="4.17" fill="#bf00bf" stroke="#000" stroke-width="0.7"/><circle cx="211.2" cy="460.5" r="4.17" fill="#bf00bf" stroke="#000" stroke-width="0.7"/><circle cx="216.9" cy="460.2" r="4.17" fill="#bf00bf" stroke="#000" stroke-width="0.7"/><circle cx="253.1" cy="460.6" r="4.17" fill="#bf00bf" stroke="#000" stroke-width="0.7"/><circle cx="217.9" cy="460.5" r="4.17" fill="#bf00bf" stroke="#000" stroke-width="0.7"/><circle cx="252.8" cy="460.5" r="4.17" fill="#bf00bf" stroke="#000" stroke-width="0.7"/><circle cx="207.6" cy="460.1" r="4.17" fill="#bf00bf" stroke="#000" stroke-width="0.7"/><circle cx="258.4" cy="461.1" r="4.17" fill="#bf00bf" stroke="#000" stroke-width="0.7"/><circle cx="222.2" cy="459.2" r="4.17" fill="#bf00bf" stroke="#000" stroke-width="0.7"/><circle cx="212.4" cy="459.8" r="4.17" fill="#bf00bf" stroke="#000" stroke-width="0.7"/><circle cx="212.2" cy="459.0" r="4.17" fill="#bf00bf" stroke="#000" stroke-width="0.7"/><circle cx="226.0" cy="460.4" r="4.17" fill="#bf00bf" stroke="#000" stroke-width="0.7"/><circle cx="238.6" cy="461.2" r="4.17" fill="#bf00bf" stroke="#000" stroke-width="0.7"/><circle cx="218.7" cy="460.5" r="4.17" fill="#bf00bf" stroke="#000" stroke-width="0.7"/><circle cx="215.3" cy="459.3" r="4.17" fill="#bf00bf" stroke="#000" stroke-width="0.7"/><circle cx="222.8" cy="460.9" r="4.17" fill="#bf00bf" stroke="#000" stroke-width="0.7"/><circle cx="215.7" cy="458.7" r="4.17" fill="#bf00bf" stroke="#000" stroke-width="0.7"/><circle cx="245.8" cy="460.6" r="4.17" fill="#bf00bf" stroke="#000" stroke-width="0.7"/><circle cx="208.5" cy="460.0" r="4.17" fill="#bf00bf" stroke="#000" stroke-width="0.7"/><circle cx="256.0" cy="458.8" r="4.17" fill="#bf00bf" stroke="#000" stroke-width="0.7"/><circle cx="252.2" cy="458.8" r="4.17" fill="#bf00bf" stroke="#000" stroke-width="0.7"/><circle cx="241.3" cy="459.0" r="4.17" fill="#bf00bf" stroke="#000" stroke-width="0.7"/><circle cx="259.0" cy="460.8" r="4.17" fill="#bf00bf" stroke="#000" stroke-width="0.7"/><circle cx="243.0" cy="458.8" r="4.17" fill="#bf00bf" stroke="#000" stroke-width="0.7"/><circle cx="244.5" cy="459.7" r="4.17" fill="#bf00bf" stroke="#000" stroke-width="0.7"/><circle cx="216.2" cy="459.9" r="4.17" fill="#bf00bf" stroke="#000" stroke-width="0.7"/><circle cx="255.1" cy="459.4" r="4.17" fill="#bf00bf" stroke="#000" stroke-width="0.7"/><circle cx="220.7" cy="458.6" r="4.17" fill="#bf00bf" stroke="#000" stroke-width="0.7"/><circle cx="228.1" cy="458.8" r="4.17" fill="#bf00bf" stroke="#000" stroke-width="0.7"/><circle cx="251.5" cy="460.6" r="4.17" fill="#bf00bf" stroke="#000" stroke-width="0.7"/><circle cx="248.9" cy="458.7" r="4.17" fill="#bf00bf" stroke="#000" stroke-width="0.7"/><circle cx="236.3" cy="461.0" r="4.17" fill="#bf00bf" stroke="#000" stroke-width="0.7"/><circle cx="215.7" cy="460.7" r="4.17" fill="#bf00bf" stroke="#000" stroke-width="0.7"/><circle cx="252.9" cy="459.0" r="4.17" fill="#bf00bf" stroke="#000" stroke-width="0.7"/><circle cx="211.0" cy="459.1" r="4.17" fill="#bf00bf" stroke="#000" stroke-width="0.7"/><circle cx="252.5" cy="460.0" r="4.17" fill="#bf00bf" stroke="#000" stroke-width="0.7"/><circle cx="245.5" cy="459.0" r="4.17" fill="#bf00bf" stroke="#000" stroke-width="0.7"/><circle cx="249.2" cy="460.2" r="4.17" fill="#bf00bf" stroke="#000" stroke-width="0.7"/><circle cx="216.8" cy="458.9" r="4.17" fill="#bf00bf" stroke="#000" stroke-width="0.7"/><circle cx="254.7" cy="461.1" r="4.17" fill="#bf00bf" stroke="#000" stroke-width="0.7"/><circle cx="229.0" cy="460.7" r="4.17" fill="#bf00bf" stroke="#000" stroke-width="0.7"/><circle cx="255.3" cy="458.9" r="4.17" fill="#bf00bf" stroke="#000" stroke-width="0.7"/><circle cx="241.9" cy="459.2" r="4.17" fill="#bf00bf" stroke="#000" stroke-width="0.7"/><circle cx="258.1" cy="460.0" r="4.17" fill="#bf00bf" stroke="#000" stroke-width="0.7"/><circle cx="255.8" cy="459.2" r="4.17" fill="#bf00bf" stroke="#000" stroke-width="0.7"/><circle cx="208.0" cy="459.8" r="4.17" fill="#bf00bf" stroke="#000" stroke-width="0.7"/><circle cx="233.5" cy="461.0" r="4.17" fill="#bf00bf" stroke="#000" stroke-width="0.7"/><circle cx="239.1" cy="460.7" r="4.17" fill="#bf00bf" stroke="#000" stroke-width="0.7"/><circle cx="259.0" cy="459.2" r="4.17" fill="#bf00bf" stroke="#000" stroke-width="0.7"/><circle cx="254.3" cy="459.4" r="4.17" fill="#bf00bf" stroke="#000" stroke-width="0.7"/><circle cx="238.9" cy="460.8" r="4.17" fill="#bf00bf" stroke="#000" stroke-width="0.7"/><circle cx="255.6" cy="460.0" r="4.17" fill="#bf00bf" stroke="#000" stroke-width="0.7"/><circle cx="256.9" cy="460.0" r="4.17" fill="#bf00bf" stroke="#000" stroke-width="0.7"/><circle cx="249.7" cy="460.1" r="4.17" fill="#bf00bf" stroke="#000" stroke-width="0.7"/><circle cx="215.4" cy="460.6" r="4.17" fill="#bf00bf" stroke="#000" stroke-width="0.7"/><circle cx="207.9" cy="458.7" r="4.17" fill="#bf00bf" stroke="#000" stroke-width="0.7"/><circle cx="227.8" cy="459.2" r="4.17" fill="#bf00bf" stroke="#000" stroke-width="0.7"/><circle cx="232.1" cy="459.0" r="4.17" fill="#bf00bf" stroke="#000" stroke-width="0.7"/><circle cx="238.8" cy="460.3" r="4.17" fill="#bf00bf" stroke="#000" stroke-width="0.7"/><circle cx="225.7" cy="460.2" r="4.17" fill="#bf00bf" stroke="#000" stroke-width="0.7"/><circle cx="222.7" cy="458.7" r="4.17" fill="#bf00bf" stroke="#000" stroke-width="0.7"/><circle cx="232.5" cy="459.1" r="4.17" fill="#bf00bf" stroke="#000" stroke-width="0.7"/><circle cx="208.1" cy="458.8" r="4.17" fill="#bf00bf" stroke="#000" stroke-width="0.7"/><circle cx="231.6" cy="461.1" r="4.17" fill="#bf00bf" stroke="#000" stroke-width="0.7"/><circle cx="231.4" cy="458.9" r="4.17" fill="#bf00bf" stroke="#000" stroke-width="0.7"/><circle cx="210.0" cy="459.3" r="4.17" fill="#bf00bf" stroke="#000" stroke-width="0.7"/><circle cx="213.0" cy="460.8" r="4.17" fill="#bf00bf" stroke="#000" stroke-width="0.7"/><circle cx="209.7" cy="461.1" r="4.17" fill="#bf00bf" stroke="#000" stroke-width="0.7"/><circle cx="212.6" cy="459.2" r="4.17" fill="#bf00bf" stroke="#000" stroke-width="0.7"/><circle cx="221.4" cy="460.5" r="4.17" fill="#bf00bf" stroke="#000" stroke-width="0.7"/><circle cx="240.0" cy="459.4" r="4.17" fill="#bf00bf" stroke="#000" stroke-width="0.7"/><circle cx="247.7" cy="458.8" r="4.17" fill="#bf00bf" stroke="#000" stroke-width="0.7"/><circle cx="241.3" cy="459.0" r="4.17" fill="#bf00bf" stroke="#000" stroke-width="0.7"/><circle cx="233.9" cy="459.5" r="4.17" fill="#bf00bf" stroke="#000" stroke-width="0.7"/><circle cx="231.2" cy="458.7" r="4.17" fill="#bf00bf" stroke="#000" stroke-width="0.7"/><circle cx="251.7" cy="460.9" r="4.17" fill="#bf00bf" stroke="#000" stroke-width="0.7"/><circle cx="254.1" cy="460.8" r="4.17" fill="#bf00bf" stroke="#000" stroke-width="0.7"/><circle cx="208.3" cy="460.7" r="4.17" fill="#bf00bf" stroke="#000" stroke-width="0.7"/><circle cx="235.4" cy="458.9" r="4.17" fill="#bf00bf" stroke="#000" stroke-width="0.7"/><circle cx="228.9" cy="460.9" r="4.17" fill="#bf00bf" stroke="#000" stroke-width="0.7"/><circle cx="258.2" cy="460.0" r="4.17" fill="#bf00bf" stroke="#000" stroke-width="0.7"/><circle cx="243.8" cy="458.7" r="4.17" fill="#bf00bf" stroke="#000" stroke-width="0.7"/><circle cx="236.5" cy="460.1" r="4.17" fill="#bf00bf" stroke="#000" stroke-width="0.7"/><circle cx="216.0" cy="459.6" r="4.17" fill="#bf00bf" stroke="#000" stroke-width="0.7"/><circle cx="258.0" cy="459.9" r="4.17" fill="#bf00bf" stroke="#000" stroke-width="0.7"/><circle cx="216.4" cy="458.7" r="4.17" fill="#bf00bf" stroke="#000" stroke-width="0.7"/><circle cx="237.6" cy="460.8" r="4.17" fill="#bf00bf" stroke="#000" stroke-width="0.7"/><circle cx="212.3" cy="460.9" r="4.17" fill="#bf00bf" stroke="#000" stroke-width="0.7"/><circle cx="215.0" cy="460.7" r="4.17" fill="#bf00bf" stroke="#000" stroke-width="0.7"/><circle cx="218.9" cy="459.0" r="4.17" fill="#bf00bf" stroke="#000" stroke-width="0.7"/><circle cx="257.0" cy="458.8" r="4.17" fill="#bf00bf" stroke="#000" stroke-width="0.7"/><circle cx="241.0" cy="460.4" r="4.17" fill="#bf00bf" stroke="#000" stroke-width="0.7"/><circle cx="242.8" cy="460.7" r="4.17" fill="#bf00bf" stroke="#000" stroke-width="0.7"/><circle cx="209.1" cy="459.7" r="4.17" fill="#bf00bf" stroke="#000" stroke-width="0.7"/><circle cx="247.8" cy="460.8" r="4.17" fill="#bf00bf" stroke="#000" stroke-width="0.7"/><circle cx="237.3" cy="460.1" r="4.17" fill="#bf00bf" stroke="#000" stroke-width="0.7"/><circle cx="248.1" cy="460.2" r="4.17" fill="#bf00bf" stroke="#000" stroke-width="0.7"/><circle cx="241.1" cy="459.7" r="4.17" fill="#bf00bf" stroke="#000" stroke-width="0.7"/><circle cx="236.9" cy="459.7" r="4.17" fill="#bf00bf" stroke="#000" stroke-width="0.7"/><circle cx="210.0" cy="461.1" r="4.17" fill="#bf00bf" stroke="#000" stroke-width="0.7"/><circle cx="230.8" cy="458.8" r="4.17" fill="#bf00bf" stroke="#000" stroke-width="0.7"/><circle cx="230.0" cy="459.1" r="4.17" fill="#bf00bf" stroke="#000" stroke-width="0.7"/><circle cx="248.2" cy="460.1" r="4.17" fill="#bf00bf" stroke="#000" stroke-width="0.7"/><circle cx="226.2" cy="458.9" r="4.17" fill="#bf00bf" stroke="#000" stroke-width="0.7"/><circle cx="249.4" cy="459.1" r="4.17" fill="#bf00bf" stroke="#000" stroke-width="0.7"/><circle cx="246.7" cy="460.6" r="4.17" fill="#bf00bf" stroke="#000" stroke-width="0.7"/><circle cx="213.3" cy="459.8" r="4.17" fill="#bf00bf" stroke="#000" stroke-width="0.7"/><circle cx="213.3" cy="460.7" r="4.17" fill="#bf00bf" stroke="#000" stroke-width="0.7"/>
<circle cx="238.0" cy="459.1" r="3.6" fill="#bf00bf"/><circle cx="220.6" cy="460.8" r="3.6" fill="#bf00bf"/><circle cx="236.0" cy="460.8" r="3.6" fill="#bf00bf"/><circle cx="257.9" cy="460.1" r="3.6" fill="#bf00bf"/><circle cx="246.5" cy="461.2" r="3.6" fill="#bf00bf"/><circle cx="250.6" cy="461.1" r="3.6" fill="#bf00bf"/><circle cx="230.3" cy="460.4" r="3.6" fill="#bf00bf"/><circle cx="227.9" cy="460.5" r="3.6" fill="#bf00bf"/><circle cx="256.8" cy="460.5" r="3.6" fill="#bf00bf"/><circle cx="259.2" cy="460.4" r="3.6" fill="#bf00bf"/><circle cx="218.4" cy="458.7" r="3.6" fill="#bf00bf"/><circle cx="234.8" cy="460.8" r="3.6" fill="#bf00bf"/><circle cx="254.4" cy="460.5" r="3.6" fill="#bf00bf"/><circle cx="246.7" cy="459.3" r="3.6" fill="#bf00bf"/><circle cx="242.9" cy="460.9" r="3.6" fill="#bf00bf"/><circle cx="242.2" cy="460.3" r="3.6" fill="#bf00bf"/><circle cx="228.2" cy="458.7" r="3.6" fill="#bf00bf"/><circle cx="243.0" cy="459.1" r="3.6" fill="#bf00bf"/><circle cx="209.5" cy="460.3" r="3.6" fill="#bf00bf"/><circle cx="211.1" cy="459.5" r="3.6" fill="#bf00bf"/><circle cx="208.2" cy="459.0" r="3.6" fill="#bf00bf"/><circle cx="212.0" cy="458.7" r="3.6" fill="#bf00bf"/><circle cx="246.8" cy="460.1" r="3.6" fill="#bf00bf"/><circle cx="251.0" cy="460.7" r="3.6" fill="#bf00bf"/><circle cx="218.5" cy="461.1" r="3.6" fill="#bf00bf"/><circle cx="246.9" cy="458.9" r="3.6" fill="#bf00bf"/><circle cx="215.6" cy="459.4" r="3.6" fill="#bf00bf"/><circle cx="220.4" cy="459.4" r="3.6" fill="#bf00bf"/><circle cx="249.8" cy="460.0" r="3.6" fill="#bf00bf"/><circle cx="253.2" cy="458.9" r="3.6" fill="#bf00bf"/><circle cx="220.5" cy="461.1" r="3.6" fill="#bf00bf"/><circle cx="209.4" cy="458.7" r="3.6" fill="#bf00bf"/><circle cx="253.6" cy="459.9" r="3.6" fill="#bf00bf"/><circle cx="257.1" cy="461.2" r="3.6" fill="#bf00bf"/><circle cx="231.8" cy="460.2" r="3.6" fill="#bf00bf"/><circle cx="208.9" cy="459.9" r="3.6" fill="#bf00bf"/><circle cx="228.2" cy="459.8" r="3.6" fill="#bf00bf"/><circle cx="211.2" cy="460.5" r="3.6" fill="#bf00bf"/><circle cx="216.9" cy="460.2" r="3.6" fill="#bf00bf"/><circle cx="253.1" cy="460.6" r="3.6" fill="#bf00bf"/><circle cx="217.9" cy="460.5" r="3.6" fill="#bf00bf"/><circle cx="252.8" cy="460.5" r="3.6" fill="#bf00bf"/><circle cx="207.6" cy="460.1" r="3.6" fill="#bf00bf"/><circle cx="258.4" cy="461.1" r="3.6" fill="#bf00bf"/><circle cx="222.2" cy="459.2" r="3.6" fill="#bf00bf"/><circle cx="212.4" cy="459.8" r="3.6" fill="#bf00bf"/><circle cx="212.2" cy="459.0" r="3.6" fill="#bf00bf"/><circle cx="226.0" cy="460.4" r="3.6" fill="#bf00bf"/><circle cx="238.6" cy="461.2" r="3.6" fill="#bf00bf"/><circle cx="218.7" cy="460.5" r="3.6" fill="#bf00bf"/><circle cx="215.3" cy="459.3" r="3.6" fill="#bf00bf"/><circle cx="222.8" cy="460.9" r="3.6" fill="#bf00bf"/><circle cx="215.7" cy="458.7" r="3.6" fill="#bf00bf"/><circle cx="245.8" cy="460.6" r="3.6" fill="#bf00bf"/><circle cx="208.5" cy="460.0" r="3.6" fill="#bf00bf"/><circle cx="256.0" cy="458.8" r="3.6" fill="#bf00bf"/><circle cx="252.2" cy="458.8" r="3.6" fill="#bf00bf"/><circle cx="241.3" cy="459.0" r="3.6" fill="#bf00bf"/><circle cx="259.0" cy="460.8" r="3.6" fill="#bf00bf"/><circle cx="243.0" cy="458.8" r="3.6" fill="#bf00bf"/><circle cx="244.5" cy="459.7" r="3.6" fill="#bf00bf"/><circle cx="216.2" cy="459.9" r="3.6" fill="#bf00bf"/><circle cx="255.1" cy="459.4" r="3.6" fill="#bf00bf"/><circle cx="220.7" cy="458.6" r="3.6" fill="#bf00bf"/><circle cx="228.1" cy="458.8" r="3.6" fill="#bf00bf"/><circle cx="251.5" cy="460.6" r="3.6" fill="#bf00bf"/><circle cx="248.9" cy="458.7" r="3.6" fill="#bf00bf"/><circle cx="236.3" cy="461.0" r="3.6" fill="#bf00bf"/><circle cx="215.7" cy="460.7" r="3.6" fill="#bf00bf"/><circle cx="252.9" cy="459.0" r="3.6" fill="#bf00bf"/><circle cx="211.0" cy="459.1" r="3.6" fill="#bf00bf"/><circle cx="252.5" cy="460.0" r="3.6" fill="#bf00bf"/><circle cx="245.5" cy="459.0" r="3.6" fill="#bf00bf"/><circle cx="249.2" cy="460.2" r="3.6" fill="#bf00bf"/><circle cx="216.8" cy="458.9" r="3.6" fill="#bf00bf"/><circle cx="254.7" cy="461.1" r="3.6" fill="#bf00bf"/><circle cx="229.0" cy="460.7" r="3.6" fill="#bf00bf"/><circle cx="255.3" cy="458.9" r="3.6" fill="#bf00bf"/><circle cx="241.9" cy="459.2" r="3.6" fill="#bf00bf"/><circle cx="258.1" cy="460.0" r="3.6" fill="#bf00bf"/><circle cx="255.8" cy="459.2" r="3.6" fill="#bf00bf"/><circle cx="208.0" cy="459.8" r="3.6" fill="#bf00bf"/><circle cx="233.5" cy="461.0" r="3.6" fill="#bf00bf"/><circle cx="239.1" cy="460.7" r="3.6" fill="#bf00bf"/><circle cx="259.0" cy="459.2" r="3.6" fill="#bf00bf"/><circle cx="254.3" cy="459.4" r="3.6" fill="#bf00bf"/><circle cx="238.9" cy="460.8" r="3.6" fill="#bf00bf"/><circle cx="255.6" cy="460.0" r="3.6" fill="#bf00bf"/><circle cx="256.9" cy="460.0" r="3.6" fill="#bf00bf"/><circle cx="249.7" cy="460.1" r="3.6" fill="#bf00bf"/><circle cx="215.4" cy="460.6" r="3.6" fill="#bf00bf"/><circle cx="207.9" cy="458.7" r="3.6" fill="#bf00bf"/><circle cx="227.8" cy="459.2" r="3.6" fill="#bf00bf"/><circle cx="232.1" cy="459.0" r="3.6" fill="#bf00bf"/><circle cx="238.8" cy="460.3" r="3.6" fill="#bf00bf"/><circle cx="225.7" cy="460.2" r="3.6" fill="#bf00bf"/><circle cx="222.7" cy="458.7" r="3.6" fill="#bf00bf"/><circle cx="232.5" cy="459.1" r="3.6" fill="#bf00bf"/><circle cx="208.1" cy="458.8" r="3.6" fill="#bf00bf"/><circle cx="231.6" cy="461.1" r="3.6" fill="#bf00bf"/><circle cx="231.4" cy="458.9" r="3.6" fill="#bf00bf"/><circle cx="210.0" cy="459.3" r="3.6" fill="#bf00bf"/><circle cx="213.0" cy="460.8" r="3.6" fill="#bf00bf"/><circle cx="209.7" cy="461.1" r="3.6" fill="#bf00bf"/>
<circle cx="211.5" cy="460.6" r="4.17" fill="#bf00bf" stroke="#000" stroke-width="0.7"/><circle cx="219.0" cy="460.0" r="4.17" fill="#bf00bf" stroke="#000" stroke-width="0.7"/><circle cx="226.5" cy="459.9" r="4.17" fill="#bf00bf" stroke="#000" stroke-width="0.7"/><circle cx="236.0" cy="459.6" r="4.17" fill="#bf00bf" stroke="#000" stroke-width="0.7"/><circle cx="243.0" cy="460.5" r="4.17" fill="#bf00bf" stroke="#000" stroke-width="0.7"/><circle cx="250.0" cy="459.1" r="4.17" fill="#bf00bf" stroke="#000" stroke-width="0.7"/><circle cx="256.5" cy="460.5" r="4.17" fill="#bf00bf" stroke="#000" stroke-width="0.7"/><circle cx="231.0" cy="459.4" r="4.17" fill="#bf00bf" stroke="#000" stroke-width="0.7"/><circle cx="247.5" cy="458.8" r="4.17" fill="#bf00bf" stroke="#000" stroke-width="0.7"/>
<path d="M100 460.5H382" stroke="#0000ff" stroke-width="1.39" stroke-dasharray="8.33 8.33" fill="none"/>
<path d="M100 460.5H382" stroke="#ff0000" stroke-width="1.39" stroke-dasharray="8.33 8.33" fill="none"/>
<path d="M100 458.5H382M100 461.6H382" stroke="#0000ff" stroke-width="1.39" stroke-dasharray="4.17 6.94 1.39 6.94" fill="none"/>
</g>
<rect x="100.5" y="60.5" width="282.0" height="480.0" fill="none" stroke="#000" stroke-width="1.39"/>
<path d="M100.5 540.5v-5.6M138.5 540.5v-5.6M175.5 540.5v-5.6M213.5 540.5v-5.6M250.5 540.5v-5.6M288.5 540.5v-5.6M325.5 540.5v-5.6M363.5 540.5v-5.6M117.5 60.5v5.6M155.5 60.5v5.6M192.5 60.5v5.6M230.5 60.5v5.6M267.5 60.5v5.6M305.5 60.5v5.6M342.5 60.5v5.6M380.5 60.5v5.6M100.5 540.5h5.6M382.5 540.5h-5.6M100.5 420.5h5.6M382.5 420.5h-5.6M100.5 300.5h5.6M382.5 300.5h-5.6M100.5 180.5h5.6M382.5 180.5h-5.6M100.5 60.5h5.6M382.5 60.5h-5.6" stroke="#000" stroke-width="0.7" fill="none"/>
<g transform="translate(100.50,559.60)"><rect x="-15.12" y="-5.45" width="10.43" height="1.47" fill="#000"/><text x="-4.03" y="0" font-size="17.87" textLength="20.53" lengthAdjust="spacingAndGlyphs">20</text></g>
<g transform="translate(138.07,559.60)"><rect x="-15.12" y="-5.45" width="10.43" height="1.47" fill="#000"/><text x="-3.89" y="0" font-size="17.87" textLength="20.44" lengthAdjust="spacingAndGlyphs">18</text></g>
<g transform="translate(175.65,559.60)"><rect x="-15.12" y="-5.45" width="10.43" height="1.47" fill="#000"/><text x="-3.90" y="0" font-size="17.87" textLength="20.55" lengthAdjust="spacingAndGlyphs">16</text></g>
<g transform="translate(213.22,559.60)"><rect x="-15.12" y="-5.45" width="10.43" height="1.47" fill="#000"/><text x="-3.89" y="0" font-size="17.87" textLength="20.37" lengthAdjust="spacingAndGlyphs">14</text></g>
<g transform="translate(250.79,559.60)"><rect x="-15.12" y="-5.45" width="10.43" height="1.47" fill="#000"/><text x="-3.86" y="0" font-size="17.87" textLength="19.98" lengthAdjust="spacingAndGlyphs">12</text></g>
<g transform="translate(288.37,559.60)"><rect x="-15.12" y="-5.45" width="10.43" height="1.47" fill="#000"/><text x="-3.89" y="0" font-size="17.87" textLength="20.38" lengthAdjust="spacingAndGlyphs">10</text></g>
<g transform="translate(325.94,559.60)"><rect x="-9.82" y="-5.45" width="10.43" height="1.47" fill="#000"/><text x="1.34" y="0" font-size="17.87" textLength="9.88" lengthAdjust="spacingAndGlyphs">8</text></g>
<g transform="translate(363.51,559.60)"><rect x="-9.82" y="-5.45" width="10.43" height="1.47" fill="#000"/><text x="1.22" y="0" font-size="17.87" textLength="10.11" lengthAdjust="spacingAndGlyphs">6</text></g>
<g transform="translate(116.80,50.10)"><text x="-10.17" y="0" font-size="17.87" textLength="20.37" lengthAdjust="spacingAndGlyphs">14</text></g>
<g transform="translate(154.37,50.10)"><text x="-10.18" y="0" font-size="17.87" textLength="20.55" lengthAdjust="spacingAndGlyphs">16</text></g>
<g transform="translate(191.95,50.10)"><text x="-10.17" y="0" font-size="17.87" textLength="20.44" lengthAdjust="spacingAndGlyphs">18</text></g>
<g transform="translate(229.52,50.10)"><text x="-10.31" y="0" font-size="17.87" textLength="20.53" lengthAdjust="spacingAndGlyphs">20</text></g>
<g transform="translate(267.09,50.10)"><text x="-10.29" y="0" font-size="17.87" textLength="20.14" lengthAdjust="spacingAndGlyphs">22</text></g>
<g transform="translate(304.66,50.10)"><text x="-10.31" y="0" font-size="17.87" textLength="20.52" lengthAdjust="spacingAndGlyphs">24</text></g>
<g transform="translate(342.24,50.10)"><text x="-10.32" y="0" font-size="17.87" textLength="20.69" lengthAdjust="spacingAndGlyphs">26</text></g>
<g transform="translate(379.81,50.10)"><text x="-10.31" y="0" font-size="17.87" textLength="20.58" lengthAdjust="spacingAndGlyphs">28</text></g>
<g transform="translate(95.50,545.20)"><text x="-10.19" y="0" font-size="17.87" textLength="9.77" lengthAdjust="spacingAndGlyphs">0</text></g>
<g transform="translate(95.50,425.20)"><text x="-9.98" y="0" font-size="17.87" textLength="9.22" lengthAdjust="spacingAndGlyphs">5</text></g>
<g transform="translate(95.50,305.20)"><text x="-20.77" y="0" font-size="17.87" textLength="20.38" lengthAdjust="spacingAndGlyphs">10</text></g>
<g transform="translate(95.50,185.20)"><text x="-20.75" y="0" font-size="17.87" textLength="20.05" lengthAdjust="spacingAndGlyphs">15</text></g>
<g transform="translate(95.50,65.20)"><text x="-20.92" y="0" font-size="17.87" textLength="20.53" lengthAdjust="spacingAndGlyphs">20</text></g>
<g transform="translate(227.00,29.30)"><text x="-108.27" y="0" font-size="21.14" textLength="62.98" lengthAdjust="spacingAndGlyphs">FWHM</text><text x="-38.12" y="0" font-size="21.14" textLength="21.54" lengthAdjust="spacingAndGlyphs">vs</text><text x="-9.73" y="0" font-size="21.14" textLength="118.15" lengthAdjust="spacingAndGlyphs">magnitudes</text></g>
<g transform="translate(242.00,583.90)"><text x="-146.33" y="0" font-size="17.62" textLength="89.89" lengthAdjust="spacingAndGlyphs">magnitude</text><text x="-50.89" y="0" font-size="17.62" textLength="102.34" lengthAdjust="spacingAndGlyphs">(bottom:isnt</text><text x="57.00" y="0" font-size="17.62" textLength="5.62" lengthAdjust="spacingAndGlyphs">/</text><text x="68.07" y="0" font-size="17.62" textLength="78.26" lengthAdjust="spacingAndGlyphs">top:calib)</text></g>
<g transform="translate(63.60,300.00) rotate(-90)"><text x="-47.93" y="0" font-size="17.62" textLength="52.49" lengthAdjust="spacingAndGlyphs">FWHM</text><text x="10.33" y="0" font-size="17.62" textLength="37.61" lengthAdjust="spacingAndGlyphs">(pix)</text></g>
<g clip-path="url(#c2)">
<rect x="439.1" y="436.56" width="0.4" height="56.77" fill="#000"/>
<rect x="438.5" y="266.50" width="212.00" height="57.00" fill="#0000ff" stroke="#000" stroke-width="1.39"/>
<rect x="438.5" y="209.50" width="3.50" height="57.00" fill="#0000ff" stroke="#000" stroke-width="1.39"/>
<rect x="439.1" y="152.69" width="0.4" height="56.77" fill="#000"/>
<rect x="439.1" y="95.92" width="0.4" height="56.77" fill="#000"/>
<path d="M438.2 296.5H694" stroke="#000" stroke-width="1.39" stroke-dasharray="8.33 8.33" fill="none"/>
</g>
<rect x="438.5" y="60.5" width="282.0" height="480.0" fill="none" stroke="#000" stroke-width="1.39"/>
<path d="M438.5 540.5v-5.6M438.5 60.5v5.6M485.5 540.5v-5.6M485.5 60.5v5.6M532.5 540.5v-5.6M532.5 60.5v5.6M579.5 540.5v-5.6M579.5 60.5v5.6M626.5 540.5v-5.6M626.5 60.5v5.6M673.5 540.5v-5.6M673.5 60.5v5.6M720.5 540.5v-5.6M720.5 60.5v5.6M438.5 540.5h5.6M720.5 540.5h-5.6M438.5 487.5h5.6M720.5 487.5h-5.6M438.5 433.5h5.6M720.5 433.5h-5.6M438.5 380.5h5.6M720.5 380.5h-5.6M438.5 327.5h5.6M720.5 327.5h-5.6M438.5 273.5h5.6M720.5 273.5h-5.6M438.5 220.5h5.6M720.5 220.5h-5.6M438.5 167.5h5.6M720.5 167.5h-5.6M438.5 113.5h5.6M720.5 113.5h-5.6M438.5 60.5h5.6M720.5 60.5h-5.6" stroke="#000" stroke-width="0.7" fill="none"/>
<g transform="translate(437.60,559.60)"><text x="-4.89" y="0" font-size="17.87" textLength="9.77" lengthAdjust="spacingAndGlyphs">0</text></g>
<g transform="translate(484.57,559.60)"><text x="-10.05" y="0" font-size="17.87" textLength="20.26" lengthAdjust="spacingAndGlyphs">50</text></g>
<g transform="translate(531.53,559.60)"><text x="-15.49" y="0" font-size="17.87" textLength="31.02" lengthAdjust="spacingAndGlyphs">100</text></g>
<g transform="translate(578.50,559.60)"><text x="-15.49" y="0" font-size="17.87" textLength="31.02" lengthAdjust="spacingAndGlyphs">150</text></g>
<g transform="translate(625.47,559.60)"><text x="-15.62" y="0" font-size="17.87" textLength="31.15" lengthAdjust="spacingAndGlyphs">200</text></g>
<g transform="translate(672.43,559.60)"><text x="-15.62" y="0" font-size="17.87" textLength="31.15" lengthAdjust="spacingAndGlyphs">250</text></g>
<g transform="translate(719.40,559.60)"><text x="-15.34" y="0" font-size="17.87" textLength="30.86" lengthAdjust="spacingAndGlyphs">300</text></g>
<g transform="translate(434.00,545.20)"><text x="-26.22" y="0" font-size="17.87" textLength="25.83" lengthAdjust="spacingAndGlyphs">2.4</text></g>
<g transform="translate(434.00,491.87)"><text x="-26.23" y="0" font-size="17.87" textLength="26.00" lengthAdjust="spacingAndGlyphs">2.6</text></g>
<g transform="translate(434.00,438.53)"><text x="-26.22" y="0" font-size="17.87" textLength="25.89" lengthAdjust="spacingAndGlyphs">2.8</text></g>
<g transform="translate(434.00,385.20)"><text x="-25.94" y="0" font-size="17.87" textLength="25.55" lengthAdjust="spacingAndGlyphs">3.0</text></g>
<g transform="translate(434.00,331.87)"><text x="-25.93" y="0" font-size="17.87" textLength="25.17" lengthAdjust="spacingAndGlyphs">3.2</text></g>
<g transform="translate(434.00,278.53)"><text x="-25.94" y="0" font-size="17.87" textLength="25.54" lengthAdjust="spacingAndGlyphs">3.4</text></g>
<g transform="translate(434.00,225.20)"><text x="-25.94" y="0" font-size="17.87" textLength="25.70" lengthAdjust="spacingAndGlyphs">3.6</text></g>
<g transform="translate(434.00,171.87)"><text x="-25.94" y="0" font-size="17.87" textLength="25.60" lengthAdjust="spacingAndGlyphs">3.8</text></g>
<g transform="translate(434.00,118.53)"><text x="-26.12" y="0" font-size="17.87" textLength="25.73" lengthAdjust="spacingAndGlyphs">4.0</text></g>
<g transform="translate(434.00,65.20)"><text x="-26.11" y="0" font-size="17.87" textLength="25.36" lengthAdjust="spacingAndGlyphs">4.2</text></g>
<g transform="translate(580.40,53.30)"><text x="-98.26" y="0" font-size="21.14" textLength="100.98" lengthAdjust="spacingAndGlyphs">histogram</text><text x="9.39" y="0" font-size="21.14" textLength="19.50" lengthAdjust="spacingAndGlyphs">of</text><text x="35.20" y="0" font-size="21.14" textLength="62.98" lengthAdjust="spacingAndGlyphs">FWHM</text></g>
<g transform="translate(579.60,583.90)"><text x="-77.63" y="0" font-size="17.62" textLength="65.13" lengthAdjust="spacingAndGlyphs">number</text><text x="-7.42" y="0" font-size="17.62" textLength="16.25" lengthAdjust="spacingAndGlyphs">of</text><text x="14.23" y="0" font-size="17.62" textLength="63.85" lengthAdjust="spacingAndGlyphs">sources</text></g>
<g transform="translate(396.40,300.00) rotate(-90)"><text x="-152.98" y="0" font-size="17.62" textLength="52.49" lengthAdjust="spacingAndGlyphs">FWHM</text><text x="-94.85" y="0" font-size="17.62" textLength="16.25" lengthAdjust="spacingAndGlyphs">of</text><text x="-73.32" y="0" font-size="17.62" textLength="87.12" lengthAdjust="spacingAndGlyphs">best-effort</text><text x="19.57" y="0" font-size="17.62" textLength="65.05" lengthAdjust="spacingAndGlyphs">PSF-like</text><text x="90.44" y="0" font-size="17.62" textLength="63.85" lengthAdjust="spacingAndGlyphs">sources</text></g>
<rect x="27.5" y="70.5" width="345" height="180" fill="#fff" stroke="#000" stroke-width="1.39"/>
<g transform="translate(90.90,92.70)"><text x="0.23" y="0" font-size="21.14" textLength="22.78" lengthAdjust="spacingAndGlyphs">all</text><text x="30.19" y="0" font-size="21.14" textLength="72.18" lengthAdjust="spacingAndGlyphs">sample</text></g>
<g transform="translate(90.90,121.65)"><text x="0.46" y="0" font-size="21.14" textLength="72.18" lengthAdjust="spacingAndGlyphs">sample</text><text x="79.19" y="0" font-size="21.14" textLength="27.77" lengthAdjust="spacingAndGlyphs">for</text><text x="113.24" y="0" font-size="21.14" textLength="57.97" lengthAdjust="spacingAndGlyphs">rough</text><text x="178.09" y="0" font-size="21.14" textLength="62.98" lengthAdjust="spacingAndGlyphs">FWHM</text></g>
<g transform="translate(90.90,150.60)"><text x="0.32" y="0" font-size="21.14" textLength="104.54" lengthAdjust="spacingAndGlyphs">best-effort</text><text x="111.79" y="0" font-size="21.14" textLength="78.06" lengthAdjust="spacingAndGlyphs">PSF-like</text><text x="196.82" y="0" font-size="21.14" textLength="72.18" lengthAdjust="spacingAndGlyphs">sample</text></g>
<g transform="translate(90.90,179.55)"><text x="0.27" y="0" font-size="21.14" textLength="89.22" lengthAdjust="spacingAndGlyphs">resultant</text><text x="96.43" y="0" font-size="21.14" textLength="69.58" lengthAdjust="spacingAndGlyphs">FWHM:</text><text x="173.50" y="0" font-size="21.44" textLength="43.09" lengthAdjust="spacingAndGlyphs">3.31</text></g>
<g transform="translate(90.90,208.50)"><text x="0.31" y="0" font-size="21.14" textLength="74.44" lengthAdjust="spacingAndGlyphs">median</text><text x="81.63" y="0" font-size="21.14" textLength="62.98" lengthAdjust="spacingAndGlyphs">FHWM</text><text x="151.38" y="0" font-size="21.14" textLength="19.50" lengthAdjust="spacingAndGlyphs">of</text><text x="177.36" y="0" font-size="21.14" textLength="95.83" lengthAdjust="spacingAndGlyphs">sequence</text></g>
<g transform="translate(90.90,237.45)"><text x="0.48" y="0" font-size="21.14" textLength="58.12" lengthAdjust="spacingAndGlyphs">sigma</text><text x="67.08" y="0" font-size="21.14" textLength="57.78" lengthAdjust="spacingAndGlyphs">range</text></g>
<path d="M37.3 86.5h8.4m-4.2-4.2v8.4M65.3 86.5h8.4m-4.2-4.2v8.4" stroke="#00bfbf" stroke-width="0.8" fill="none"/>
<path d="M37.1 111.1l8.34 8.34M37.1 119.4l8.34 -8.34M65.1 111.1l8.34 8.34M65.1 119.4l8.34 -8.34" stroke="#0000ff" stroke-width="0.8" fill="none"/>
<circle cx="41.3" cy="144.2" r="4.17" fill="#bf00bf" stroke="#000" stroke-width="0.7"/><circle cx="69.3" cy="144.2" r="4.17" fill="#bf00bf" stroke="#000" stroke-width="0.7"/>
<path d="M41.3 173.2H69.3" stroke="#0000ff" stroke-width="1.39" stroke-dasharray="8.33 8.33" fill="none"/>
<path d="M41.3 202.1H69.3" stroke="#ff0000" stroke-width="1.39" stroke-dasharray="8.33 8.33" fill="none"/>
<path d="M41.3 231.0H69.3" stroke="#0000ff" stroke-width="1.39" stroke-dasharray="4.17 6.94 1.39 6.94" fill="none"/>
</svg>
</body></html>
